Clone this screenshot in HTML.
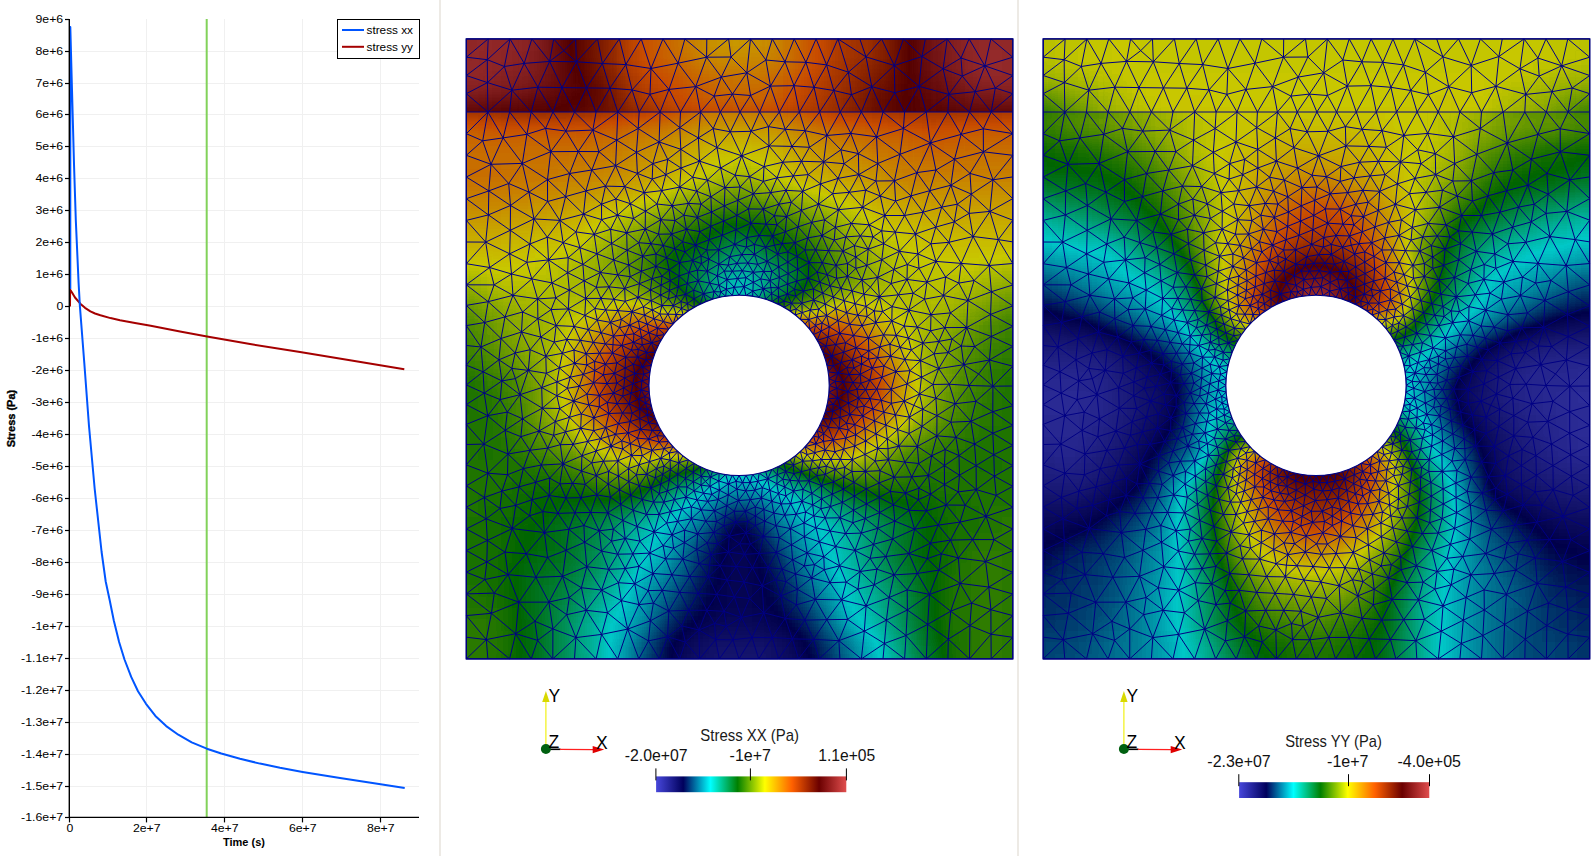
<!DOCTYPE html><html><head><meta charset="utf-8"><title>Stress</title><style>html,body{margin:0;padding:0;background:#fff}svg{display:block}text{font-family:"Liberation Sans",sans-serif;font-size:11px;fill:#000}</style></head><body>
<svg width="1594" height="856" viewBox="0 0 1594 856">
<defs>
<filter id="cm" filterUnits="userSpaceOnUse" x="-40" y="-40" width="626.5" height="700" color-interpolation-filters="sRGB"><feGaussianBlur stdDeviation="5"/><feComponentTransfer><feFuncR type="table" tableValues="0.219 0.000 0.000 0.000 0.785 0.785 0.329 0.690"/><feFuncG type="table" tableValues="0.219 0.000 0.785 0.394 0.785 0.299 0.000 0.237"/><feFuncB type="table" tableValues="0.674 0.283 0.785 0.000 0.000 0.000 0.000 0.237"/><feFuncA type="linear" slope="0" intercept="1"/></feComponentTransfer></filter>
<linearGradient id="cb" x1="0" x2="1" y1="0" y2="0"><stop offset="0.0000" stop-color="rgb(71,71,219)"/><stop offset="0.1429" stop-color="rgb(0,0,92)"/><stop offset="0.2857" stop-color="rgb(0,255,255)"/><stop offset="0.4286" stop-color="rgb(0,128,0)"/><stop offset="0.5714" stop-color="rgb(255,255,0)"/><stop offset="0.7143" stop-color="rgb(255,97,0)"/><stop offset="0.8571" stop-color="rgb(107,0,0)"/><stop offset="1.0000" stop-color="rgb(224,77,77)"/></linearGradient>
<clipPath id="ct"><rect x="0" y="0" width="546.5" height="73.1"/></clipPath>
<clipPath id="cl"><rect x="0" y="73.1" width="546.5" height="546.9"/></clipPath>
<g id="mesh"><path d="M0 0l21.9 0l21.8 0l21.9 0l21.8 0l21.9 0l21.9 0l21.8 0l21.9 0l21.8 0l21.9 0l21.9 0l21.8 0l21.9 0l21.8 0l21.9 0l21.9 0l21.8 0l21.9 0l21.8 0l21.9 0l21.9 0l21.8 0l21.9 0l21.8 0l21.9 0l0 18.3l-21.9-18.3l-6.1 26.9l-15.7-26.9l-8.1 19.1l-13.8-19.1l-25.2 17.6l-18.5-17.6l-9.2 26.6l-12.7-26.6l-15.6 18l-28.1-18l10.5 33.3l3.1 22.5l-11.3 17.3l-20.6 0l-20.2 0l-20 0l-19.7 0l-19.7 0l-19.7 0l-19.8 0l-20 0l-20.4 0l-20.9 0l-21.4 0l-21.7 0l-21.6 0l-21.6 0l-21.7 0l-21.6 0l-21.7 0l-21.6 21.7l0 21.6l0 21.7l0 21.7l0 21.7l0 21.6l0 21.7l0 21.1l0 20.6l0 20.2l0 19.9l0 19.7l0 19.7l0 19.7l0 19.8l0 20.1l0 20.4l0 20.9l0 21.4l0 21.7l0 21.6l0 21.7l0 21.7l0 21.7l0 21.6l0 21.7l21.6 0l21.7 0l21.6 0l21.6 0l21.7 0l21.6 0l21.6 0l21.1 0l20.6 0l20.2 0l20 0l19.7 0l19.7 0l19.7 0l19.9 0l20 0l20.4 0l20.9 0l21.5 0l21.6 0l21.6 0l21.7 0l21.6 0l21.6 0l21.7 0l21.6-21.6l0-21.7l0-21.6l0-21.7l0-21.6l0-21.7l0-21.6l0-21.1l0-20.7l0-20.2l0-20l0-19.7l0-19.7l0-19.8l0-19.8l0-20.1l0-20.4l0-20.9l0-21.5l0-21.6l0-21.7l0-21.6l0-21.7l0-21.6l0-21.7l0-21.6l0-18.3l0-18.2l0-18.3l-28 8.6l28 9.7l-17.5 12.5l17.5 5.7l-21.6 18.3l21.6 0M0 0l0 18.3l21.9-18.3l-0.9 20.8l22.7-20.8l-5.6 27.6l7.5 23.7l-24 21.8l-21.6 0l0 21.7l16.4 7.1l-16.4 14.5l24.7 9l-24.7 12.7l22.5 13.9l-22.5 7.8l22.1 16.2l-22.1 5.5l19.4 21.7l-19.4 21.6l23.3 3.8l-23.3 17.3l27.8 0.1l-4.5-17.4l-3.9-25.4l-19.4-0.1M43.7 0l14.2 24.5l7.7-24.5l17.7 22.5l4.1-22.5l10.1 11.8l11.8-11.8l0.8 22.9l21.1-22.9l4.9 24.6l16.9-24.6l6.5 25.7l15.4-25.7l9.8 29.6l12-29.6l15.1 24.3l6.8-24.3l21.7 18.3l0.2-18.3M262.3 0l-22 18.3l-28.5 6l-27.1 5.3l-18.9 21.4l-14.3 22.1l-7.9-23.8l-13.8 23.8l-9.6-24.1l-12 24.1l-8.6 19.1l-13-19.1l-15-24.8l-6.7 24.8l-19.3-21.8l-2.3 21.8l17.3 22.3l4.3-22.3l14.4 16.4l7.3-16.4l9.1-24.4l12.5 24.4l18.3 18.1l3.3-18.1M262.3 0l2.4 18.1l19.5-18.1l15.4 21.1l6.4-21.1l12.7 22.9l9.2-22.9l11.7 23.4l10.2-23.4l10.5 26l11.3-26M284.2 0l-3.7 33.9l3.8 22.7l-10.6 16.5l-9.7 19.8l-10-19.8l12.2-17.9l7.5 17.9l11.1 19.3l8.6-19.3l-9.1-16.5l19.9-9.4l-10.8 25.9l8.8 14.6l10.9-14.6l-8.9-25.9l14.5-24.3l-19.1-1.8l4.6 26.1l-23.7-13.3l-25.5 4.3l-25.6 9.5l-15.2 25.4l-11.5-22.6l-8.9 22.6l-1 29.9l-6.3 21.7l-0.6 15.5l-14.8-5.7l15.4-9.8l14.9-4.2l-8.6-17.5l-22.7 10.4l16.4 11.3l13 11l-13.6 4.5l9.5 11.5l10.5 15.1l16.2-2.3l8.2-12.2l14.3 5.6l-3.5-16.7l-10.8 11.1l-3.9-14l14.7 2.9l17.6 7.6l12.9 12.6l15.5-6.4l9.9-12.5l0.7-14.8l-14.4 10.1l13.7 4.7l7.4 11.2l-17.3 1.3l-3.8-17.2l-14.5-1.5l-10.1 12.5l-14.1 9.1l0.6 15.2l-0.7 14.3l-10.9 5.3l9.2 8.1l9.5 10.1l11.2 6.9l12-2.1l4.6-7.5l-11.8-2.7l-4.8 12.3l-1.6 8.4l-9.3-1l10.9-7.4l7.2 6.6l4.8-8.7l-7.2-10.2l-16 5.4l-9.7 9.4l-7.5 4.5l-3.9 6.4l0.6 10.7l11.5 2.3l7.7-7.3l9.7 3.8l10.5-1.1l6.5 8.1l-4.9 8.7l-6.7 0.2l-6.7 0.8l-6.6 1.2l-6.5 1.8l-6.4 2.2l-6.1 2.7l-6 3.1l-5.7 3.6l-5.4 4l-5.1 4.4l-4.8 4.8l-4.4 5.1l-4 5.4l-3.6 5.7l-3.1 6l-2.7 6.1l-2.2 6.4l-1.8 6.5l-1.2 6.6l-0.8 6.7l-0.3 6.8l0.3 6.7l0.8 6.7l1.2 6.6l1.8 6.5l2.2 6.4l2.7 6.1l3.1 6l3.6 5.7l4 5.4l4.4 5.1l4.8 4.8l5.1 4.4l5.4 4l5.7 3.6l6 3.1l6.1 2.7l6.4 2.2l6.5 1.8l6.6 1.2l6.7 0.8l6.7 0.3l6.8-0.3l6.7-0.8l6.6-1.2l6.5-1.8l6.4-2.2l6.1-2.7l6-3.1l5.7-3.6l5.4-4l5.1-4.4l4.8-4.8l4.4-5.1l4-5.4l3.6-5.7l3.1-6l2.7-6.1l2.2-6.4l1.8-6.5l1.2-6.6l0.8-6.7l0.2-6.7l-0.2-6.8l-0.8-6.7l-1.2-6.6l-1.8-6.5l-2.2-6.4l-2.7-6.1l-3.1-6l-3.6-5.7l-4-5.4l-4.4-5.1l-4.8-4.8l-5.1-4.4l-5.4-4l-5.7-3.6l-6-3.1l-6.1-2.7l-6.4-2.2l-6.5-1.8l-6.6-1.2l-6.7-0.8l-6.8-0.2l-4.8-8l-1.9 8.2l-6-6.3l-0.7 7.1l-4.9-4.4l-1.7 5.6l-5.1-5.8l-1.4 7.6l-9.1-5.6l-3.4 10.5l-6-5.4l0 8.5l-6.6-3.8l0.9 7.4l-6.9-2.4l1.5 6.4l-6.9-0.5l-3 9.7l-9.7-2.6l5.3 7.7l-11.1-1.1l7.1 6.5l-8 1.1l4.4 4.6l-9.8 2.5l4 9.6l-9-0.1l6.8 6.5l-7 1.3l5.2 5.2l-8.9 1.3l7.7 5.3l-6.4 2.3l5.6 4.4l-7.5 2.2l7.2 4.6l-7.9 4.6l8.2 2.1l-4.5 4.4l5.3 2.3l-4.8 4.2l6 2.4l-4 3.6l5.8 2.9l-5.8 3.2l8 3.2l-6.5 4.5l9.2 1.6l-5.8 6l8.9 0l-4 5.3l7.6 0.4l-5.6 5.9l9.6-0.5l-4.8 7.2l9.2-2.1l-3.9 6.4l8.7-1.6l1 11.4l9.5-3l-2.3 8.7l8-5.1l-0.9 9l6.9-5.9l1.1 9.7l5-7l4.2 7.9l8.7-3.9l-0.3 7.8l6.9-6.6l2.7 9.5l4-8.7l3.7 6.2l3-5.9l3.5 7.1l3.3-7.4l4.2 7.4l2.5-8.2l5.3 6.8l1.3-8l8.5 5.7l4.4-9.7l5.1 5.5l1-8.2l7.5 5.1l-1.5-8.2l9.2 1.7l1.9-9.3l7.6 5.4l-2.5-9.8l6.7 3.1l-1.9-7.9l9.5 6l1.2-8.7l-2.3-7.8l5.3 1.2l-1.7-6.9l6.5 3.3l-3.4-9.3l8.1 3l-5.4-9.1l8.4 0.9l-6.2-7.3l7.7-0.8l-5.9-5.7l6.2-1.1l-5-5.5l9.4-0.8l-8.6-5.9l7.9-3.7l-7.7-3l6-4l-6.2-2.8l9.2-5.5l-10-1.2l5.1-6.1l-6.3-0.5l4.9-9.4l-8.9-3.5l3-6.4l-8.8-5.7l10.9-3.3l1.2-10.1l10.5 6.4l5.8 9.4l10.6 5.1l12.6 2.9l11-3.8l10.1-2.6l6.2-9l-4.3-14.4l17-10.8l8.5 16.9l13.7-12.3l-22.2-4.6l4.3-16.9l13.9-11.1l16.5 13.5l15.3-12.5l15.3-2.6l15.1-15l23.6-2l-14.5-23.9l14.5-19.4l-22.9-8.8l22.9-12.8l-19.8-18.8l19.8-24.5l-29.4-3.5l29.4-18.2l-21.6-21.6l-21.7 0l-21.6 0l-21.7 0l-21.6 0l-21.6 0l-21.7 0l-21.1 0l-13.3 23.5l-7.3-23.5l-5.6-24.7l-14.6 24.7l5.7 18.7l14.5-18.7l14.2-21.5l6.4 21.5l10.6 21.4l10.5-21.4l-9.8-17.3l20.3-8l-10.5 25.3l15.2 24.8l6.5-24.8l20.4 16.5l1.2-16.5l14.4-25.7l7.2 25.7l4.2 30.9l17.5-30.9l0.9-17.6l-22.6 17.6l-22.8 16.5l27 14.4l-13.6 29.7l-5.8 23.3l12.1 16.3l18.6-5.1l9.2-21.9l19.1-11.8l1.3 20.7l-20.4-8.9l3.6-26l15.5 14.2l23 6.4l19.8-2.9M393.5 0l6.2 18l-17.6 15.3l23.4 14.5l11.2 25.3l11.8-19.3l9.8 19.3M459.1 0l-3.4 17.6l-27.7 9l-22.5 21.2l-5.8-29.8l28.3 8.6l24.7 20.8l29.8 8.1l20.7 17.6l5.6-20.3l16.1 20.3l-7.9 16.8l29.5 4.8M480.9 0l-4.1 29.9l5.7 25.6l26.3-2.7l9.7-25.9l-23.8-7.8l-17.9 10.8l-21.1-12.3l-3 29.8l-24.2 6.4l-23-6M546.5 203l-14.5-2.3l-9.1 25.9l23.6 19.5l-21.4 6.7l21.4 14.2l-22.2 8.5l22.2 11.9l-21.5 10.2l21.5 9.9l-23.3 13.6l23.3 6.2l-19.9 20l19.9-0.2M546.5 366.8l-19.9-19.5l-14.3-12.2l10.9-14l1.8-23.5l-24.6-9l-21.9 0.1l-6 13.8l9.5 11.2l13-6.6l5.4-18.5l1.3-27l-9.2-17.4l-13.2-6.1l-18.6 5.1l9-20.7l-5.1-17.6l-13 10.1l-10.6 10.6l-13.4 4.9l-2.8 14.1l-13.4-6.1l16.2-8l13.1 10l20 2.7l-2.5 17.1l-15.7 10.9l-10.4-15.3l-7.3-11.3l-11.7 13.3l-13.4 9.6l1.2 10.1l-9.5-1.2l8.3-8.9l-11-2.7l-2.9-12.9l-4.7-14.3l-11.4-11.1l-7.5-14.7l5.7-10.6l11.6-3.2l5.6-13.5l17.7 1.4l12.6 6l13.6 1.3l-11.6 11.6l-15.5 5.5l-12.4 7.8l11.1 8.3l1.3-16.1l-7.9-13.3l-8.9-12.5l-12.9-13.7l-14 10.1l-6.1-15.5l2.1-20.4l3.1-22l-22.1-0.6l-9.6-14.9l13.2-15.7l21.8 4.8l-3.3 26.4l17.2-12.1l-13.9-14.3l23.9-2.1l25.7 3.4l26.9-8.3l-3.4 25.8l30.4-11.4l24.1 16.3l6.6-24.8l-13.2-22.4M546.5 366.8l-20 6l20 13.7l-20 7.8l20 12.2l-19 9.3l19 10.9l-18.4 10.6l18.4 10.1l-16.6 9.1l16.6 12l-26.7 8.9l26.7 12.7l-18.8 10.6l18.8 11.1l-27.2 10.8l27.2 10.8l-24 14.8l24 6.9l-21.9 15.7l21.9 5.9l-21.8 18.6l21.8 3.1l0 21.6l-21.6 0l-0.2-24.7l-21.5 24.7l-21.2-19.7l-0.4 19.7M503.2 620l0.4-33.3l-21.6 13.6l-22 19.7l-20.3-23.4l-1.4 23.4l-20.2-15.4l-1.4 15.4M460 620l1.4-34.5l20.6 14.8l2.4-28l9.5-27.8l25.4-21.9l-13-21.9l13.5-23.3l-20.9-11.1l11.1-15.6l18.1-13.4l-18.3-10.6l-16.6 9.6l-15.1-9.6l0.1 18.9l15-9.3l16.8 14.4l9.8 26.7l-26.1 5.8l-21.7 3l-7.9 18.1l10.9 10.6l-2.4 16.3l21.3 13.3l11.4 19.6l-1.7 22.6l21.1 8.6l-0.1-24.5l-19.3-6.7l-20.9 8.2l19.2 14.4l21-15.9l-2.1-22.6l-3.2-25.6l-27.2-3.6l1.8 25.5l28.6 3.7l-17.2 15.9M395.1 620l2.9-27.7l-16.7-11.8l-20.8 0.3l-13.3 19.7l5.5 19.5l19.9-18.2l22.5 18.2l23-15.4l-20.1-12.3l1.8-25.2l23.1-8.5l4.9-22.6l23.3-1.4l-8.5-20l-14.8 21.4l-8.2-18.4l-12.3-12.2l19.1-5.3l2.1-17.9l-15.2-8.5l-0.4-15.1l-13-8.6l-0.9-17.5l9.8-10.3l13.2-1.4l-10.5-11.3l-2.7 12.7l5 9.6l8.2-11l16.5 2.4l12.6-15.7l19.4-10.6l14-13.6l4.4-18.5l20.7-2.4l17-15.1l-3.4-26.2l-25.8 4.7l14.9 9.3l-9.6 11.5l-13.8 18.2l-18.2 11.9l-0.2 20.2l19.1 1.6l18.6 6.6l18.3-10.8l1 21.5l0.6 21.5l1.8 19.2l-10.1 20.9l7.9 23.3l-8.4 21.9M373.6 620l-1-18.2l25.4-9.5l22.1-11l19.6 15.3l21.7-11.1l23-13.2l-21.2-16.8l30.7-11M332.3 620l-6.3-20.1l-13.7 20.1l-6.4-21.5l-13.5 21.5l-6.7-21.4l-13 21.4l-6.1-19.1l-13.6 19.1l-3.7-19.3l-16 19.3l-14.2-16.8l-5.8 16.8l-12-22.1l-8.2 22.1l-10.9-18l-9.7 18l-11.1-29.8l-10 29.8l-16.1-24.5l-5.5 24.5l-20.2-21.3l-1.4 21.3M332.3 620l14.9-19.5l-21.2-0.6l-20.1-1.4l-8.4-24.6l-1.6-26.9l18.6 10.1l-17 16.8l-22.5 4.6l8.4-18.9l14.1 14.3l21.4 5.5l7.1 20.5l12.5-18.7l22-0.4l-11.5-20.3l14.7-16.7l-18.4-4.6l3.7 21.3l26.3 0.5l-14.8 19.8l12.1 21l-25.4-1.3l-8.7-19.3l10.5-20.7l-18-10.1l-16.5 6.7l4.4 22.3l-13 19.1l-20.2 0.1l11.8-24.7M233.3 620l-0.7-28.9l7.9-19.7l9.9-15.8l-8.2-17.6l-9.2-13.2l-9.6 12.9l18.8 0.3l-10.3 16.4l8.6 17l17.1 1l17.4 6.1l-8.4 22.4l-17.3-0.2l-1-16.1l-7.8-13.2l-18.1 0l-19.9 0.7l12.9 14.9l3.7 16.2l13.5-12.1l-17.2-4.1l7-15.6l9.5-17l-8.5-16.7l-6.9-17.5l16.5 4.6l-2.6-14.2l10.4-6.6l-9.5-9l-0.9 15.6l-13.9 9.6l1.6-16.5l-12.4-7.7l-5.4-11.8l3.8-11.4l7.3 9.6l-5.7 13.6l-8.9 10.7l2.5 13.3l17.2 0.2l-10.9 15.7l17.8 1.8l-10 15.8l-10.9 18.6l-6.5-20.7l9.6-15.5l-6.3-15.9l-12.7 14.6l-18.2 10.3l-16.3-1.1l6.8-14.1l9.5 15.2l4.2 20.8l-11.2 24.5l-20.2-16.3l-21.2-2.5l-17-12.8l-6.7-21.2l24.2-9.6l-20.7-16.4l-21.7-17.8l-32.2-3.9l14.1 25.1l-18.2 20.9l-23.3 4.9l-18.5 14.4l25.1 19.4l-25.1 2.3l20 24l23.3 19.3l6.1-25.2l15.5 25.2l6.4-18.5l15.2 18.5l0.1-30l-18-7.6l-16.1-19.1l-10.7-27.6l-3.1-22.4l7.2-23.6l-12.3-20.1l2.1-17.4l-14.1-17.9l-21.6 12.6l18.1 11.7l-18.1 9.7l19.8 11.6l-19.8 10.1l21.1 11.5l-21.1 10.1l20.5 11.4l-20.5 10.3l18.5 7.3l9.5 13.6l-28 0.8M86.5 620l23.1-21.3l-23-8.7l-4-26.8l-14 19.2l-19.2 12.4l-24.3-20.4l27.4-11.1l30.1-0.1l13.7-25.8l-15-18.8l-3.2-25l24.5-3.2l-2.8 21l-3.5 26l-26.7 1l-27.8-2.7l-13.8 18.5l-2.9 20.2l-5.1 26.3l1.6 19.3M0 620l20-19.3l-20-2.4M0 426l21.6 8.3l20.1-19.2l12.9-17.3l18.1-5.7l16.2-9.3l-12.9-13.5l-3.3 22.8l8.7 17.1l15.2 15.8l-13.2 14.2l-0.5 17.4l16.7 2.5l15-0.3l4.4-13.3l-12.8-1.1l-6.6 14.7l-8 15.4l-13.5 19.1l-18.1 21.2l21.3 3.8l18.5-7.2l18.5-8l2.2 24.4l14.7-15.6l10-9.9l13.7-2.7l-2.3-18l14.1 6l-11.8 12l14.7 2.6l-2.9-14.6l-3.8-16.2l-2.6-15l-1.8-13.7l-10.4-5.6l-10.3 8.1l2.3 13.1l-2.7 15.7l15.2 7.6l10.3-10.2l13.2 4.1l-9.4 12.1l17.2 5.5l17.8 2.9l12.6-4.7l6.8-11.4l9.8-9l13.3 1l10.7 5.6l10.6 5.9l-1.5-11l-9.1 5.1l-8.7 5.1l-2-10.7l3.7-11.2l-6.4-5.2l-8.4-1.2l-9.2-2.4l-0.9-9.1l-0.1-9.3l-7.1-3.9l-7.2-5.7l4.1-7M0 426l17.5-20.8l-17.5 0.4M0 385.5l21.4-8.7l-21.4-11.1l17.9-11.5l-17.9-8.2l16.8-13.1l-16.8-6.6l14.7-18.2l-14.7-1.5M0 385.5l17.5 19.7l4.1 29.1l19.6 1.5l0.5-20.7l15.3 14.6l-4.2 18.3l13 12.8l-2.5 16.1l14.8 16.7l-1.6-20.9l-10.7-11.9l17.1-4.2l8.7 17.9l11 15.9l15-3.8l0.7 16.8l-15.7-13l6-16.5l-9-14.8l-6-14.1l3-20l19-8.1l14.2-4.8l-8.4-9.6l-7-13.2l13 2.4l-6 10.8l12.8-2.7l-4.4 12.3l-4.4 11.9l-9.8-7.1l5.8-14.4l-14.6 3l7.6-16.2l-11.2-10.9l-14.3 4.4l10.3 10.2l15.2-3.7l13.2-10.3l-0.2 12.7l6.8 8.1l7.9-2.3l2.5 9.8l10.8-5.4l6.2-8l2.2-11.2l9.6-3l-7.5-5.5l-2.1 8.5l-11.7 2l-9.5-10.1l8.2-9.9l-3.7-10.5l9.4 3l-5.7 7.5l12 0.1l-6.3-7.6l0.9-8.3l-10.3 5.3l-6.4-9.5l7.5-10.3l10.7-5.3l-0.4 10l-10.3-4.7l2.4 9.7l-3.5 10.1l-14.1 2.3l7.7-11.8l9.9-0.6l7.9-5l8.1 5.7l8.2 6.3l-2.5 9.1l-9.5 4.6l3.1 9.4l-9.7-0.1l-5.4-9.4l-9.8-1.1l6.1-9.4M0 286.7l14.7 21.4l2.1 24.8l15.8-12l16.3-6.8l13.1 17.4l17.5-14l16.6-3.1l11.6-3.2l6.4-9.8l-6.3-13.9l-5.8-17.5l-12.5-11.1l-18.2 1.1l-15 13.1l-1.1 20l19.2 5.1l5.1 19.3l13.6 11.5l3-14.6l12.2 10l8.8 11.1l10.2 8.4l13.4 0.8l-3.6-8.8l11.1-1.5l-9.1-9.2l7.1-11l-7.2-9.2l-4.2-11.3l-3.8-12.6l8.4-10l8.1-10.7l-4.8-12.5l8.7-11.9l-17.4-2.4l-3.3-18.7l14.6-10.3l15.1-10.7l0.4 17.4l-15.5-6.7l-17.4-9.1l-10.7-20.3l-17.9-17.5l-5.8 23.8l-25.8-1.5l-5.1-26.8l-20.2-8.6l13.6-20.1l6.6 28.7l18.6-12.5l-25.2-16.2l28.4-11.7l15.2-20.6l12.3 20.4l-27.5 0.2l-23.8-17.4l-4.6 29.1l-31.3 0.9l17.7 19.2l-19.9 7.4l2.2-26.6l12.1-26.4l-15.2-25.9l-21.6-18.3l0 18.3M0 286.7l18.4-3.1l-18.4-17.1l21.9-3.7l-21.9-16.9M0 54.8l0-18.2l0-18.3l21 2.5l-21 15.8l21.2 7.1l-21.2 11.1M21.6 73.1l-0.4-29.4l24.4 7.6l26-3l11.7-25.8l26.8 0.4l10.1 26.1l23.4 0.3l22.2 1.7l7.1 22.1l-1 16.5l-20.4-16.5l-1.1 28.1l-1.1 25.6l21.8 7.7l-1-21.1l-20.8 13.4l-16.7-14.1l17.8-11.5l19.7 12.2l1.8-23.8l21.9-16.5l19.7 15.6l0.7-15.6M21.6 73.1l-5.2 28.8l8.3 23.5M43.3 73.1l-6.5 25.9l19.2 25.5M151.5 73.1l-25 18.1l-26.9 1l-20.3-2.7l5.1 23.3l18.9 21.8l8.6-22l20.7 0.1l-7.1 18.4l23.8-4.3l-10.1 20.4l-4 18.1l16 11.1l9.2 17.5l18.5-3.8l0.2-17.8l-15-7.5l-12.9 11.6l-15.9 4.3l-18.1-5.5l18-9.9l0.1 15.4l-7.4 14.8l2.8 19.4l-14.1 10.6l17.4 8.1l8.7 14.3l15.7 1.7l-7-13.6l12.5 1.8l11.2-5.5l1.3-14.9l13.3-2.3l7.2-8.6l8.4-11.4l-10.8-14.3l11.4-14l7.5-18.6l8.7 16.3l-4.5 11.8l-11.7-9.5l2.8 14.8l-3.4 13.5l11 7.7l2.4 10.1l-10.2-3l-3.2-14.8l-13.1 0.2l-13.3-5.2l15.6-9.3l-15.4-8.5l-1.3-18.5l8.1-13.6M172.9 73.1l10.8-17.7l10.1 17.7M234.2 73.1l-2.1 25.9l18.6 9.7l13.3-15.8l20.8-0.5l17.9 14.6l-5 20.7l13.1 11.2l-13.8 3.6M234.2 73.1l-4.8-25.4l-17.6-23.4l-9.1 26.2l-18-20.9l-25.2-3.9l-15.9 23.6l-7.5-24.7l-26-1.7l-14.4 25.8l-12.4-26.2l-25.4 2l-12.3 26.8M234.2 73.1l-20.7 15.6l18.6 10.3l14.8-9.3l-12.7-16.6l13.6-15.9l6.2 15.9l-7.1 16.6l17.1 3.2l11.4 24l22.3 10.8l18.8-4.4l18.7-0.9l-8.2 14.6l-16.2 1.9l-6.4 14.8l8.2 11.6l-15.7 4.9l-9.8-15.2l-5 15l-10.5-8.6l-1 15.1l-13.2 5.6l-12.9 5.3l-1.7 13.4l-13.6 5.4l-10.5 6.7l7.6 8.7l4.9 9.6l-8.5 2.4l-9.9 3.5l-0.8 10.8l-8.8 3.6l-1 8.3l-6.5 6.8l-10.8-4.9l-0.7-10.7l10.6-4.8l0.9-9l7.2-6.2l9.9 6.1l0.4-13.4l5.5-10.8M313.1 73.1l14.6-26.3l5.4 26.3l-14.2 17.3l-5.8-17.3M503.2 73.1l13.8 16.8l-22.2 5.6l8.4-22.4M524.9 73.1l4.1-24l-10.5-22.2l-22.5 10.3l12.8 15.6l20.2-3.7M343.3 402.6l6.3 2.4l-10.7 2.7M323.6 420.9l3.5 5.3l9.5-3.9l-1.6 10.5l-2.7 9.3l-4.9 10.1l-3 12.6l-6 11.5l-8.7 10.5l-12.6 10.9l-8-11l0-9.6l8.5-6.5l7.8-8.1l-10.4-3.4l1.1-10.3l5.3-8.8l-2-7.5M246.3 432.5l-2.2 5.7l8.4 3.9l9.6 2.9l-0.1 11l8.6-5.7l-8.5-5.3l7.7-2.5l0.8 7.8l1.5 11.4l-10.1-5.7l-10.1 4.7l8.5 6.1l-1.5 10.7l-1.3 9.5l11.9-3.6l10.1 10.5l9.5-7.2l-7.8-4.1l-11.8 0.8l-6.6 13.9l-0.9 15.8l8 14.5l-16.2-0.8l-11.6 11.2l18.5 3.1l9.3-13.5l16.2 1.3l9.7 18.1l5.8-18.3l-8.7-14.1l4.1-16.9l-12.9 7.4l8.8 9.5l-6.8 14.3l15.5-0.2l7.6 12.1l-13.4 6.2l-12.5 12.6l-5.7-16.5l-7.7-15.5l8.2-12.2l14.8-0.8l17.1-1l16.2 7.3l2.9 14.2l16.1 4.1l12.7-8.4l5.7 13l11.6 17.2l16.4-10.8l8.1 16.9l-24.5-6.1l6 19.5l18.5-13.4l20.3 14.2l2.8-22.7l18.2 12.5l-1.4 25.5l-21.6 8l2-23.3l21-10.2l20.3 14.4l1.8-30l-12.1-20.9l21.5-3.4l-9.4 24.3l-22.1 15.6l-0.2-20.1l-13.1-15l-17.2-5.7l9-12.7l23-3l21.5-10.3l-15.8-14l-19.8-8.1l-1.4-16.3l-13.8 7.8l-14.4 6l-12.4 4.1l0.8-12.5l11.6 8.4l12.6 9.7l17-7.2l14.3-10.8l9.2-10.6l8.1 11.2l11.9 14.2l-23.7 4.1l-5.7 24.3l-16.2-14.5l21.9-9.8l11.8-18.3l19.8-5.9l-7.9 20.1l12.2 15l-9.2 13.7l17.1 4.1l14.2-18.3l-12.6-17.5l5.2-16.9l-19-0.2l-1.7-20.5l-16-9l15.9-9.9l14.6-10l0.5 19.6l-1.3 16.7l-13.7-7.4l-14 9.7l-12.2 5.5l0.6-11.5l9.6-12.7l-9.8-12l-1.3-17.1l-8.3-12.9l-10.2 12.6l18.5 0.3l14.2 9.4l12.8 9.8l0.8-16.1l-8.4-13.7l-5.2 20l-12.9 7.7l-13.9-1.4l-5.9-16l-10.6 13.6l5.9 17.5l10.6-15.1l6.9 14.8l7-13.4M211.6 412.5l-7.8 8.8l-0.9-7.2l-8.5 5.3l-4.3 10.3l-7-6.9l11.3-3.4l-8.7-8l7.1-8.3l-10.7-2.9l-8.1 7.8l-2.8-8.7l3.1-9l-0.9-10.6l9.1 4.2l-8.2 6.4l-10.5-7.6l-7.6-8.6l-4.1 10.6l9.5 9.2l12.7-3.6l7.8 9.9l-10.9-0.9l-9.6-5.4l-12.2 1.4l6 6.6l0.9 8.2l-4.9 11.8l0.7 15.2l1.1 13.8l11.1 5.5l11.6 4.1l8.7-11.3l9.8-4.1l8.6-4l1.1-10.4l8.5-6.8l-1.2 11.6l-7.3-4.8l-0.3-9.4l-9.4-1.9l3.3 7.8l6.4 3.5l-7.7 4.7l-2 9.7l-1.5 9.5l-8.3-5.4l-4.3-13.8l9.8-5.7l7.6-2.5l6.1-5.9l8.8 2.6M191.7 307.4l-6.7-3.5l5.4-7.1l-7.7-2.9l-1.9-8.7l-2.7-9l-12.4-3.3l-10.6 7.6l8.2 5.8l2.4-13.4l6-14.5l13.2 3.3l9.4-5.6l7.9 3.7l7.8-2.4l2-9.5l7.3 7.5l1.9 9.2l-6 5l-5.4 5.9l1.8 4.9M206.8 285.2l-5.2-9.9l8.2 0.2l-2.7-8.8l-4.9-6.9M239.9 262.6l-2.7-7.8l6.1-10.6l4.4 8.6l-10.5 2l-5.4-12.9l-4.4 9.4l9.8 3.5l-9.4 5.1l-6.6 4.7l-6.5-1.9l0.5 6.9l-8.1-2.9l-11.4-0.1l-2.2 8.5l3.6 7.5l-9.4-2.7l-6.9 5.3l-7.2 4.9l-10.3-3.8l-10.1 2.5l1.9-8.3l-10.9 3l-4.8-12.4l-4.8-11.6l-15.2 0l-1.6-17.6l16.2-8.3l13.4-12.5l4 14.9l11-9.9l-1.6-14.8l15.6 6.1l13.2 10l0.1-12.3l-5.1-10.3l-5.7-14.7l-11.7-10.5l-6.8 14.3l-16.1-3.5l6.9-14l-1.6-16.3l14.5 4.7l13.7-11l-6.7-19.3l-12.7 13.2l-9.1-20.9M279.6 256.6l-1.9-8.9l2-8.9l-8.5 0.8l4.8-7.8l3.7 7l7.2-5.4l-10.9-1.6l5.6-7.7l-6.1-8.4l12.8-0.2l-8.2-7.3l0.4-9.6l-12.2 6.9l1.4-14.7l-12.3-8.7l-12.2-9l-14 5.4l-9.1-14l12.6 0.7l-4.4-12.9l-16.9-4.1l13-9.9l6.8-16.1l7.9 19l13.2-12.1l-3.6-20.4l-3.8-19M279.6 256.6l7-4.5l-0.3 5.3M292.9 258.6l3.9-8.8l2.6 10.6l5.9-5.7l0.5 7.9l6.6-4.5l-0.5 7.2l5.8-3.1l0.2 6.2l7.2-4.2l-1.5 7.8l6.3-2l-0.9 6l6.9-2.3l-1.8 6.7l8.4 0.2l-3.6 4.6M292.9 258.6l-6.3-6.5l-8.9-4.4l-9.7 0.7l3.2-8.8l-5.1-7.3l9.9-0.5l-5.3-7.4l-8.8 1.8l4.2 6.1l-5.4 8.4l-8.1 5.6l-9.3-2.1l-2.5-11.9l1.8-12l-7.9-3.4l0.4 7.9l-8.8-3.2l2.9-15.4l4.4-13.5l-2.4-14.2l13.3 8.9l11.5 9l-3.7 14.5l-11.9 0.2l2.2 9.2l10 4.9l-0.3-14.3M343.3 290.3l5.9-3.7l-1.9 9.1l7.4-3.5l-3.8 9.2M343.3 290.3l-0.8-9.7l6.7 6l1.7-8.6l9.5-1.2l-1.5-11.7l8.1-7l-3.1-11.2l-10.5-3.6l2.9 10.9l2.6 10.9l10.6 4.8l10.9 4l11 2.5l-8.1 9l-9.8 9l-11.7 3.7l7.6 7.5l9.9-1.8l7.9-7.2l2.7 12.3l-4 11.9l1.7 8.3l-7.1-0.4l-8.6 5.5l2.8-10.6l11.2-2.8l-5.4 7.9l-5.8-5.1l-9.1-6.6l-6.7 2.9M354 307.4l5.7-0.3l2.1-9l-7.1-5.9l8.3-4.2l-2.6-11.2l9.1-6.9l-2.5-11.8l-10.7-3.9l7.6-7.3l10.7 2.6l6.5-11.9l0.1-13l-11.5 1.9l-13.7-2.7l6.2-12l14.3 0.4l-6.8 14.3l-8.9 9.2l-7.4 7.6l-2.5-10.1l-8.2-9.4l-11.2 6.4l-1 11.9l6.7 10l-7.7 5.2l-8.4-2.1l-3.4 7l-5.3-4.1l8.7-2.9l-9.2-6.3l-7.3-0.2l0.7 6l-8.5-4.9l7.8-1.1l-1-7.1l2.1-9l-4.8-10.2l-1.6-14.1l-6.4-11.7l6.8-11.4l10.9 0.7l9.8-8.3l11.3 10.4l9.8 11l-13 4.8l3.2-15.8l3.4-16.5l17-6.1l20.1 5.4l10.7-17.4l9.6-17.7l-0.4-21l18.1-16.8l1.3 26.7l-19 11.1l-14.7-10.9l-20.5-1.8l14.5 16.5l20.7-3.8l6.8 15.6l14.7 5.8l15.3 5.1l15.4-5.2l-16.6-15.1l22.4-8.2l19.1-2.6l-5.5-27.1l30.7-8.5l22.3 17.4l-13.4 21.6M42.4 144.6l1.8 22l23.5 13.4l-4.1 25.1l-19.6-13.7l23.7-11.4l13.6-17.4l-18.7-9.4l-18.4 13.4l-21.7-14.6l-0.4 24l21.9 15.4l-24.6 11.8l2.7-27.2l22.1-9.4l-0.2 24.8l-0.6 23.5l-20.1 13.7l21.9 6.5l-17.4 10.9l-5.9 16.8l-3.5 20.8l-3.7 24.5l20-8.5l14.2 14.5l-3.4 15.4l16.5 2l-8.3 24.3l-19.8 4.9l7.1 12.5l12.7-17.4l22.3 13.5l-19.7 10.6l16.4 12.2l14.6 4.3l1.6-13.6l4.5-13.2l-17.4-0.3l-0.6-20.6l-21.7 7.1l2.6 24.1l-1.7 17.9l-15.8-6.3l2.9 23.6l-24.2-9.9l3.9-28.4l12.5-16.1l1.7-18.7l-18.8-9.1l1.1 21.3l16 6.5M437.7 362.1l9.8 4.3l9 4l14.2 6.3l13.8 6.6l5.1 15.2l15-16.1l-15.7-17.6l-6-19.5l19.8 1.3l6.9 15.8l-5 20l21.9 11.9l0-21.5l-16.9-10.4M437.7 362.1l-12.7 2.3l4.1 11.5l8.6-13.8l3-17.1l-11.2-12.2l-13.8 5.5l-5.2 11.9l-6.8 9.6l-5.8 7.3l-1.5 10l2.3 12.6l0.7 12.4l12.1 7.4l9.5-9.5l11.6 7.2l-1.2-16.5l11.4 3.9l0.2-16.3l-5.3-16.2l-12.7-11.7l-14.5-0.2l-7-8.9l12.2-3l9.3 12.1l0 14l-7.6 8.9l11.7 2.6l-9.6 10.3l11.9 4.5l-2.3-14.8l13.9 2.4l4.5-11.9l5.8-11.3l-15.6 7M56.3 273.1l-17.6 4.9l-20.3 5.6l16.3 16l20.5-6.5l-6.3 21l15-3.3l15.6 6.7l8.4-14.3l8.2 11.2l4.4-13.9l7.2 10.7l0.6 13.2l-15.2 4.6l-13.1 5.4l-0.5-16.9M56.3 273.1l15.3 6.7l-0.3-19.8l13.5 10.7l4.7-11.8l-3.9-14.9l-14.3 16l-5.8-20l20.1 4l15.8-10.2l15.2-8.3l1.2 16.4l-16.4-8.1l1.6 17.4l-13.5 7.7M56.3 273.1l-9.6-16.7l24.6 3.6M155.4 401.9l8.7 2.8l9.9 3.3l-8.8 8.4l-13.8 5.5l-14.2 0.4l-7.4-10.2l14.8-4.8l-10.4-7.5l5.1-11.1l-11.9 3M385.1 184.5l11.2-16.1l6.5 17.5l-8.8 11.1l-14.5 1l-3 14.2l-8.6-11l-12.2-4.7l6.5 15.3l-12.9-0.8l-7.8-12l-2.9 12.1l-10.1-7.3l-12.7 0.9l-4.4 10.4l-12.1-6.8l-11 7.2l12.6 6.9l11.5 5.5l-6.7 4.7l7.4 6l-0.7-10.7l-1-12.8l-10.5 7.3l-9.6 3l-3-9.9l-6.7 8.6l9.7 1.3l-4.4 8l7.5 6.6l2.4 9.8l-10.2 2.3l0.4-8.7l-9.3 4.3M385.1 184.5l-16.1 4l-1.1 12.7M160.4 193.9l12 9.9l-11.6 7.5l-13.4 9.8l-2.1-16.5l-1-14.2l-9-9.7M488.9 364.8l-19.3-5.4l-3-13.8l5.8-15.9l-18.1-7.9l-9.3-10.8l11.6-6.7l15.9-1.8l-8.2-10.6l14.2-3.2l-13.8-12.9l12.5-19.1l24.5 4.9l6.1-20l-12.9-17.1l-2.4 19.7M21.6 434.3l-3.5 24.3l15.5 11l15.8-3.2l-3.5 23.3l-24.8 11.8l17.6 11.8l21.3 1.5l9.6 23.6l11.7-19.8M114.4 389.3l0.6-14.4l-11.8 3.5l-4 14.6l7.6 12.5l-10.2 19.5l9.6 19.4l8.4 14.4l15.9-2.8l-11.5-10.5l-3.9-13.4l-18.5-7.1l-2.5-19.2l-12.7 3.4l5.9-12.8l11.9-3.4l-5.1 12.8l12.7-0.3l8.8 11.4l-0.5 15.2l-8.9 12.3l-12.6 0.6l-10.2-5.8l-14 4.1l-3.6 17.5l-16.4 5.6l-13.7-14.2l17.1-4.2l16.6-4.7l-12.4-13.6l-15.8 6.1l-5.5 16.4l-17.6 6.4l1.7 21.3l26.1 9.8l17.4-12.8l-13.9-10.5l3.4-18.4l-11.6-12.2M164.3 456.4l-10 9.1l-10.2-7.2l-13.6-2.3l11.3-10.8l11.4 5.7l-9.1 7.4M164.3 456.4l8.7-9.7l11.6 2.5l2.6 14l-7.1 12.3l-4.2-15l-9 10.9l-12.6-5.9l2.3 16.1l-9.5 8.6l-5.7-16.2l-10.9-18l-6.1 17.5l-9.8-14.7l-6 15.1l9 12.7l6.8-13.1l17 0.5l12.9-8.5l-1.1-14.6l9.3-8.2l-0.3-13l-10.1 7.4l-9.8-4.6l-0.5 12.7l-11.9-8.5l-10.9 8.8M392.5 135.7l17.1 6.4l4.4 15l-17.7 11.3l-13.4-15l-11.1-13.9l-17.6 5.5l-17.7 7.4l15.6 13l14.2-10.6l-12.1-9.8l-12.2-9.3l-6.8-13.3l8-14l17.4-11.8M451.1 407.5l4.6-20l14.8 9.4M369.3 507.6l-5.4-15.5l-5-13l5.3-11.4l9.5 11.2l-14.8 0.2l-9.2 9.9l14.2 3.1l-10.7 10.9l16.1 4.6l19.4 4l18.6-6.2l-3.5 14l15.8-1.8l6.8-17.5l-14.9-10.7l-4.2 16l-12.3-11.2l-8.5-10.4l-12.8-4.9l-9.8 13.2l15.3 2.6l-9.9 12.9l-11.8 10.3l-4.3-14.9l-15.1-5.2l-0.4-13.7l1.6-11l8.3 3.9l11.3 2.1l-4.3-9.3l9.6-2.1l1.8-12.5l-10.8-8.5l-9.7 7.7l-2.8-12.5l12.5 4.8l-4.8-10l-7.7 5.2l-10.4 0.2l4.5 8.4l8.7 3.9l-9.8 7.9l-8.3-10.1l9.4-1.7l5.9-8.6l-7.7-9.1l-7.9-6.6l0.5 8.5l4.7 7.4l-8.6-0.7l3.7 10.8l-9-4.1l5.3-6.7l3.9-6.7l7.4-1.9l8.7-2.2l-7.1-8.3l4.2-6.7l7.6-1.9l6.8 6.9l3.6-9.5l-10.4 2.6l-2.3 8.2l-9.5 0.4M369.3 507.6l4 19.3l-9.6 16.9l16.2-0.6l11.8 7l2.2-17.6l-5.2-21l15.1 7.8l6.8 10.9l-16.7 2.3l9.9-13.2M234.9 470.9l-9.9-3l0.1 12l-13.7 2.5l-11.1 1.8l-7.5-8.6l11.3-2.8l4-12.1l3.5-12.8l-8.6-6.8l8.4-5.6l8.4-5.9l-0.6 10l7.8 3.2l7.9-5.5l-8-3.8l-7.7 6.1l-7.6 8.3l-0.2-12.4l7.8 4.1l1.5 8.5l6.3-5.3l7.7 3.4l2.4 8.1l4.3 8.2l-6.5 8.4l4.5 11.4l8.8-10.4l12.2-5.1l1.6-10.8l-8.9-4.7l-7.6 4.2l-4.1 7l6.8 9.4M234.9 470.9l-4.1-9.9l6.3-6.7l6.5-6.9l1.9 8.1M460.7 243.2l-8-13.8l-11.7-3.8l-0.3 14.9l-15.9 4.1M475.4 168.2l-12-16.4l-18.7 5.2l-6.4 19.6l-9.3 16.6l20.1 1.9l15.5 9.8l18-1.5l-12.9 19.1l-18.1-7.5l-2.5-19.9l7.7-21.8l6.6-21.5l-12.9-18.1l-16.8-18.3l-23.5-17.5M475.4 168.2l-5.9 20l-4.9 16.7M475.4 168.2l15.6-2.9l14-10.1l-2.2 19.3l4 23.1l25.2 3.1l-8.4-28.2l-18.6-17.3l21.7-14.3l-9.6-28l-28.9 7.4l-18.6 10.8l15 15.2l-21.2 5.5l6.2-20.7M475.4 168.2l12.6 14.8l14.8-8.5l20.8-2l3.1-31.6M410.5 350.2l4.4 11.1l10.1 3.1M410.5 350.2l-11.2 0.7l4.4 8.9l2.9 10.3l-8.7-3l-5.7-7.9l11.5 0.6l11.2 1.5l-8.3 8.8l-10.2 7l-12.7-1.7l-1.6-11.3l-0.7-11.4l-10.8-3.2l6.3-6.5l-5-8.8l-4.9-7.3l-1.4-9.9l3.8-11.4l4.1-11.2l13.7 2.2l14.9 2.4l11.4 9l10.7 9.3l-0.6-11.9l-6.4-9.5l12.6 0.5l8.1-9.3l4.6-15.9l-16.7-3.5l-0.3 14.3l-16.1 1.9l-8.5-6.3l-5.2 9.2l-4.3-10.4l-2.7-11.6l-8.3 9.1l-2.6-12.1l8-9.9l-11.2-2.4l-7.6 8.6l10.8 3.7l-8.3 8.1l2.2 11.9l-8.7 6.2l-7.2-3.9l4.6-7.3l11.3 5l1.8 12.6M120.5 527.8l21.8 2.6l9.8 13.4l-16.8 7.4l-14.8-23.4l-5.4 21l-18.8-11.4M67.7 180l13.3 18.3l-17.4 6.8l-20.2 9.8l-24-11.7M117.1 335.5l3.4-9.5l-12.2-1.6l11.5-9.5l-12.1-3.7M117.1 335.5l-4.1 11.9l-11.9 2l-10.5 7.5l-14.6 12.4M117.1 335.5l11.4-3.8l-0.2-9.2l-8.5-7.6l-5.7-13.5l12.9 2.1l-7.2 11.4l0.7 11.1l7.8-3.5l10.8 2.7l-2 10.7l-9.8 8l5.7 12.6l0 11.5l-5.4 11l-12.6-4.1l-7.6-12.8l-4.2 16.3l-9.8-8.8l-2.8-12.7l-15.2-8.2l-13.4-17.2l18 2.9l-4.6 14.3l15.2-5.7l2.5-14l10.9 9.3l13.1-2.8M382.1 33.3l-21.8-7.3l-12.6 22.4l-8.1-25l-20.9-0.5l9 23.9l20 1.6l19.8 3.2l14.6-18.3M369.7 226.5l0.6 12.9l10.8-1.8l14.5 3.5l-9.8 10.8l11.8 3.4l2.1 12.2l8.2 4.5l-7 5.6M212.8 237.1l8.2 7.5l-9 3.3l-8.1-6.2l8.9-4.6M189.7 215.1l10.6 3.8l2.6 12.1l-13.3-3.6l6.1 9.8l-10.1 2.6l9.2 6.4l8.4 5.3l-8.9 4.6l0.5-9.9l9.1-4.5l-8.2-4.5M305.4 462.5l2.1 11.7l10.9 2.1l11.4-0.9l9.5-2.3l-3.6-10.8l-11.3 2.5l5.4 10.6l7.9 8.7l12 4.9l-11.6 8.8l-13 8.1l1.2 15l14.6-6.9l-2.8-16.2l-13.9-8.1l13.5-5.6l9.9-7.1l2.1 12l3.5 14l-12.3 11l-15.8-8.1l-12.1-7.1l-15.9-1.1l-17.5-3.8l4.6 11.2l-6 10.3l8 13.5l-8.5 14.2l18.2 3.9M305.4 462.5l9.4 2.5l9.6-0.2l-4.8-7.9l7.8-4.7M305.4 462.5l-1.8-11l-7.5-2.7l-7.6 2.5l6.5 7.8l-11 1.7l-11.9 0.9l-4.1 10.7l-7.6-5.6l11.7-5.1l7.3-9.6l-8.8-1.8l5.7-6.6l7.5 0l-4.4 8.4l4.6 8.7l-5 11.5l-9.5 11.1M305.4 462.5l6.8-7.8l6.2-6.6l-7.9-3.3l-9.1-4.8l2.2 11.5l-8.6 7.6l2.6 11.5l-8.6-2.6l0.1 9.1l-10.1-4.8l-11 0.1M173.4 379.7l7.6-3.5l1.5 7.7l3.4 7.6l-11.6-1.2M173.4 379.7l0.2-9.7l-7.7 4.2M385.2 55.8l-17.7-4.2l-7.2-25.6l-20.7-2.6l-11.9 23.4l-23.5 0.4M233 524.8l11.7-9l-14.3-5.2l-12.3-6.9l13.2-8.7l-6.2-15.1l-9.7-9.7l-11.3 2.6l-6.5-9.6l10.5-2.5l11.5-2.5l8.3-6.3l-7.2-3.8l-9.1-0.2l8 10.3l5.4 9.7l-9.6 2.3l-4 12.2l6.9 8.9l-0.2 12.4l-10.8 5.7l-1.6-13.4M233 524.8l10.2 1.5l-1 11.7M284.8 92.4l17.4-4.7l0.5 19.3l22.9 0.5l-6.7-17.1l19.9 1.4l4.4 16.6l14.1 14.6l-15.3 12.7l-5.5 16.7l-1.4 19.1l-14.7 6.1l-7.8-12.3l7.1-13.9l-15.3 2.3l-7.5 16.5l2.8 15l6.6 11.9l-7 11.2l8.8-2l7.7-1.6l3.2-11.8l12.7-4.9l13.7-4.6l-3.9 15.6l14.2-2.5l2.5-15.6l10.8 7.6l10.5 9.5l8.6 8.7l13.8 3.6l13.6 10.5l12.1 9.7l5.5-18.1l7.9 13.2M284.8 92.4l-9.4 24.5l7.9 20.9l-9.5 10.3l-2.2 13.3l-13.6 5.5l-13.4-9l-9.9 7.3l10.5 7.9l12.8-6.2l0.7-18.1l15.1-0.7l13.3 6.9M422 420.8l-0.3-11l-10.2-0.3l-1.8-14.5l-11-5.3l-10.2-4l-4.8-10.3l-9.9 3.1l-8.7 1.8l7.6 8.9l-10.6-0.7l3-8.2l1.5-8.1l7.2 6.3l-1.1 10.7l-5.9 12l-4.7-12.7l-4.7 6.3l9.4 6.4l10.6 9l8.6 10.6l-0.4 11.8l13.4-0.1l14.8-0.7l14.1 6.5l-3.9 14.2l-11.1 6.1l14.2 7.3l-3.1-13.4l-11.3-8.4l1.1-12.3M429.8 296.4l12.3 2.7l8.9-11l5.6 16.2l-2.3 17.5l-15.8-1.1l6.5-9.7l-2.9-11.9l14.5 5.2l7.7-12.4l-13.3-3.8l-13.1-1l-12.4-5.1l-9.2-9.4l-3.2-14.7l-9-9.7l7.3-9.7l-10.8-12.1l-5 14.7l8.5 7.1l-6.5 7.1l15.5 2.6l-1.7-19.4l-15.8 2.6l-6-11.6l-8.5 8.1M429.8 296.4l4 12l11.2 2.6M353.4 243.3l-11.6-4l-11.3 2.8l-8.7-7.4l9.7-4.5l-10-7l-9.1 4.7l9.4 6.8l-8.7 3.9l-1.2 10.3l-6.6 5.8l7.1 3.4l-0.5-9.2l-8.3-7.3l9.5-3l8.3 6.5l9.1-3l-2.3 8.4l1.3 6.8l6.1 6.9l1.6-12.1l10.1 8.9l11.6 4.1l-6.5 5.1l8 6.6M353.4 243.3l-6.3 6.7l9.2 4.2l-9 6.8l-11.7 3.2l0.3 9.5l-6-3.7l5.7-5.8l8.5 6.9l-8.2 2.6l6.6 6.9l8.4-2.6l-6.8-6.9l3.2-10.1l-0.2-11l-9.9 2.1l4.6-12.8l-10.3-9.1l-0.7-12.7l-2.3-13.7l-9.5-10.9l-8.4-7l-4.3 11.2l9.5 7.6l5.8 8.3l6.9-9.2M194.4 445.1l6.7 7l1.9-11l-6.6-5.7l-6.3-5.7l-1 9.2l5.3 6.2M41.8 535.7l-21.3-12.7l-2 17.6M152.1 543.8l2.9 17.9l13.4-16.8l13.5 6.8l-9.3 14l11.5 16.2l18.4-9.8l-15.4-7.9l-14.5 1.5l-17.6-4l-13.8 12.2l-5.9 21.6l26.1-5.3l20.8 11.8l1.9-20.1l-22.7 8.3l-6.4-28.5l-19.7-10.5l5.9 22.7M72.7 392.1l-9.1 19.3l-9-13.6M192.8 403.1l-2-6.3l-8.7 3.4l3.6 11.2l-2.6 11.4l-2.8 12.6l-7.6-9.5l10.4-3.1l-7.1-6.1l-2-8.7l11.7 3.4l-9.7 5.3l-10.8-0.3l7.5 9.5l-10.5 3.8l-10.8-7.8l-6.8-14.6l-7.4 15l-11.8 1.7l-10.3 8.1l14.8 4.6l0.6 19.3M192.8 403.1l4.8 6.7l5.3 4.3M280.1 208.2l8-2.7l11.2 2.8M478.5 288.7l5.7-14.7l-7-17.3l2.1-18.6l-9.6-15.6l25.2 2l28 2.1l-16.1-29l-24.2 5.8l12.3 21.1l-15.6 13.6M478.5 288.7l7.3 11.4l9.2 7l2.4 18.7l5.3 20.8l23.9 0.7l-0.1 25.5l-21.9 9.6l3.6 22.7l1.6 21.6l0.2 24l19.9 5.8M495 307.1l13.4 0.6l14.8 13.4M452 460.8l-13-6.6l-15-1.7M472.5 302.5l13.3-2.4l14.6-11.5l23.9-13.1l0.7 22.1l-16.6 10.1l-8-19.1l-16.2-14.6l17.5-12.4l22.6 13.9l0.8-22.7l-17.3-11.2M472.5 302.5l-4.7 12.4l4.6 14.8l10.5 15.6l-16.3 0.3l-13.3 9.5l-12.6-10.1l-15.7 5.4l4.5-17.6l-5.3-15.5l14.3 3.4l-9 12.1l-11.8-5.7l-2 11.2l-9.7-9.1l-3.7-9l0.2-8.4l-0.4-12.8l-12.2 9.9l-12.5 4.4l1.9-9.5M345.5 454.4l0.9 11.5l-7.1 7.2M345.5 454.4l9.9 5.4l8.8 7.9l11.9-4.2l11.2 7.8l-13.6 7.6l2.4-15.4l1-13.2l-11.1 4.9l10.1 8.3l12-6.3l-0.8 14.1l12.8-6.3l13.2 8.7l-1.8 15.7l-16.5 4.8l-6.3 17.4l-15.4 15.3l-15.8-9l0.5 12.9l15.3-3.9l20.6 5.7l-14 10.6l-4.6 17.8M484.6 146.3l6.4 19l11.8 9.2M27.8 246l18.9 10.4l18.8-16.4l-5-16.6l3.1-18.3l18.6 15.9l19.2 12.8l0.5-15l-5.1-15.1l-3.3-22.2l23.7-6.3l-7.6 17.8l-12.8 10.7l-14.6 17.3l-16.7 19l-20.3-4.9l-1.8-20.2l17.1 8.5l21.7-2.4l3.4 23l17.4 7.2l16.4 8.3l-17.4 10.5l-17.2 0.7l-13.2 9.1l2.8 18.4l13.5 5l1.9-16.5l-15.4 11.5l-10.5 12.6l-1.9 20.7l-12.9 8.2l4.6 16.1l-18.1-13.8l9.9-12.5l-12.9-8.6l-17.9-12.8M180.8 285.2l-8.7-3.2l-6.4-9.1l11.4-5.2l7.8-6l1.1 9.3l9.7-4.4l-1.4-10.5l-10.1-5.1l1.4-11.2l-10.5-7.5l14.5-4.9l-4 12.4l-12.5 5l-9.2-7l-5.5 11.8l-10.9 10.8l-12.9-0.9l8.1-11.6l-12.7 0.5l-10.6 11.1l9.1 10.1l10.9 1.5l12.2 0.6l14.1 1.2l-6.8-10.5l-11.4-2l4.1 11.3l3.5 8.8M180.8 285.2l10.5 4l-0.9 7.6M68.6 582.4l2.7 19.1l15.3-11.5l13.8-14.2l2.6-17.2l-20.4 4.6l-13-24.8l-17.1 24.9l-3.1 31.5l-29.4 5.9M184.6 449.2l4.5-10.3l-8.8-3.5l-7.3 11.3l-10.5-4l7.6-6.8l10.2-0.5M372.7 389.2l9.3 1.8l6.5-5.3l7.9-8.6l11.8 4.9l-9.5 7.7l-9.3 6.2l10 6.2l10.3-7.1l9.8-8.8l1.5 13.8l10.4-9.3l11.6-12.4l13.5-7.9l13.1-11l1.1 17.3l-15 10.8l-12.9 7.1M372.7 389.2l7.5-5l3.5-8.8l-9.6-6.2l8-5.1l10.1-4.9l-10.8-6.5l5.1-9.1l7.3-8.2l-6.2-6.3l7.7-3.9l-9.4-4.4l-8.5-7.5l-11.8 3.7l-5.9-9.9l9.7-1.5l8 7.7l-2.7 10.3l-7.7 3.3M372.7 389.2l6.7 10l-2 11l-8.8 2.6l-1.8-11.6l-8 9.9l-9.2-6.1l7.6-2.5l9.6-1.3l12.6-2l2.6-8.2l7.4 4.9l-0.9-10.2l-8.3-1.5l1.8 6.8M164.1 164.8l3.1 14.8l-16-3.2M164.1 164.8l-5.7-17.1l-8.8 12.4l-14.4 5.2l-15.6-13.3l-2.4 23.2M397.9 367.1l-7.5 1.5l-6.7 6.8M413.5 308l3.7-12.1l8.3-13.9M413.5 308l-2.2 10.8l-8.8-7l-7.3 5.4l-5.3-8.3M201.4 120.5l-1.9 15.2l13.9 12.5l-18 3.5l4.1-16l15.2-6.6l-13.3-8.6l13.1-10.1l17.6-11.4l1.1 23.2l17.5-13.5l24.7 8.2l27.3-9.9l16.2-16.6l-16.7-2.7M284.3 56.6l-18.1-1.4l-11.2-17l-14.7-19.9l-10.9 29.4l-26.7 2.8l-19 4.9l-17.9-4.4l-6.3-25.3l-23.4-1.1l-15.9 24.4l-24.5-0.3l-24.1-0.4l-13.7-23.8l-19.8 3.1l-16.9 16.1l-0.2-22.9l17.1 6.8M402.8 185.9l15.5-9.3l-2.9 15.3l2 12.9l-1.9 16l-14.9 5.6l-11 3.1l-0.1-11.4l-8.3 6.5l-4.7-12.4l13 5.9l-1.4-11.4l5.9-9.7l12.7 1.1l-3.9-12.2M205.9 166.8l-15.3-1.7l-11.5 7.2l-11.9 7.3M110.1 22.9l-12.6-11.1l-14.2 10.7M314.5 557.1l-5.2-16.3l10.4 1.9l-5.2 14.4l15.6 8.8l18.9-5.4M370.6 349.5l0.7 9.6l10.8 5l8.3 4.5l6 8.5M370.6 349.5l-1.7-7l3-8.3l10.8 1.5l4.9-6.6M428 26.6l0.5 27.2M386.5 483.8l-7.3 10.9l9.5 16.9M427.8 536l-19.9 9.9l15 12.7l18-7.6l10.2-16.4l9.9-14.9l14-4.8M84.4 112.8l-3.2 27.9l18.1 17l4-23.1l-22.1 6.1l0.1 21.9l18-4.9l20.3-5.7l-16.3-17.4l22.2-3.5l-13.6-18.5l14.6-21.4l23.9 10l21.5-11.6l20.9 13.4l20.7-14.3l1 21.7l-21.7-7.4M289.1 486.7l9.3-4.4l-9.3-5.2l-7.8 5.5l-1.7 11.3l-16.7 3.4l10.4 7.6l10.9 0.2M464.1 504.3l20.1-3.1l22.1-0.5l21.4 0M464.1 504.3l-3.1 15.4l-18.4-5.1M408.8 422.2l-10.1-6.7l0.7-13.4l-11 5l-2.4 13.7l13 11.7l-0.3-17l12.8-6M168.4 544.9l4.2-17.4l-13.7 2.2l-16.6 0.7l-7.1-18.2l-16.9-8.8l14.6-11.5l-15.3-5.3M184.7 29.6l-1 25.8M84.8 270.7l5 16l18 0.8l14.3 3.2l-8 10.7l-13.6-0.9l7.3-13l10.7-11l0.9-17M275 578.5l-6.9-20.5l-17.7-2.4l-18.5-1.2l-18.5-0.9l-17.4-2.1l-9.4-16.8l19 1.3l7.8 17.6l9 17.9l10.2 19.7l16.7 9.6l10.8-13.3l14.9-8.9l10.7 20.1l-19.1 2.3l-6.5-13.5l-2.5-15l-7.2-16.8l10.3-14.5l-6.9-14.3l8.2-13.7l16.2 2.3l-4.9-10.5l-11.3 8.2l-17.3 2.7l-3.9-11.8l6.7-10.5l2.7-10.9l-10.8-0.3l-14.3-2.4M178.9 190.1l-6.5 13.7l4 13.6l-14 8.7l1.5 11.7M508.2 405.1l19.3 10.7l-17.7 10.9l-17.1-10l15.5-11.6M202.5 572.1l-1.2 25.8l14.1-10.9M81.4 409.2l-17.8 2.2l-21.9 3.7M81.4 409.2l-6.4 16.9l21.6-1.1M401.9 210.3l4.8-12.2l8.7-6.2M345.3 539.2l-14.3 11.2l-1.8-15.3l-9.5 7.6l11.3 7.7l-0.9 15.5l8.4 15.3l-19.6-1.8l11.2-13.5M345.3 539.2l2.9-13.5l9.3-7.8l-16.6-3.9l7.3 11.7l9.8 5.1M345.3 539.2l-7.3-12.2l-11.7-6.1l-10.5 9.2l-14.1-1.4l8.4-15.1l-13-15.9l1.3-15.4l11.3 4.5l3.3 12l-2.9 14.8l15-7.7l-0.9-16.2l-5.8-13.4l-3.6-11.3l-7.3 9.2l2.2 12.6l14.5 2.9l-11.2 9.1M477.2 256.7l-19 3.6l6.5 15.5l-0.4 16.1M60.6 95.4l-23.8 3.6l-20.4 2.9M60.6 95.4l18.7-5.9M156.5 357.2l8.5-2.9l9.8-3.2l0.7-9.2l-8.9 2.9l2-10.2l-9.7-5.5l8.1-3.7l4.3-7.2l-6.2-6.9l2.1-7.9l-11.6 3.2l-9.4 7.6l4.4 9.8l-2.4 10.4M233.6 192.7l-13.4-2.3l-14.9 4.7M52.5 563.3l-24.5-9.1M33.6 469.6l-13.8 10.3l1.3 21.6l-0.6 21.5l18.2-9.7M226.4 138.3l-11.7-9.2l-1.3 19.1M174.8 351.1l3.7 6.5l-6.2 2.6l1.3 9.8l-10.8-5.2l-6.6 9.3l-13.6 0.5l-15 4.4l11.7 9.7l12.8-4l-2.7 10.6l-7.3 2.2l-2.8-8.8l3.3-14.1l-9.6-6.6l8-4.4l-8-7.1l-12.4-1.3l6.7-11.3l-14.3 3.5l7.6 7.8l-13.2 6.9l-6.3-12.7l-10.5-6.4l-10.6-8.6M329.5 257.3l-4.4 6.9l-4-9l0.3-10.1l0.4-10.4l-0.3-11.5l-10.1-8.1l-3.3-8.8l-1.8-9.2l-13.4-0.5l-8.4-12.3l15.2 0.9l8.3-8.4l2.6 9.1M429 193.2l-10.7-16.6l-4.3-19.5l14.1-15.2l1.2 20.3l-11 14.4l-22-8.2l-24.1 2.4l-5.9-16l16.6-1.4l16.4-2.1l-3 17.1M429 193.2l4.1 19.2l-15.7-7.6l-10.7-6.7M134 233.6l-4 14.8l-12.2-6.5l-14.8 9.3l-1 18.8l-12.2 16.7l-18.2-6.9l-16.4 13.3l-16.5-15.1l-16.8-15.2l24.8-6.4l-8 21.6l-4 21.6l-2.1 21.3l3 21.1l13.5-2.3l-3.6-10.2M456.8 173.3l12.7 14.9l13.1 15.2l5.4-20.4l18.8 14.6l-11.9 26.9M456.8 173.3l-18.5 3.3l-9-14.4M482.5 55.5l13.5-18.3l-1.3-18.1M522.9 226.6l2.2 26.2l-23.4 8.8M472.4 329.7l9.6-16l15.4 12.1l-25 3.9l-17.2 8.6l11.4 7.3M108.3 324.4l-4.3 13.9l-2.9 11.1M83.4 439.2l-8.4-13.1l-18 3.6l6.6-18.3l11.4 14.7l-5.6 17.2l13.5 13.3l10.7-11.6M498.9 466.3l-7-13.3l18.1-2.3M484.5 383.3l20.1-0.9M227.9 451.9l6.8-5.7l0.2-8.9l4.3 5.2l4.9-4.3l-9.2-0.9M227.9 451.9l2.9 9.1l-5.8 6.9M358.2 180.9l-12.8 2.5l6.7-18M255 38.2l9.7-20.1l15.8 15.8l19.1-12.8M255 38.2l-7.2 19l-18.4-9.5M231.2 231.2l9.6 1.1l-9 9.6l-9.1-8.3l3.6-12l-13.1 2.1l-10.3 7.3l1 10.7l-0.7 9.8l6.8 5.9l9.3-2l8.1-4.1l0.4 8.6l-8.5-4.5l1.7-10.8l10.8-2.7M296.1 448.8l-4.5-6.5l-7.8 1.4l4.7 7.6l-9.1 0.8l-3.1-8.4l-6.5-1.2M103 558.6l12.1-9.8l4.9 22.6l-10.4 27.3l25.7-3.2l-15.3-24.1l15.3-20.2l7-20.8l9-15.1l7.6-15.7l7.6 15.4l-7.6 14.7l-7.6-14.4l-6.1-13l-12.3-10.4l8.5-17.9M158.9 329.1l-8.3-5.1l-11.5 1.2l-5.9-10.9l-13.4 0.6M158.9 329.1l0.4-10.8l-13.1-4.1l-13 0.1l5.8-9.3l-12-1.5l7.8-9.8l-12.7-3l8.9-9.6l-2.5-11.5l6.1-10.1l-4.6-11.1M158.9 499.6l-11.8-9.4l-1.9 12.1M391.7 550.2l16.2-4.3l2.7-15.6M82.6 563.2l17.8 12.6l9.2 22.9M96.8 203.7l16.8 5.1l17.1 6.1l16.7 6.2l15 5l12.7 6.2l-2 12.5l11.1 6.2l-12.5 7.4l-13.3-8.8l14.7-4.8l-1.4 13.6l5.4 9.3l1 8.5l-6 5.8l1.5 8.1l-6 4.8l-4.3-8.6l-4.6 9.9l-5.5-7.4l-6.1 8.4l-8.1 7.8l7.7 0.8l-0.5 8.4M96.8 203.7l-15.8-5.4l12.5-16.8l-12.2-18.9M451.6 215l1.1 14.4l17-6.9M451.6 215l-18.5-2.6l16-17.3l20.4-6.9l18.5-5.2l3-17.7M87.9 303.2l12.6-2.7l-10.7-13.8M464.7 275.8l19.5-1.8M454.3 321.8l0.9 16.5l-14.5 6.7l2.9-13.2l10.7-10l13.5-6.9l14.2-1.2l3.8-13.6M374.5 110.9l17.6 3.8l-14.3 10.1l-3.3-13.9l10-16.4l7.6 20.2l19.4 9.9l16.6 17.3l5.6-26.5l-22.2 9.2l-1.9 17.5l18.5-0.2M196 551.4l-8.9 12.8l-3 17.7l17.2 16l17.8 5.3M196 551.4l-14.1 0.3l4.7-17.1l-3.3-20.4l13.5-7.5l-8.9-13.6l12.4-8.9M93.5 181.5l16.1 11.5l18.3 2.5l-14.3 13.3l3 16.7l-14.7-6.7l-19.7 2.2l-1.2-22.7M305.7 232.6l-8.3-0.1l3.5-10.1M258.7 148.8l-4.4-19.7l14.5 7.2l6.6-19.4l-21.1 12.2l-21.1-6.9l-18.7-11.8l0.2 18.7l18.5-6.9M310.8 138.9l8.9 12.5l16.8 1l-9.5-15.4l-7.3 14.4l5.3 11.9l10.1 8.2l10.3 11.9l10.3 13.1l-6.4 14.5l-6.6 12.8l13.3 0l-5.1 9.4l-9.1 6.1l0.9-15.5l-11.9-6.3l-9.3 5.7l0.1-10.2l-10.2 2.1M310.8 138.9l5.7-15.6l9.1-15.8l17.6 0.9M432.6 407.2l-10.9 2.6l-0.7-9.8l-11.3-5l-1.5-13l11.3 4.2l-2.1-12.9l-10.8-3.2l1.6 11.9l9.2-8.7l-2.5-12l10.1-10.9M489.6 398.5l3.1 18.2l-13.8-6.1l10.7-12.1M49.4 594.8l21.9 6.7M448.3 490.3l-5.5-18.9l17.3 0.6l4.1-16.7l-11.6-6l-13.6 4.9l-11.1-15.9l-15.2 5.8l0.2 14.5l-12.8 6.4l-0.2-15l-12.2-6.5l-2.1-10.9l-7.1-4.1l7.5-7.7l-11.8-0.3l3.2-10.3l11-3.1l1-11.2l-10 3.3l9 7.9l10.3 8.4l-12.7 5.3M355.2 446.7l3.8-11.1l9.8-5l9.7-2.1l-4.3-8l-5.6-7.7l-9.8-1.7l-1.6-8.6l-4.6-4.1l-3 6.6M355.2 446.7l12-3.7l9.9 7.3l10.6-6.8l11.3-11l13.7 11.6l-12.8 5.9l-11.8 7.2l-11-6.9l0.4-12.1l8.1-5.6M355.2 446.7l0.2 13.1l-0.8 10l-7 7.2l-1.2-11.1l8.2 3.9M252.5 442.1l0.6 9.2l9-6.3M252.5 442.1l-8.9 5.3l9.5 3.9l-1.2 9.4l-10.5 1.8l-10.6-1.5l-11.2-2.8l-4.2 12l-7.3-9.5l-7-8.6l-8.2 2.5l-5.7 8.6l-11.3-2.7l-2.9-13.8l-2.9-10.8l2.6-10l3.3-9.2M329.2 535.1l8.8-8.1l2.9-13M329.2 535.1l-13.4-5l-6.5 10.7M182.2 602l19.1-4.1M385.9 320.8l9.3-3.6l7.1 3l-7 5l-1.5 10.2l12.2-6.2l-10.7-4l-0.1-8M257.4 182.1l0.6-15.2l12.6 9.6l-0.9 14.3l14.8-6.5l12.4-14.1l-14.8-0.2l-11.5 6.5l13.9 7.8l-2.4-14.3M257.4 182.1l-1.4 14.3l-13.2 4.4l-2.4 10.3l-11.2-4.9l-12.9-3.4l-7.8 7.1l-11.6-3.4l-12.3-1.7l-8.2 12.6M133 356.5l-10.5 9.5l5.1 13M131 281.1l-12.5-4.6l-16.5-6.5M131 281.1l13.2 2.4l-9.4 10.2l12.3 3.5l8.5 9.4l9.5 4.7l6.9-0.8l-0.7 7.7l8.5 3l-3.7 6.5l-4.8-9.5l8.7-4.8l-4-7.4l-8.8-2.6l-8.5-7.2l-3.1 10.4l3.7 11.7l5.8-7M280.5 33.9l-14.3 21.3l-18.4 2M194.4 419.4l3.2-9.6l-11.9 1.6M120 571.4l-19.6 4.4M195.7 266.6l5.9 8.7l-4.5 7.3l-5.8 6.6l-8.6 4.7l-9.1-3.8l1.8 8.6l-8.2 4.7l0.4-8.5l-8.9 1.3l-11.6 1l-2.9-13.7l9 5.3M342.7 441.9l1-11.3l6.7 6.1l8.6-1.1l-6.7-6.9l2.9-8.1l4.9 6.7l8.7 3.3l5.4-10.1l-9.6 0l-9.4 0.1l-9.1 1.3l6.2 6.8l-1.9 8M195.4 151.7l-17.6 2.1l-19.4-6.1l-19.2-0.5l10.4 12.9M195.4 151.7l-4.8 13.4l3.9 15.7l-2.3 14.5l4.7 11.2l3.4 12.4l8.2-9l4.7 13.8l9.5 9.9l-1.7 11l6.4 6.7M321.1 255.2l7.1-4.7l9 1.6M261.9 226.2l-3.9 6l-7 4.7l1.6 9.4l-4.9 6.5l6.8 0.2l-1.9-6.7l7.5 4l0.6-9.6l7.3 7.7l-7.9 1.9l-5.6 2.7M133 368l-10.5-2l-7.5 8.9M151.4 421.9l-9.1 10.6l-5.1-10.2l-7.3 14.4l-4.5-12.7M178.1 276.2l9.6 3.7l5.8-4.8l8.1 0.2l5.5-8.6l2.9-9.3l4.7 5.3l4.6-7.3M178.1 276.2l7.9-5.2l7.5 4.1M41 373.2l15.3 6.7l-17.5 11.6l2.2-18.3l-19.6 3.6l17.4 14.7l-21.3 13.7M381.3 580.5l-8.7 21.3M120.6 355.2l1.9 10.8l-15.1-3.9l-14 7.5M381.2 224.6l8.4 4.9M363.9 246.9l-3.1-11.2l-9.9-2.5M363.9 246.9l6.4-7.5l4.3 10.1l3.2 12.3l10.9 3l8.9-9.5l-2-14.2M150.6 344.1l6.8 4.8l9.2-4.1l-1.6 9.5l-2.2 10.5M398.9 479.7l-3.9 14.5l-15.8 0.5l-5.5-15.8M398.9 479.7l1.2-14.7l-12-7.8l-0.4-13.7l-10.2-5.3l-8.7-7.6l-1.6 12.4l-1.2 12.2l-10.6 4.6l-9 6.1l-10.7-3.6l1.1-11.8M240.8 504l10.6 0.8l10.6 8.3M283.4 559.6l-15.3-1.6l-10.5 14.4l-9.3 12.2l-15.7 6.5M196.8 506.7l10.5 2.7l9.2 10.8M399.8 567.1l8.1-21.2l-14-13.3M194.5 180.8l14.2 0.8l8.9-5.3l13.6 2.2l-11 11.9l-3.9 12.4M463.2 555.5l-22.3-4.5M132.6 112.7l-6.1-21.5M446.8 254.3l-6.1-13.8l-8.6 15.4l14.7-1.6l11.4 6M377.8 124.8l-6 14.7l-5.5 15.3M380.4 273.9l2.9 11.5l3.9 11.2l8.5-9.8l13.7-2.9l-7.3 15.1l-6.4-12.2l-12.4-1.4l-11.6-3.6l8.7-7.9M253.8 526.8l-9.1-11l6.7-11l11.5-7.5l-15.4-3.8l-16.2 1.5l-13-3.7M253.8 526.8l-10.6-0.5l1.5-10.5M135.2 512.2l-2.3-20.3l-8.5-18.4l-15.8 0.4l-17 0.6l-15.1-1.8l-13.2 4.2M135.2 512.2l16.1 3.1l15.2-0.3l7.1-12.8l9.7 12l16 5.8l8-10.6M482.9 345.3l14.5-19.5l11-18.1M482.9 345.3l-13.3 14.1l-16.3-4.3l3.2 15.3l-0.8 17.1l-12.7-9.2M342.7 223.8l-4.1-12.7l-7.8 6.4l-9.2-4.5M411.4 238.5l4.1-17.7l17.6-8.4M55.2 293.1l8.7 17.7M251 236.9l1.6-11.7l-11.8 7.1l10.2 4.6M302.7 107l13.8 16.3l10.5 13.7l15-1.3M268.3 205.5l-12.3-9.1l13.7-5.6l10.8 7.8l12.4-2l-4.8 8.9l0.2 10M173.6 502.2l14.3-9.1l-7.8-17.6l12.7 0.1l-4.9 17.5l-4.6 21.1l-16.8 0.8l6.1 12.5l14 7.1M372.2 170.8l-3.2 17.7l-13.3 8M402.3 320.2l9-1.4l12.9-1.5l-6.5 9.8l-11.7 2.1l-2.5 12.1l-9.7-5.9l0.9 8.9l-8.2-0.7l-9.6-0.6l4.5 9.7l9.3-2.4l1.5 8.9l7.1-8.3l-4.6-6.6l8.8-3l-4.2 9.6l-8.6-0.6l-4.2-6.7l-3.8-7.9l-2.2-7M423.6 305.4l10.2 3l-9.6 8.9M235.1 224.8l5.7 7.5M327.1 426.2l-7.7 6.5l8.2 2M21.4 376.8l-3.5-22.6l17.7-12.2M248.3 584.6l11.8 2.8M449.1 195.1l-10.8-18.5l-20 0M517 89.9l0.1 23M452.7 47.4l24.1-17.5l19.2 7.3M427.9 438.3l17.5-0.3l7.2 11.3M127.9 195.5l16.4-5.1M427.1 465.9l11.9-11.7l6.4-16.2l16.8-1.4l3.1-19.7l13.6-6.3M427.1 465.9l15.7 5.5l-3.8-17.2M349.2 286.6l5.5 5.6l1.1-8.1l-6.6 2.5M413.1 257.9l19-2l-6.3 11.8l-12.7-9.8l-5.2 14.1l1.5 11.9l6.9-11.3l9.5-4.9M336.5 152.4l-11.5 10.9l-12.4 2l-4.6 11.5l-11.1-6.6M171.3 318.2l-12 0.1l7.7 7.1l1.6 9.2l-10.1 4.5l-1.1 9.8l7.6 5.4l7.3 5.9l6.7 3.9l-5.4 5.9l7.4 6.2l0-6.1l-7.4-0.1M127 303.5l-4.9-12.8l-3.6-14.2l10-6.9M127 303.5l6.2 10.8l-4.9 8.2M272.1 461.7l6.9 10.6l10-4.3l6-8.9M139.2 147.2l-13.7-16.1l-5.9 20.9l19.6-4.8M250.2 482.6l7.4 4.4l5.3 10.3M163.3 286.3l8.8-4.3M381.4 352.7l-10.1 6.4l-4.4 6.3l-0.3 6.8l7.5-3l-0.3 9.3l6.4 5.7M277.7 543.1l-9.6 14.9l-7.4-16.9l17 2M260.7 240.7l-2.7-8.5l-5.4-7M231.3 495l8.1-12.7l8.1 11.2l3.9 11.3M392.2 359.2l-1.8 9.4M268.8 136.3l5 11.8M368.6 412.8l-4 7.7l-5.8-9.4M135.3 551.2l-20.2-2.4M167.2 303.4l4.8 7.1l4-4.5l9-2.1l-2.3-10l-7.3 4.8l0.6 7.3M318.4 448.1l1.2 8.8l-4.8 8.1l-2.6-10.3l-1.7-9.9l-6.9 6.7l8.6 3.2l7.4 2.2M318.4 448.1l-1.9-7.8l2.9-7.6l4.3 8.7l-7.2-1.1l-6 4.5l0.4-9l8.5-3.1M429.5 332.8l14.1-1l-5.1-11.1l-4.7-12.3l8.3-9.3l-4.2-12M87.3 396.4l6.8 9.4M82.9 456.6l-6.4 16.1M60.5 223.4l-15.3 11.7l1.5 21.3M440.7 240.5l12-11.1M409.4 283.9l7.8 12l-15.1 3.1M456.6 304.3l11.2 10.6M155.6 306.6l-8.9-0.8l0.4-8.6M158.4 249.6l0.5 12.8l12.8-4M226.3 221.6l8.4-4.7l-5.5-10.7l-9-15.8l-2.6-14.1M294.4 240l-7.4 3.4l9.8 6.4l6.8-8.2l-9.2-1.6l3-7.5l-6.1-7.1M472.6 531.2l19.5-12.2l-7.9-17.8l9.5-18l-13.8-17.1l-15.7-10.8l-2-18.7M472.6 531.2l-11.6-11.5M183.3 514.2l-10.7 13.3M192.9 454.6l4.7 8.6l-4.8 12.4l-5.6-12.4l10.4 0l3.5-11.1l10.5-4.2M240.3 18.3l24.4-0.2M182.1 400.2l3.8-8.7l4.9 5.3M379.9 543.2l-6.6-16.3M171.2 399.3l-7.1 5.4l1.1 11.7l-8.9-6.3l-11.7-2.8l4.8-12l-10.1-6.6M320.4 177.6l-1.4 15.3l-12.7 4.2M320.4 177.6l4.6-14.3M320.4 177.6l-12.4-0.8M368.8 430.6l-4.2-10.1l-4.5 6.8l-1.1 8.3l8.2 7.4l10.3-4.8l1-9.7M317.7 262.2l7.4 2l4.8 5.8M90.6 356.9l0-13.9l13.4-4.7l9 9.1l-5.6 14.7l-16.8-5.2M350.9 278l1.5-7.8l-5.1-9.2M350.9 278l4.9 6.1M393.8 335.4l-11.1 0.3l-5.8 7.3l-8-0.5M348.2 525.7l-10.2 1.3M366.9 365.4l7.2 3.8l-2.8-10.1M142.6 374.6l-1.6-11M399.3 151.3l10.3-9.2M356 223.8l4.8 11.9l9.5 3.7M356 223.8l-6.7-12.8l-10.7 0.1M165.2 416.4l-3 13.3l7.9 6.2M279.6 493.9l-6.3 11M406 329.2l5.3-10.4l6.4 8.3M137.1 335.9l-8.6-4.2l-1.2 12.2M168.6 334.6l6.9 7.3l1.9-6.6l-8.8-0.7l7.5-6.9l-9.1-2.3M394.7 344.3l-4 6M301.4 440l9.5-4.2l5.6 4.5M301.4 440l-9.8 2.3l-3.1 9l-4.5 9.5l5 7.2M101.9 218.8l11.7-10l-4-15.8M416.3 272.6l-8.4-0.6M179.8 321.2l0.2-7.8l5-9.5l-9.6-5.2l-7.8-3.8M335.6 264.2l-10.5 0M352.3 428.7l7.8-1.4M352.3 428.7l-8.6 1.9l2.4-8.7l-5.3-6.3M357.2 402.5l0.2-7.7l-4.8 3.6M279.7 238.8l7.3 4.6l-0.1-10l-5.3-9.3l-10.9 0.3l-4.6 7.9l-8.1-0.1M231.2 178.5l3.5-13.3M187.1 564.2l-5.2-12.5M319.7 542.7l-3.9-12.6l-5.7-16.5M189.6 227.4l10.7-8.5l12.9 4.8M506.8 197.6l16.8-25.1M132.9 491.9l14.2-1.7M376.5 212.2l11.6-5.5M139.1 325.2l-10.6 6.5l-8-5.7M284.5 184.3l-4 14.3l7.6 6.9M161.6 393.9l2.5 10.8l-7.8 5.4M297.6 470.6l9.9 3.6l-9.1 8.1l-0.8-11.7M177.8 153.8l12.8 11.3M279 472.3l2.3 10.3M219.6 458.2l1.1-10.1M184.6 204.8l7.6-9.5M184.6 204.8l-12.2-1M247.5 493.5l10.1-6.5M341.8 239.3l5.3 10.7M479.9 466.1l12-13.1M176.1 327.7l1.3 7.6M335.7 462.3l-5.9 13.1l-5.6 14.3M234.7 216.9l5.7-5.8M286.9 233.4l10.5-0.9l6.2 9.1M177.1 267.7l8.9 3.3l1.7 8.9l3.6 9.3M453.3 355.1l1.9-16.8l-11.6-6.5M239.2 442.5l4.4 4.9l0.5-9.2M239.2 442.5l-4.5 3.7l8.9 1.2M142.3 432.5l-12.4 4.2M150.6 324l8.7-5.7M311.9 248.9l9.5-3.8l6.8 5.4M172 310.5l8 2.9M158.9 262.4l-7.3 9.3l-7.4 11.8M220.2 190.4l-11.5-8.8M197.7 427.2l-1.3 8.2l-7.3 3.5M342.5 280.6l1.6-9.5l8.3-0.9M181 370.1l-2-6l-0.5-6.5M207.1 266.7l7.6-4" fill="none" stroke="#000084" stroke-width="1" stroke-linejoin="round"/><circle cx="272.8" cy="346.5" r="90.1" fill="#fff" stroke="#000080" stroke-width="1.1"/><rect x="0" y="0" width="546.5" height="620" fill="none" stroke="#00007c" stroke-width="1.4"/></g>
</defs>
<rect width="1594" height="856" fill="#fff"/>
<rect x="439" y="0" width="2" height="856" fill="#edeae5"/><rect x="1017" y="0" width="2" height="856" fill="#edeae5"/>
<line x1="70" x2="419" y1="786.5" y2="786.5" stroke="#f0f0f0"/>
<line x1="70" x2="419" y1="754.5" y2="754.5" stroke="#f0f0f0"/>
<line x1="70" x2="419" y1="722.5" y2="722.5" stroke="#f0f0f0"/>
<line x1="70" x2="419" y1="690.5" y2="690.5" stroke="#f0f0f0"/>
<line x1="70" x2="419" y1="658.5" y2="658.5" stroke="#f0f0f0"/>
<line x1="70" x2="419" y1="626.5" y2="626.5" stroke="#f0f0f0"/>
<line x1="70" x2="419" y1="594.5" y2="594.5" stroke="#f0f0f0"/>
<line x1="70" x2="419" y1="562.5" y2="562.5" stroke="#f0f0f0"/>
<line x1="70" x2="419" y1="530.5" y2="530.5" stroke="#f0f0f0"/>
<line x1="70" x2="419" y1="498.5" y2="498.5" stroke="#f0f0f0"/>
<line x1="70" x2="419" y1="466.5" y2="466.5" stroke="#f0f0f0"/>
<line x1="70" x2="419" y1="434.5" y2="434.5" stroke="#f0f0f0"/>
<line x1="70" x2="419" y1="402.5" y2="402.5" stroke="#f0f0f0"/>
<line x1="70" x2="419" y1="370.5" y2="370.5" stroke="#f0f0f0"/>
<line x1="70" x2="419" y1="338.5" y2="338.5" stroke="#f0f0f0"/>
<line x1="70" x2="419" y1="306.5" y2="306.5" stroke="#f0f0f0"/>
<line x1="70" x2="419" y1="274.5" y2="274.5" stroke="#f0f0f0"/>
<line x1="70" x2="419" y1="242.5" y2="242.5" stroke="#f0f0f0"/>
<line x1="70" x2="419" y1="210.5" y2="210.5" stroke="#f0f0f0"/>
<line x1="70" x2="419" y1="178.5" y2="178.5" stroke="#f0f0f0"/>
<line x1="70" x2="419" y1="146.5" y2="146.5" stroke="#f0f0f0"/>
<line x1="70" x2="419" y1="114.5" y2="114.5" stroke="#f0f0f0"/>
<line x1="70" x2="419" y1="83.5" y2="83.5" stroke="#f0f0f0"/>
<line x1="70" x2="419" y1="51.5" y2="51.5" stroke="#f0f0f0"/>
<line y1="19" y2="817" x1="146.5" x2="146.5" stroke="#f0f0f0"/>
<line y1="19" y2="817" x1="224.5" x2="224.5" stroke="#f0f0f0"/>
<line y1="19" y2="817" x1="302.5" x2="302.5" stroke="#f0f0f0"/>
<line y1="19" y2="817" x1="380.5" x2="380.5" stroke="#f0f0f0"/>
<line x1="206.7" x2="206.7" y1="19" y2="817" stroke="#82d25a" stroke-width="2"/>
<polyline fill="none" stroke="#a50000" stroke-width="2" stroke-linejoin="round" points="70,306.4 70.1,289.6 72,292.5 75,297.5 80.3,303.7 85,307.8 90.4,311.3 95,313.5 100.4,315.3 110.5,318.1 120,320.2 135,323 150.7,325.8 180,331.5 207,336.5 250,344 300,352 350,360.3 404.3,369.3"/>
<polyline fill="none" stroke="#0055ff" stroke-width="2" stroke-linejoin="round" points="70.3,289 70.3,27 72,90 74,164 75.8,220 78.6,283 79.9,306.3 84.3,363 89,426 94.7,489 101.6,552 105.7,581.5 109.7,600.3 113.8,620.5 119.1,642 124.5,659.5 131.2,676.9 138,691.2 146,703.8 155.4,715.9 166.2,726.1 178.3,734.7 191.7,742.3 206.8,748.7 221.3,753.5 240,758.8 260,763.6 280,767.8 302.6,771.9 340,778 380.6,784.3 404.7,787.9"/>
<path d="M69.3 19V817.4H419" fill="none" stroke="#000" stroke-width="1.4"/>
<line x1="65" x2="69" y1="817.5" y2="817.5" stroke="#000" stroke-width="1.2"/>
<text x="63.2" y="821.1" text-anchor="end" textLength="42.1" lengthAdjust="spacingAndGlyphs">-1.6e+7</text>
<line x1="65" x2="69" y1="786.5" y2="786.5" stroke="#000" stroke-width="1.2"/>
<text x="63.2" y="790.1" text-anchor="end" textLength="42.1" lengthAdjust="spacingAndGlyphs">-1.5e+7</text>
<line x1="65" x2="69" y1="754.5" y2="754.5" stroke="#000" stroke-width="1.2"/>
<text x="63.2" y="758.1" text-anchor="end" textLength="42.1" lengthAdjust="spacingAndGlyphs">-1.4e+7</text>
<line x1="65" x2="69" y1="722.5" y2="722.5" stroke="#000" stroke-width="1.2"/>
<text x="63.2" y="726.1" text-anchor="end" textLength="42.1" lengthAdjust="spacingAndGlyphs">-1.3e+7</text>
<line x1="65" x2="69" y1="690.5" y2="690.5" stroke="#000" stroke-width="1.2"/>
<text x="63.2" y="694.1" text-anchor="end" textLength="42.1" lengthAdjust="spacingAndGlyphs">-1.2e+7</text>
<line x1="65" x2="69" y1="658.5" y2="658.5" stroke="#000" stroke-width="1.2"/>
<text x="63.2" y="662.1" text-anchor="end" textLength="42.1" lengthAdjust="spacingAndGlyphs">-1.1e+7</text>
<line x1="65" x2="69" y1="626.5" y2="626.5" stroke="#000" stroke-width="1.2"/>
<text x="63.2" y="630.1" text-anchor="end" textLength="31.8" lengthAdjust="spacingAndGlyphs">-1e+7</text>
<line x1="65" x2="69" y1="594.5" y2="594.5" stroke="#000" stroke-width="1.2"/>
<text x="63.2" y="598.1" text-anchor="end" textLength="31.8" lengthAdjust="spacingAndGlyphs">-9e+6</text>
<line x1="65" x2="69" y1="562.5" y2="562.5" stroke="#000" stroke-width="1.2"/>
<text x="63.2" y="566.1" text-anchor="end" textLength="31.8" lengthAdjust="spacingAndGlyphs">-8e+6</text>
<line x1="65" x2="69" y1="530.5" y2="530.5" stroke="#000" stroke-width="1.2"/>
<text x="63.2" y="534.1" text-anchor="end" textLength="31.8" lengthAdjust="spacingAndGlyphs">-7e+6</text>
<line x1="65" x2="69" y1="498.5" y2="498.5" stroke="#000" stroke-width="1.2"/>
<text x="63.2" y="502.1" text-anchor="end" textLength="31.8" lengthAdjust="spacingAndGlyphs">-6e+6</text>
<line x1="65" x2="69" y1="466.5" y2="466.5" stroke="#000" stroke-width="1.2"/>
<text x="63.2" y="470.1" text-anchor="end" textLength="31.8" lengthAdjust="spacingAndGlyphs">-5e+6</text>
<line x1="65" x2="69" y1="434.5" y2="434.5" stroke="#000" stroke-width="1.2"/>
<text x="63.2" y="438.1" text-anchor="end" textLength="31.8" lengthAdjust="spacingAndGlyphs">-4e+6</text>
<line x1="65" x2="69" y1="402.5" y2="402.5" stroke="#000" stroke-width="1.2"/>
<text x="63.2" y="406.1" text-anchor="end" textLength="31.8" lengthAdjust="spacingAndGlyphs">-3e+6</text>
<line x1="65" x2="69" y1="370.5" y2="370.5" stroke="#000" stroke-width="1.2"/>
<text x="63.2" y="374.1" text-anchor="end" textLength="31.8" lengthAdjust="spacingAndGlyphs">-2e+6</text>
<line x1="65" x2="69" y1="338.5" y2="338.5" stroke="#000" stroke-width="1.2"/>
<text x="63.2" y="342.1" text-anchor="end" textLength="31.8" lengthAdjust="spacingAndGlyphs">-1e+6</text>
<line x1="65" x2="69" y1="306.5" y2="306.5" stroke="#000" stroke-width="1.2"/>
<text x="63.2" y="310.1" text-anchor="end" textLength="6.8" lengthAdjust="spacingAndGlyphs">0</text>
<line x1="65" x2="69" y1="274.5" y2="274.5" stroke="#000" stroke-width="1.2"/>
<text x="63.2" y="278.1" text-anchor="end" textLength="27.7" lengthAdjust="spacingAndGlyphs">1e+6</text>
<line x1="65" x2="69" y1="242.5" y2="242.5" stroke="#000" stroke-width="1.2"/>
<text x="63.2" y="246.1" text-anchor="end" textLength="27.7" lengthAdjust="spacingAndGlyphs">2e+6</text>
<line x1="65" x2="69" y1="210.5" y2="210.5" stroke="#000" stroke-width="1.2"/>
<text x="63.2" y="214.1" text-anchor="end" textLength="27.7" lengthAdjust="spacingAndGlyphs">3e+6</text>
<line x1="65" x2="69" y1="178.5" y2="178.5" stroke="#000" stroke-width="1.2"/>
<text x="63.2" y="182.1" text-anchor="end" textLength="27.7" lengthAdjust="spacingAndGlyphs">4e+6</text>
<line x1="65" x2="69" y1="146.5" y2="146.5" stroke="#000" stroke-width="1.2"/>
<text x="63.2" y="150.1" text-anchor="end" textLength="27.7" lengthAdjust="spacingAndGlyphs">5e+6</text>
<line x1="65" x2="69" y1="114.5" y2="114.5" stroke="#000" stroke-width="1.2"/>
<text x="63.2" y="118.1" text-anchor="end" textLength="27.7" lengthAdjust="spacingAndGlyphs">6e+6</text>
<line x1="65" x2="69" y1="83.5" y2="83.5" stroke="#000" stroke-width="1.2"/>
<text x="63.2" y="87.1" text-anchor="end" textLength="27.7" lengthAdjust="spacingAndGlyphs">7e+6</text>
<line x1="65" x2="69" y1="51.5" y2="51.5" stroke="#000" stroke-width="1.2"/>
<text x="63.2" y="55.1" text-anchor="end" textLength="27.7" lengthAdjust="spacingAndGlyphs">8e+6</text>
<line x1="65" x2="69" y1="19.5" y2="19.5" stroke="#000" stroke-width="1.2"/>
<text x="63.2" y="23.1" text-anchor="end" textLength="27.7" lengthAdjust="spacingAndGlyphs">9e+6</text>
<line y1="817.4" y2="822.4" x1="69.5" x2="69.5" stroke="#000" stroke-width="1.2"/>
<text x="69.8" y="831.6" text-anchor="middle" textLength="6.8" lengthAdjust="spacingAndGlyphs">0</text>
<line y1="817.4" y2="822.4" x1="146.5" x2="146.5" stroke="#000" stroke-width="1.2"/>
<text x="146.8" y="831.6" text-anchor="middle" textLength="27.7" lengthAdjust="spacingAndGlyphs">2e+7</text>
<line y1="817.4" y2="822.4" x1="224.5" x2="224.5" stroke="#000" stroke-width="1.2"/>
<text x="224.8" y="831.6" text-anchor="middle" textLength="27.7" lengthAdjust="spacingAndGlyphs">4e+7</text>
<line y1="817.4" y2="822.4" x1="302.5" x2="302.5" stroke="#000" stroke-width="1.2"/>
<text x="302.8" y="831.6" text-anchor="middle" textLength="27.7" lengthAdjust="spacingAndGlyphs">6e+7</text>
<line y1="817.4" y2="822.4" x1="380.5" x2="380.5" stroke="#000" stroke-width="1.2"/>
<text x="380.8" y="831.6" text-anchor="middle" textLength="27.7" lengthAdjust="spacingAndGlyphs">8e+7</text>
<text x="244" y="846" text-anchor="middle" font-weight="bold" style="font-size:11px">Time (s)</text>
<text transform="translate(14.6,418.5) rotate(-90)" text-anchor="middle" font-weight="bold" stroke="#000" stroke-width="0.35" style="font-size:11px">Stress (Pa)</text>
<rect x="337.5" y="19.5" width="82" height="39" fill="#fff" stroke="#000"/>
<line x1="342" x2="364" y1="30" y2="30" stroke="#0055ff" stroke-width="2"/>
<line x1="342" x2="364" y1="46.8" y2="46.8" stroke="#a50000" stroke-width="2"/>
<text x="366.5" y="33.7" style="font-size:11.5px" textLength="46.5" lengthAdjust="spacingAndGlyphs">stress xx</text>
<text x="366.5" y="50.5" style="font-size:11.5px" textLength="46.5" lengthAdjust="spacingAndGlyphs">stress yy</text>
<g transform="translate(466.3,38.9)">
<g clip-path="url(#ct)"><g filter="url(#cm)" stroke-width="12" fill="none"><path stroke="#a0a0a0" d="M261.9 5.7h12"/><path stroke="#a1a1a1" d="M250.5 -17.1h34.8M250.5 -5.7h34.8M250.5 5.7h12M273.2 5.7h12"/><path stroke="#a2a2a2" d="M239.1 -17.1h12M284.6 -17.1h12M239.1 -5.7h12M284.6 -5.7h12M239.1 5.7h12M284.6 5.7h12M261.9 17.1h12"/><path stroke="#a3a3a3" d="M250.5 17.1h12M273.2 17.1h12"/><path stroke="#a4a4a4" d="M296 -17.1h12M296 -5.7h12M296 5.7h12M239.1 17.1h12M284.6 17.1h12"/><path stroke="#a5a5a5" d="M227.7 -17.1h12M227.7 -5.7h12M227.7 5.7h12"/><path stroke="#a6a6a6" d="M227.7 17.1h12M296 17.1h12"/><path stroke="#a7a7a7" d="M307.4 -17.1h12M307.4 -5.7h12M307.4 5.7h12M250.5 28.5h46.1"/><path stroke="#a8a8a8" d="M216.3 -17.1h12M216.3 -5.7h12M216.3 5.7h12M307.4 17.1h12M239.1 28.5h12M296 28.5h12"/><path stroke="#aaaaaa" d="M216.3 17.1h12M227.7 28.5h12M261.9 39.8h34.8"/><path stroke="#ababab" d="M318.8 -17.1h12M318.8 -5.7h12M318.8 5.7h12M307.4 28.5h12M250.5 39.8h12"/><path stroke="#acacac" d="M204.9 -17.1h12M204.9 -5.7h12M204.9 5.7h12M318.8 17.1h12M239.1 39.8h12M296 39.8h12"/><path stroke="#adadad" d="M204.9 17.1h12M216.3 28.5h12M250.5 51.2h46.1"/><path stroke="#aeaeae" d="M318.8 28.5h12M227.7 39.8h12M307.4 39.8h12M296 51.2h12"/><path stroke="#afafaf" d="M193.6 -17.1h12M193.6 -5.7h12M193.6 5.7h12M239.1 51.2h12"/><path stroke="#b0b0b0" d="M330.2 -17.1h12M330.2 -5.7h12M330.2 5.7h12M193.6 17.1h12M204.9 28.5h12M216.3 39.8h12M261.9 62.6h34.8"/><path stroke="#b1b1b1" d="M330.2 17.1h12M318.8 39.8h12M227.7 51.2h12M307.4 51.2h12M239.1 62.6h23.4M296 62.6h12"/><path stroke="#b2b2b2" d="M182.2 -17.1h12M182.2 -5.7h12M182.2 5.7h12M182.2 17.1h12M193.6 28.5h12M330.2 28.5h12"/><path stroke="#b3b3b3" d="M204.9 39.8h12M216.3 51.2h12M227.7 62.6h12M307.4 62.6h12"/><path stroke="#b4b4b4" d="M182.2 28.5h12M318.8 51.2h12"/><path stroke="#b5b5b5" d="M170.8 -17.1h12M341.6 -17.1h12M170.8 -5.7h12M341.6 -5.7h12M170.8 5.7h12M341.6 5.7h12M341.6 17.1h12M193.6 39.8h12M330.2 39.8h12M216.3 62.6h12M261.9 74h23.4M261.9 85.4h23.4M261.9 96.8h23.4"/><path stroke="#b6b6b6" d="M170.8 17.1h12M341.6 28.5h12M204.9 51.2h12M318.8 62.6h12M250.5 74h12M284.6 74h12M250.5 85.4h12M284.6 85.4h12M250.5 96.8h12M284.6 96.8h12"/><path stroke="#b7b7b7" d="M170.8 28.5h12M182.2 39.8h12M204.9 62.6h12M239.1 74h12M296 74h12M239.1 85.4h12M296 85.4h12M239.1 96.8h12M296 96.8h12"/><path stroke="#b8b8b8" d="M193.6 51.2h12M330.2 51.2h12M227.7 74h12M307.4 74h12M227.7 85.4h12M307.4 85.4h12M227.7 96.8h12M307.4 96.8h12"/><path stroke="#b9b9b9" d="M352.9 -17.1h12M352.9 -5.7h12M352.9 5.7h12M341.6 39.8h12M193.6 62.6h12M330.2 62.6h12"/><path stroke="#bababa" d="M159.4 5.7h12M352.9 17.1h12M170.8 39.8h12M182.2 51.2h12M216.3 74h12M216.3 85.4h12M216.3 96.8h12"/><path stroke="#bbbbbb" d="M159.4 -17.1h12M159.4 -5.7h12M159.4 17.1h12M352.9 28.5h12M341.6 51.2h12M204.9 74h12M318.8 74h12M204.9 85.4h12M318.8 85.4h12M204.9 96.8h12M318.8 96.8h12"/><path stroke="#bcbcbc" d="M159.4 28.5h12M182.2 62.6h12"/><path stroke="#bdbdbd" d="M352.9 39.8h12M170.8 51.2h12M341.6 62.6h12"/><path stroke="#bebebe" d="M364.3 -17.1h12M364.3 -5.7h12M364.3 5.7h12M364.3 17.1h12M193.6 74h12M330.2 74h12M193.6 85.4h12M330.2 85.4h12M193.6 96.8h12M330.2 96.8h12"/><path stroke="#bfbfbf" d="M364.3 28.5h12M159.4 39.8h12M352.9 51.2h12M170.8 62.6h12"/><path stroke="#c0c0c0" d="M375.7 -17.1h12M375.7 -5.7h12M352.9 62.6h12M341.6 74h12M341.6 85.4h12M341.6 96.8h12"/><path stroke="#c1c1c1" d="M148 -17.1h12M148 -5.7h12M148 5.7h12M375.7 5.7h12M375.7 17.1h12M364.3 39.8h12M182.2 74h12M182.2 85.4h12M182.2 96.8h12"/><path stroke="#c2c2c2" d="M387.1 -17.1h12M387.1 -5.7h12M148 17.1h12M159.4 51.2h12M364.3 51.2h12"/><path stroke="#c3c3c3" d="M387.1 5.7h12M148 28.5h12M375.7 28.5h12M352.9 74h12M352.9 85.4h12M352.9 96.8h12"/><path stroke="#c4c4c4" d="M387.1 17.1h12M375.7 39.8h12M159.4 62.6h12M364.3 62.6h12"/><path stroke="#c5c5c5" d="M398.5 -17.1h12M398.5 -5.7h12M398.5 5.7h12M170.8 74h12M364.3 74h12M170.8 85.4h12M364.3 85.4h12M170.8 96.8h12M364.3 96.8h12"/><path stroke="#c6c6c6" d="M398.5 17.1h12M387.1 28.5h12M148 39.8h12M375.7 51.2h12"/><path stroke="#c8c8c8" d="M387.1 39.8h12M375.7 62.6h12"/><path stroke="#c9c9c9" d="M136.6 -17.1h12M136.6 -5.7h12M136.6 5.7h12M136.6 17.1h12M398.5 28.5h12M148 51.2h12M159.4 74h12M375.7 74h12M159.4 85.4h12M375.7 85.4h12M159.4 96.8h12M375.7 96.8h12"/><path stroke="#cacaca" d="M409.9 -17.1h12M409.9 -5.7h12M409.9 5.7h12M136.6 28.5h12M387.1 51.2h12"/><path stroke="#cbcbcb" d="M409.9 17.1h12M148 62.6h12"/><path stroke="#cccccc" d="M398.5 39.8h12M387.1 62.6h12"/><path stroke="#cdcdcd" d="M409.9 28.5h12M136.6 39.8h12M387.1 74h12M387.1 85.4h12M387.1 96.8h12"/><path stroke="#cecece" d="M148 74h12M148 85.4h12M148 96.8h12"/><path stroke="#cfcfcf" d="M125.2 -17.1h12M125.2 -5.7h12M125.2 5.7h12M125.2 17.1h12M398.5 51.2h12"/><path stroke="#d0d0d0" d="M421.3 -17.1h12M421.3 -5.7h12M421.3 5.7h12M409.9 39.8h12M136.6 51.2h12"/><path stroke="#d1d1d1" d="M421.3 17.1h12M125.2 28.5h12M136.6 62.6h12M398.5 62.6h12"/><path stroke="#d2d2d2" d="M136.6 74h12M398.5 74h12M136.6 85.4h12M398.5 85.4h12M136.6 96.8h12M398.5 96.8h12"/><path stroke="#d3d3d3" d="M421.3 28.5h12M125.2 39.8h12M409.9 51.2h12"/><path stroke="#d4d4d4" d="M113.9 -17.1h12M113.9 -5.7h12M113.9 5.7h12"/><path stroke="#d5d5d5" d="M113.9 17.1h12M421.3 39.8h12M409.9 62.6h12M125.2 74h12M409.9 74h12M125.2 85.4h12M409.9 85.4h12M125.2 96.8h12M409.9 96.8h12"/><path stroke="#d6d6d6" d="M113.9 28.5h12M125.2 51.2h12M421.3 51.2h12M125.2 62.6h12"/><path stroke="#d7d7d7" d="M113.9 74h12M113.9 85.4h12M113.9 96.8h12"/><path stroke="#d8d8d8" d="M432.6 -17.1h12M432.6 -5.7h12M432.6 5.7h12M432.6 17.1h12M432.6 28.5h12M113.9 39.8h12M113.9 62.6h12M421.3 62.6h12M102.5 74h12M421.3 74h12M102.5 85.4h12M421.3 85.4h12M102.5 96.8h12M421.3 96.8h12"/><path stroke="#d9d9d9" d="M102.5 -17.1h12M102.5 -5.7h12M102.5 5.7h12M102.5 17.1h12M432.6 39.8h12M113.9 51.2h12M91.1 74h12M91.1 85.4h12M91.1 96.8h12"/><path stroke="#dadada" d="M432.6 51.2h12M102.5 62.6h12M432.6 62.6h12M79.7 74h12M432.6 74h12M79.7 85.4h12M432.6 85.4h12M79.7 96.8h12M432.6 96.8h12"/><path stroke="#dbdbdb" d="M102.5 28.5h12M34.2 74h12M56.9 74h23.4M466.8 74h12M34.2 85.4h12M56.9 85.4h23.4M466.8 85.4h12M34.2 96.8h12M56.9 96.8h23.4M466.8 96.8h12"/><path stroke="#dcdcdc" d="M102.5 39.8h12M91.1 62.6h12M444 62.6h12M22.8 74h12M45.5 74h12M444 74h23.4M478.2 74h12M22.8 85.4h12M45.5 85.4h12M444 85.4h23.4M478.2 85.4h12M22.8 96.8h12M45.5 96.8h12M444 96.8h23.4M478.2 96.8h12"/><path stroke="#dddddd" d="M444 39.8h12M102.5 51.2h12M444 51.2h12M11.4 74h12M489.6 74h12M11.4 85.4h12M489.6 85.4h12M11.4 96.8h12M489.6 96.8h12"/><path stroke="#dedede" d="M91.1 -17.1h12M444 -17.1h12M91.1 -5.7h12M444 -5.7h12M91.1 5.7h12M444 5.7h12M444 17.1h12M444 28.5h12M79.7 62.6h12M455.4 62.6h12M-22.8 74h34.8M501 74h23.4M535.1 74h34.8M-22.8 85.4h34.8M501 85.4h23.4M535.1 85.4h34.8M-22.8 96.8h34.8M501 96.8h23.4M535.1 96.8h34.8"/><path stroke="#dfdfdf" d="M91.1 17.1h12M91.1 51.2h12M68.3 62.6h12M523.7 74h12M523.7 85.4h12M523.7 96.8h12"/><path stroke="#e0e0e0" d="M91.1 28.5h12M91.1 39.8h12M455.4 51.2h12M56.9 62.6h12M466.8 62.6h12"/><path stroke="#e1e1e1" d="M455.4 39.8h12"/><path stroke="#e2e2e2" d="M79.7 51.2h12M466.8 51.2h12M45.5 62.6h12M478.2 62.6h12"/><path stroke="#e3e3e3" d="M455.4 28.5h12M34.2 62.6h12M489.6 62.6h12"/><path stroke="#e4e4e4" d="M455.4 -17.1h12M455.4 -5.7h12M455.4 5.7h12M455.4 17.1h12M79.7 39.8h12M22.8 62.6h12"/><path stroke="#e5e5e5" d="M79.7 -17.1h12M79.7 -5.7h12M79.7 5.7h12M79.7 17.1h12M79.7 28.5h12M466.8 39.8h12M68.3 51.2h12M478.2 51.2h12M11.4 62.6h12M501 62.6h12"/><path stroke="#e6e6e6" d="M0 62.6h12M512.3 62.6h23.4"/><path stroke="#e7e7e7" d="M466.8 28.5h12M56.9 51.2h12M-22.8 62.6h23.4M535.1 62.6h34.8"/><path stroke="#e8e8e8" d="M466.8 17.1h12M68.3 39.8h12M478.2 39.8h12M489.6 51.2h12"/><path stroke="#e9e9e9" d="M466.8 -17.1h12M466.8 -5.7h12M466.8 5.7h12M68.3 28.5h12M45.5 51.2h12"/><path stroke="#eaeaea" d="M68.3 17.1h12"/><path stroke="#ebebeb" d="M68.3 -17.1h12M68.3 -5.7h12M68.3 5.7h12M478.2 28.5h12M56.9 39.8h12M34.2 51.2h12M501 51.2h12"/><path stroke="#ececec" d="M478.2 -17.1h12M478.2 -5.7h12M478.2 5.7h12M478.2 17.1h12M489.6 39.8h12M22.8 51.2h12M512.3 51.2h12"/><path stroke="#ededed" d="M56.9 28.5h12M45.5 39.8h12M11.4 51.2h12M523.7 51.2h12"/><path stroke="#eeeeee" d="M56.9 17.1h12M489.6 28.5h12M34.2 39.8h12M-22.8 51.2h34.8M535.1 51.2h34.8"/><path stroke="#efefef" d="M56.9 -17.1h12M489.6 -17.1h12M56.9 -5.7h12M489.6 -5.7h12M56.9 5.7h12M489.6 17.1h12M45.5 28.5h12M22.8 39.8h12M501 39.8h12"/><path stroke="#f0f0f0" d="M489.6 5.7h12M45.5 17.1h12M34.2 28.5h12"/><path stroke="#f1f1f1" d="M45.5 -17.1h12M45.5 -5.7h12M45.5 5.7h12M34.2 17.1h12M22.8 28.5h12M-22.8 39.8h46.1M512.3 39.8h12M546.5 39.8h23.4"/><path stroke="#f2f2f2" d="M-22.8 -17.1h68.9M501 -17.1h12M535.1 -17.1h34.8M-22.8 -5.7h68.9M501 -5.7h12M535.1 -5.7h34.8M-22.8 5.7h34.8M22.8 5.7h23.4M501 5.7h12M546.5 5.7h23.4M-22.8 17.1h23.4M11.4 17.1h23.4M501 17.1h12M11.4 28.5h12M501 28.5h12M523.7 39.8h23.4"/><path stroke="#f3f3f3" d="M512.3 -17.1h23.4M512.3 -5.7h23.4M11.4 5.7h12M512.3 5.7h34.8M0 17.1h12M512.3 17.1h12M535.1 17.1h34.8M-22.8 28.5h34.8M512.3 28.5h12M535.1 28.5h34.8"/><path stroke="#f4f4f4" d="M523.7 17.1h12M523.7 28.5h12"/></g></g>
<g clip-path="url(#cl)"><g filter="url(#cm)" stroke-width="12" fill="none"><path stroke="#171717" d="M250.5 620.5h46.1M250.5 631.9h46.1M250.5 643.3h46.1"/><path stroke="#181818" d="M250.5 609.1h46.1"/><path stroke="#191919" d="M239.1 609.1h12M296 609.1h12M239.1 620.5h12M296 620.5h12M239.1 631.9h12M296 631.9h12M239.1 643.3h12M296 643.3h12"/><path stroke="#1a1a1a" d="M227.7 620.5h12M227.7 631.9h12M227.7 643.3h12"/><path stroke="#1b1b1b" d="M250.5 597.7h46.1M227.7 609.1h12M307.4 609.1h12M307.4 620.5h12M307.4 631.9h12M307.4 643.3h12"/><path stroke="#1c1c1c" d="M239.1 597.7h12M296 597.7h12"/><path stroke="#1d1d1d" d="M216.3 620.5h12M318.8 620.5h12M216.3 631.9h12M318.8 631.9h12M216.3 643.3h12M318.8 643.3h12"/><path stroke="#1e1e1e" d="M261.9 586.3h23.4M227.7 597.7h12M307.4 597.7h12M216.3 609.1h12M318.8 609.1h12"/><path stroke="#1f1f1f" d="M250.5 586.3h12M284.6 586.3h12"/><path stroke="#202020" d="M261.9 575h23.4M239.1 586.3h12M296 586.3h12"/><path stroke="#212121" d="M261.9 518h23.4M261.9 529.4h23.4M261.9 540.8h23.4M261.9 552.2h23.4M261.9 563.6h23.4M250.5 575h12M284.6 575h12M216.3 597.7h12M318.8 597.7h12M204.9 620.5h12M330.2 620.5h12M204.9 631.9h12M330.2 631.9h12M204.9 643.3h12M330.2 643.3h12"/><path stroke="#222222" d="M261.9 506.7h23.4M250.5 552.2h12M284.6 552.2h12M250.5 563.6h12M284.6 563.6h12M239.1 575h12M296 575h12M227.7 586.3h12M307.4 586.3h12M204.9 609.1h12M330.2 609.1h12"/><path stroke="#232323" d="M261.9 495.3h12M250.5 529.4h12M284.6 529.4h12M250.5 540.8h12M284.6 540.8h12"/><path stroke="#242424" d="M273.2 495.3h12M250.5 518h12M284.6 518h12M239.1 563.6h12M296 563.6h12"/><path stroke="#252525" d="M250.5 506.7h12M239.1 552.2h12M296 552.2h12M227.7 575h12M307.4 575h12M216.3 586.3h12M318.8 586.3h12M204.9 597.7h12M330.2 597.7h12"/><path stroke="#262626" d="M284.6 506.7h12M239.1 540.8h12M296 540.8h12M341.6 620.5h12M341.6 631.9h12M341.6 643.3h12"/><path stroke="#272727" d="M261.9 483.9h23.4M239.1 529.4h12M296 529.4h12M227.7 563.6h12M307.4 563.6h12M193.6 609.1h12M341.6 609.1h12M193.6 620.5h12M193.6 631.9h12M193.6 643.3h12"/><path stroke="#282828" d="M250.5 495.3h12M284.6 495.3h12M239.1 518h12M296 518h12M227.7 552.2h12M307.4 552.2h12M216.3 575h12M318.8 575h12"/><path stroke="#292929" d="M204.9 586.3h12M330.2 586.3h12"/><path stroke="#2a2a2a" d="M227.7 540.8h12M307.4 540.8h12M193.6 597.7h12M341.6 597.7h12"/><path stroke="#2b2b2b" d="M239.1 506.7h12M296 506.7h12M216.3 563.6h12M318.8 563.6h12"/><path stroke="#2c2c2c" d="M227.7 529.4h12M307.4 529.4h12M204.9 575h12M330.2 575h12M352.9 620.5h12M352.9 631.9h12M352.9 643.3h12"/><path stroke="#2d2d2d" d="M250.5 483.9h12M284.6 483.9h12M216.3 552.2h12M318.8 552.2h12M352.9 609.1h12M182.2 620.5h12M182.2 631.9h12M182.2 643.3h12"/><path stroke="#2e2e2e" d="M227.7 518h12M307.4 518h12M193.6 586.3h12M341.6 586.3h12M182.2 609.1h12"/><path stroke="#2f2f2f" d="M261.9 472.5h23.4M239.1 495.3h12M296 495.3h12"/><path stroke="#303030" d="M216.3 540.8h12M318.8 540.8h12M204.9 563.6h12M330.2 563.6h12"/><path stroke="#313131" d="M182.2 597.7h12M352.9 597.7h12"/><path stroke="#323232" d="M227.7 506.7h12M307.4 506.7h12M318.8 529.4h12M193.6 575h12M341.6 575h12M364.3 620.5h12M364.3 631.9h12M364.3 643.3h12"/><path stroke="#333333" d="M250.5 472.5h12M284.6 472.5h12M216.3 529.4h12M204.9 552.2h12M330.2 552.2h12M364.3 609.1h12"/><path stroke="#343434" d="M239.1 483.9h12M296 483.9h12M170.8 620.5h12M170.8 631.9h12M170.8 643.3h12"/><path stroke="#353535" d="M216.3 518h12M193.6 563.6h12M182.2 586.3h12M352.9 586.3h12M170.8 609.1h12"/><path stroke="#363636" d="M227.7 495.3h12M307.4 495.3h12M318.8 518h12M204.9 540.8h12M330.2 540.8h12M341.6 563.6h12"/><path stroke="#373737" d="M364.3 597.7h12"/><path stroke="#383838" d="M216.3 506.7h12M193.6 552.2h12M182.2 575h12M170.8 597.7h12M375.7 620.5h12M375.7 631.9h12M375.7 643.3h12"/><path stroke="#393939" d="M261.9 461.1h23.4M296 472.5h12M318.8 506.7h12M204.9 529.4h12M330.2 529.4h12M341.6 552.2h12M352.9 575h12M375.7 609.1h12"/><path stroke="#3a3a3a" d="M239.1 472.5h12"/><path stroke="#3b3b3b" d="M250.5 461.1h12M284.6 461.1h12M227.7 483.9h12M307.4 483.9h12M193.6 540.8h12M182.2 563.6h12"/><path stroke="#3c3c3c" d="M216.3 495.3h12M318.8 495.3h12M204.9 518h12M330.2 518h12M341.6 540.8h12M352.9 563.6h12M170.8 586.3h12M364.3 586.3h12M159.4 609.1h12M159.4 620.5h12M159.4 631.9h12M159.4 643.3h12"/><path stroke="#3d3d3d" d="M182.2 552.2h12M375.7 597.7h12"/><path stroke="#3e3e3e" d="M387.1 620.5h12M387.1 631.9h12M387.1 643.3h12"/><path stroke="#3f3f3f" d="M296 461.1h12M307.4 472.5h12M204.9 506.7h12M330.2 506.7h12M193.6 529.4h12M341.6 529.4h12M352.9 552.2h12M170.8 575h12M159.4 597.7h12"/><path stroke="#404040" d="M239.1 461.1h12M227.7 472.5h12M216.3 483.9h12M318.8 483.9h12M182.2 540.8h12M170.8 563.6h12M364.3 575h12M387.1 609.1h12"/><path stroke="#414141" d="M261.9 449.7h23.4M204.9 495.3h12M352.9 540.8h12"/><path stroke="#424242" d="M284.6 449.7h12M330.2 495.3h12M193.6 518h12M341.6 518h12M170.8 552.2h12M364.3 563.6h12M159.4 586.3h12M375.7 586.3h12"/><path stroke="#434343" d="M250.5 449.7h12M182.2 529.4h12M387.1 597.7h12M148 609.1h12M148 620.5h12M148 631.9h12M148 643.3h12"/><path stroke="#444444" d="M307.4 461.1h12M318.8 472.5h12M193.6 506.7h12M341.6 506.7h12M352.9 529.4h12M159.4 575h12M398.5 620.5h12M398.5 631.9h12M398.5 643.3h12"/><path stroke="#454545" d="M216.3 472.5h12M204.9 483.9h12M330.2 483.9h12M170.8 540.8h12M364.3 552.2h12M148 597.7h12M398.5 609.1h12"/><path stroke="#464646" d="M227.7 461.1h12M193.6 495.3h12M341.6 495.3h12M182.2 518h12M352.9 518h12M159.4 563.6h12M375.7 575h12M148 586.3h12"/><path stroke="#474747" d="M296 449.7h12M364.3 540.8h12M159.4 552.2h12M387.1 586.3h12"/><path stroke="#484848" d="M261.9 438.3h23.4M239.1 449.7h12M330.2 472.5h12M182.2 506.7h12M352.9 506.7h12M170.8 529.4h12M375.7 563.6h12M148 575h12M398.5 597.7h12"/><path stroke="#494949" d="M318.8 461.1h12M193.6 483.9h12M341.6 483.9h12M364.3 529.4h12M136.6 609.1h12M136.6 620.5h12M136.6 631.9h12M136.6 643.3h12"/><path stroke="#4a4a4a" d="M204.9 472.5h12M182.2 495.3h12M352.9 495.3h12M170.8 518h12M364.3 518h12M159.4 540.8h12M375.7 552.2h12M148 563.6h12M387.1 575h12M136.6 586.3h12M136.6 597.7h12"/><path stroke="#4b4b4b" d="M261.9 256.2h12M284.6 438.3h12M409.9 609.1h12M409.9 620.5h12M409.9 631.9h12M409.9 643.3h12"/><path stroke="#4c4c4c" d="M261.9 244.8h12M273.2 256.2h12M250.5 438.3h12M307.4 449.7h12M216.3 461.1h12M352.9 483.9h12M170.8 506.7h12M364.3 506.7h12M375.7 540.8h12M387.1 563.6h12M136.6 575h12M398.5 586.3h12"/><path stroke="#4d4d4d" d="M273.2 244.8h12M330.2 461.1h12M341.6 472.5h12M364.3 495.3h12M159.4 529.4h12M375.7 529.4h12M148 552.2h12"/><path stroke="#4e4e4e" d="M182.2 483.9h12M170.8 495.3h12M387.1 552.2h12M409.9 597.7h12"/><path stroke="#4f4f4f" d="M227.7 449.7h12M193.6 472.5h12M159.4 518h12M375.7 518h12M148 540.8h12M136.6 563.6h12M398.5 575h12M125.2 586.3h12M125.2 597.7h12M125.2 609.1h12M125.2 620.5h12M125.2 631.9h12M125.2 643.3h12"/><path stroke="#505050" d="M250.5 244.8h12M284.6 244.8h12M296 438.3h12M364.3 483.9h12M159.4 506.7h12M375.7 506.7h12M387.1 540.8h12M398.5 563.6h12"/><path stroke="#515151" d="M273.2 233.4h12M250.5 256.2h12M318.8 449.7h12M204.9 461.1h12M352.9 472.5h12M375.7 495.3h12M125.2 575h12M421.3 620.5h12M421.3 631.9h12M421.3 643.3h12"/><path stroke="#525252" d="M261.9 233.4h12M341.6 461.1h12M170.8 483.9h12M159.4 495.3h12M148 529.4h12M387.1 529.4h12M136.6 552.2h12M398.5 552.2h12M409.9 586.3h12M421.3 609.1h12"/><path stroke="#535353" d="M284.6 256.2h12M239.1 438.3h12"/><path stroke="#545454" d="M284.6 233.4h12M182.2 472.5h12M375.7 483.9h12M387.1 506.7h12M148 518h12M387.1 518h12M136.6 540.8h12M125.2 563.6h12M409.9 575h12M113.9 586.3h12M113.9 597.7h12M113.9 609.1h12"/><path stroke="#555555" d="M250.5 233.4h12M364.3 472.5h12M387.1 495.3h12M148 506.7h12M398.5 540.8h12M409.9 563.6h12M421.3 597.7h12M113.9 620.5h12M113.9 631.9h12M113.9 643.3h12"/><path stroke="#565656" d="M296 244.8h12M273.2 427h12M216.3 449.7h12M330.2 449.7h12M159.4 483.9h12M125.2 552.2h12M113.9 575h12"/><path stroke="#575757" d="M239.1 244.8h12M261.9 427h12M193.6 461.1h12M148 495.3h12M136.6 529.4h12M398.5 529.4h12M409.9 552.2h12M421.3 586.3h12"/><path stroke="#585858" d="M261.9 222h23.4M296 233.4h12M261.9 267.6h12M307.4 438.3h12M352.9 461.1h12M387.1 483.9h12M113.9 563.6h12M432.6 620.5h12M432.6 631.9h12M432.6 643.3h12"/><path stroke="#595959" d="M239.1 256.2h12M170.8 472.5h12M375.7 472.5h12M136.6 518h12M398.5 518h12M125.2 540.8h12M409.9 540.8h12M421.3 575h12M102.5 586.3h12M102.5 597.7h12M102.5 609.1h12M432.6 609.1h12M102.5 620.5h12M102.5 631.9h12M102.5 643.3h12"/><path stroke="#5a5a5a" d="M284.6 222h12M273.2 267.6h12M284.6 427h12M398.5 495.3h12M136.6 506.7h12M398.5 506.7h12"/><path stroke="#5b5b5b" d="M250.5 222h12M239.1 233.4h12M296 256.2h12M204.9 449.7h12M148 483.9h12M113.9 552.2h12M421.3 563.6h12M102.5 575h12M432.6 597.7h12"/><path stroke="#5c5c5c" d="M250.5 427h12M227.7 438.3h12M341.6 449.7h12M398.5 483.9h12M136.6 495.3h12M125.2 529.4h12M409.9 529.4h12M421.3 552.2h12"/><path stroke="#5d5d5d" d="M307.4 244.8h12M250.5 267.6h12M182.2 461.1h12M364.3 461.1h12M102.5 563.6h12"/><path stroke="#5e5e5e" d="M273.2 210.6h12M307.4 233.4h12M159.4 472.5h12M387.1 472.5h12M409.9 506.7h12M125.2 518h12M409.9 518h12M113.9 540.8h12M421.3 540.8h12M91.1 586.3h12M432.6 586.3h12M91.1 597.7h12M91.1 609.1h12M91.1 620.5h12M91.1 631.9h12M91.1 643.3h12"/><path stroke="#5f5f5f" d="M261.9 210.6h12M296 222h12M227.7 244.8h12M318.8 438.3h12M136.6 483.9h12M409.9 495.3h12M125.2 506.7h12M102.5 552.2h12M91.1 575h12M432.6 575h12M444 620.5h12M444 631.9h12M444 643.3h12"/><path stroke="#606060" d="M239.1 222h12M284.6 267.6h12M296 427h12M409.9 483.9h12M125.2 495.3h12M113.9 529.4h12M432.6 563.6h12M444 609.1h12"/><path stroke="#616161" d="M284.6 210.6h12M227.7 233.4h12M193.6 449.7h12M398.5 472.5h12M113.9 518h12M421.3 529.4h12M102.5 540.8h12M432.6 552.2h12M91.1 563.6h12"/><path stroke="#626262" d="M250.5 210.6h12M307.4 256.2h12M352.9 449.7h12M375.7 461.1h12M148 472.5h12M125.2 483.9h12M113.9 506.7h12M421.3 518h12M91.1 552.2h12M79.7 586.3h12M79.7 597.7h12M444 597.7h12M79.7 609.1h12M79.7 620.5h12M79.7 631.9h12M79.7 643.3h12"/><path stroke="#636363" d="M307.4 222h12M227.7 256.2h12M113.9 495.3h12M421.3 495.3h12M421.3 506.7h12M102.5 529.4h12M432.6 540.8h12M79.7 575h12"/><path stroke="#646464" d="M318.8 233.4h12M318.8 244.8h12M216.3 438.3h12M170.8 461.1h12M421.3 483.9h12M91.1 540.8h12M79.7 563.6h12M444 586.3h12"/><path stroke="#656565" d="M261.9 199.2h23.4M227.7 222h12M239.1 427h12M330.2 438.3h12M136.6 472.5h12M409.9 472.5h12M113.9 483.9h12M102.5 506.7h12M102.5 518h12M432.6 529.4h12M79.7 552.2h12M444 563.6h12M444 575h12"/><path stroke="#666666" d="M239.1 210.6h12M296 210.6h12M216.3 233.4h12M216.3 244.8h12M239.1 267.6h12M387.1 461.1h12M102.5 495.3h12M432.6 495.3h12M91.1 529.4h12M79.7 540.8h12M444 552.2h12M455.4 609.1h12M455.4 620.5h12M455.4 631.9h12M455.4 643.3h12"/><path stroke="#676767" d="M318.8 222h12M125.2 472.5h12M102.5 483.9h12M432.6 483.9h12M432.6 506.7h12M91.1 518h12M432.6 518h12M444 540.8h12M68.3 552.2h12M68.3 563.6h12M68.3 575h12M68.3 586.3h12M68.3 597.7h12M68.3 609.1h12M68.3 620.5h12M68.3 631.9h12M68.3 643.3h12"/><path stroke="#686868" d="M250.5 199.2h12M284.6 199.2h12M216.3 222h12M204.9 438.3h12M182.2 449.7h12M364.3 449.7h12M159.4 461.1h12M113.9 472.5h12M421.3 472.5h12M91.1 495.3h12M91.1 506.7h12M79.7 529.4h12M68.3 540.8h12M455.4 597.7h12"/><path stroke="#696969" d="M330.2 233.4h12M296 267.6h12M307.4 427h12M398.5 461.1h12M91.1 483.9h12M79.7 518h12M68.3 529.4h12M444 529.4h12M455.4 586.3h12"/><path stroke="#6a6a6a" d="M227.7 210.6h12M307.4 210.6h12M330.2 244.8h12M318.8 256.2h12M102.5 472.5h12M432.6 472.5h12M444 483.9h12M79.7 495.3h12M444 495.3h12M79.7 506.7h12M444 506.7h12M68.3 518h12M444 518h12M56.9 540.8h12M56.9 552.2h12M56.9 563.6h12M455.4 563.6h12M56.9 575h12M455.4 575h12"/><path stroke="#6b6b6b" d="M239.1 199.2h12M296 199.2h12M204.9 233.4h12M216.3 256.2h12M148 461.1h12M409.9 461.1h12M91.1 472.5h12M79.7 483.9h12M68.3 506.7h12M56.9 529.4h12M455.4 540.8h12M455.4 552.2h12M56.9 586.3h12M56.9 597.7h12M56.9 609.1h12M56.9 620.5h12M466.8 620.5h12M56.9 631.9h12M466.8 631.9h12M56.9 643.3h12M466.8 643.3h12"/><path stroke="#6c6c6c" d="M261.9 187.9h23.4M216.3 210.6h12M204.9 222h12M330.2 222h12M341.6 438.3h12M375.7 449.7h12M79.7 472.5h12M444 472.5h12M68.3 495.3h12M56.9 518h12M455.4 529.4h12M466.8 609.1h12"/><path stroke="#6d6d6d" d="M318.8 210.6h12M204.9 244.8h12M273.2 415.6h12M193.6 438.3h12M91.1 461.1h57.5M421.3 461.1h12M68.3 483.9h12M455.4 483.9h12M56.9 495.3h12M455.4 495.3h12M56.9 506.7h12M455.4 506.7h12M455.4 518h12M45.5 529.4h12M45.5 540.8h12M45.5 552.2h12M45.5 563.6h12M466.8 597.7h12"/><path stroke="#6e6e6e" d="M250.5 187.9h12M284.6 187.9h12M227.7 199.2h12M204.9 210.6h12M261.9 415.6h12M68.3 461.1h23.4M432.6 461.1h12M68.3 472.5h12M455.4 472.5h12M56.9 483.9h12M45.5 506.7h12M45.5 518h12M45.5 575h12M45.5 586.3h12M466.8 586.3h12M45.5 597.7h12M45.5 609.1h12M45.5 620.5h12M45.5 631.9h12M45.5 643.3h12"/><path stroke="#6f6f6f" d="M307.4 199.2h12M341.6 233.4h12M261.9 278.9h12M170.8 449.7h12M387.1 449.7h12M56.9 461.1h12M444 461.1h12M56.9 472.5h12M45.5 483.9h12M466.8 483.9h12M45.5 495.3h12M466.8 495.3h12M466.8 506.7h12M34.2 518h12M466.8 518h12M34.2 529.4h12M466.8 529.4h12M34.2 540.8h12M466.8 540.8h12M34.2 552.2h12M466.8 552.2h12M466.8 563.6h12M466.8 575h12"/><path stroke="#707070" d="M239.1 187.9h12M296 187.9h12M330.2 210.6h12M193.6 222h12M227.7 267.6h12M273.2 278.9h12M284.6 415.6h12M227.7 427h12M68.3 449.7h34.8M455.4 461.1h12M45.5 472.5h12M466.8 472.5h12M34.2 483.9h12M34.2 495.3h12M34.2 506.7h12M34.2 563.6h12M478.2 609.1h12M478.2 620.5h12M478.2 631.9h12M478.2 643.3h12"/><path stroke="#717171" d="M216.3 199.2h12M341.6 222h12M193.6 233.4h12M341.6 244.8h12M330.2 256.2h12M307.4 267.6h12M45.5 449.7h23.4M102.5 449.7h12M34.2 461.1h23.4M466.8 461.1h12M22.8 472.5h23.4M478.2 472.5h12M22.8 483.9h12M478.2 483.9h12M22.8 495.3h12M478.2 495.3h12M22.8 506.7h12M478.2 506.7h12M22.8 518h12M478.2 518h12M22.8 529.4h12M478.2 529.4h12M22.8 540.8h12M22.8 552.2h12M34.2 575h12M34.2 586.3h12M478.2 597.7h12M34.2 620.5h12M34.2 631.9h12M34.2 643.3h12"/><path stroke="#727272" d="M318.8 199.2h12M193.6 210.6h12M-22.8 358.6h23.4M-22.8 370h23.4M11.4 415.6h12M318.8 427h12M512.3 427h23.4M45.5 438.3h34.8M352.9 438.3h12M34.2 449.7h12M113.9 449.7h12M398.5 449.7h68.9M11.4 461.1h23.4M478.2 461.1h23.4M11.4 472.5h12M489.6 472.5h23.4M0 483.9h23.4M489.6 483.9h23.4M0 495.3h23.4M489.6 495.3h12M0 506.7h23.4M0 518h23.4M0 529.4h23.4M0 540.8h23.4M478.2 540.8h12M11.4 552.2h12M478.2 552.2h12M22.8 563.6h12M478.2 563.6h12M478.2 575h12M478.2 586.3h12M34.2 597.7h12M34.2 609.1h12"/><path stroke="#737373" d="M261.9 176.5h23.4M227.7 187.9h12M204.9 199.2h12M193.6 244.8h12M204.9 256.2h12M546.5 335.9h23.4M-22.8 347.3h34.8M535.1 347.3h34.8M0 358.6h12M535.1 358.6h34.8M0 370h12M535.1 370h34.8M-22.8 381.4h46.1M535.1 381.4h34.8M-22.8 392.8h46.1M523.7 392.8h46.1M-22.8 404.2h57.5M512.3 404.2h57.5M-22.8 415.6h34.8M22.8 415.6h23.4M250.5 415.6h12M501 415.6h68.9M-22.8 427h80.3M489.6 427h23.4M535.1 427h34.8M-22.8 438.3h68.9M79.7 438.3h12M466.8 438.3h103.1M-22.8 449.7h57.5M466.8 449.7h103.1M-22.8 461.1h34.8M501 461.1h46.1M-22.8 472.5h34.8M512.3 472.5h12M-22.8 483.9h23.4M512.3 483.9h12M-22.8 495.3h23.4M501 495.3h12M-22.8 506.7h23.4M489.6 506.7h12M-22.8 518h23.4M489.6 518h12M-22.8 529.4h23.4M-22.8 540.8h23.4M-22.8 552.2h34.8M0 563.6h23.4M22.8 575h12M489.6 597.7h12M489.6 609.1h12M489.6 620.5h12M489.6 631.9h12M489.6 643.3h12"/><path stroke="#747474" d="M250.5 176.5h12M284.6 176.5h12M307.4 187.9h12M250.5 278.9h12M546.5 324.5h23.4M-22.8 335.9h23.4M535.1 335.9h12M11.4 358.6h12M523.7 358.6h12M11.4 370h12M523.7 370h12M22.8 381.4h12M523.7 381.4h12M22.8 392.8h12M512.3 392.8h12M34.2 404.2h12M501 404.2h12M489.6 415.6h12M56.9 427h12M466.8 427h23.4M91.1 438.3h12M182.2 438.3h12M444 438.3h23.4M125.2 449.7h12M159.4 449.7h12M546.5 461.1h23.4M523.7 472.5h23.4M523.7 483.9h12M512.3 495.3h12M501 506.7h12M489.6 529.4h12M489.6 540.8h12M489.6 552.2h12M-22.8 563.6h23.4M489.6 563.6h12M0 575h23.4M489.6 575h12M22.8 586.3h12M489.6 586.3h12M22.8 597.7h12M22.8 609.1h12M22.8 620.5h12M22.8 631.9h12M22.8 643.3h12"/><path stroke="#757575" d="M330.2 199.2h12M341.6 210.6h12M182.2 222h12M352.9 233.4h12M546.5 313.1h23.4M535.1 324.5h12M0 335.9h12M523.7 335.9h12M11.4 347.3h12M523.7 347.3h12M22.8 358.6h12M22.8 370h12M512.3 370h12M512.3 381.4h12M34.2 392.8h12M501 392.8h12M489.6 404.2h12M45.5 415.6h12M478.2 415.6h12M68.3 427h12M455.4 427h12M136.6 449.7h23.4M546.5 472.5h23.4M535.1 483.9h34.8M523.7 495.3h46.1M512.3 506.7h57.5M501 518h12M535.1 518h34.8M501 529.4h12M535.1 529.4h34.8M501 540.8h12M535.1 540.8h34.8M501 552.2h12M535.1 552.2h34.8M501 563.6h12M535.1 563.6h34.8M-22.8 575h23.4M501 575h12M535.1 575h34.8M-22.8 586.3h46.1M501 586.3h12M535.1 586.3h34.8M-22.8 597.7h46.1M501 597.7h12M535.1 597.7h34.8M-22.8 609.1h46.1M501 609.1h12M535.1 609.1h34.8M-22.8 620.5h46.1M501 620.5h12M535.1 620.5h34.8M-22.8 631.9h46.1M501 631.9h12M535.1 631.9h34.8M-22.8 643.3h46.1M501 643.3h12M535.1 643.3h34.8"/><path stroke="#767676" d="M239.1 176.5h12M296 176.5h12M216.3 187.9h12M182.2 233.4h12M284.6 278.9h12M546.5 301.7h23.4M535.1 313.1h12M-22.8 324.5h23.4M523.7 324.5h12M512.3 358.6h12M34.2 381.4h12M501 381.4h12M489.6 392.8h12M45.5 404.2h12M478.2 404.2h12M466.8 415.6h12M79.7 427h12M444 427h12M102.5 438.3h12M364.3 438.3h12M432.6 438.3h12M512.3 518h23.4M512.3 529.4h23.4M512.3 540.8h23.4M512.3 552.2h23.4M512.3 563.6h23.4M512.3 575h23.4M512.3 586.3h23.4M512.3 597.7h23.4M512.3 609.1h23.4M512.3 620.5h23.4M512.3 631.9h23.4M512.3 643.3h23.4"/><path stroke="#777777" d="M318.8 187.9h12M193.6 199.2h12M352.9 222h12M535.1 301.7h12M523.7 313.1h12M0 324.5h12M11.4 335.9h12M512.3 335.9h12M22.8 347.3h12M512.3 347.3h12M34.2 370h12M501 370h12M56.9 415.6h12M296 415.6h12M455.4 415.6h12M216.3 427h12M421.3 438.3h12"/><path stroke="#787878" d="M182.2 210.6h12M352.9 244.8h12M341.6 256.2h12M546.5 290.3h23.4M-22.8 313.1h23.4M512.3 324.5h12M34.2 358.6h12M501 358.6h12M489.6 381.4h12M45.5 392.8h12M466.8 404.2h12M91.1 427h12M432.6 427h12M113.9 438.3h12"/><path stroke="#797979" d="M227.7 176.5h12M307.4 176.5h12M204.9 187.9h12M341.6 199.2h12M182.2 244.8h12M193.6 256.2h12M535.1 290.3h12M-22.8 301.7h23.4M523.7 301.7h12M0 313.1h12M512.3 313.1h12M11.4 324.5h12M22.8 335.9h12M34.2 347.3h12M501 347.3h12M45.5 381.4h12M478.2 392.8h12M56.9 404.2h12M68.3 415.6h12M444 415.6h12M375.7 438.3h12M409.9 438.3h12"/><path stroke="#7a7a7a" d="M330.2 187.9h12M352.9 210.6h12M170.8 233.4h12M216.3 267.6h12M546.5 278.9h23.4M0 301.7h12M501 335.9h12M45.5 370h12M489.6 370h12M204.9 427h12M330.2 427h12M387.1 438.3h23.4"/><path stroke="#7b7b7b" d="M261.9 165.1h23.4M170.8 222h12M364.3 233.4h12M318.8 267.6h12M535.1 278.9h12M-22.8 290.3h23.4M523.7 290.3h12M512.3 301.7h12M11.4 313.1h12M501 324.5h12M34.2 335.9h12M45.5 358.6h12M489.6 358.6h12M478.2 381.4h12M56.9 392.8h12M455.4 404.2h12M79.7 415.6h12M102.5 427h12M125.2 438.3h12M170.8 438.3h12"/><path stroke="#7c7c7c" d="M250.5 165.1h12M284.6 165.1h12M182.2 199.2h12M364.3 222h12M0 290.3h12M501 313.1h12M22.8 324.5h12M45.5 347.3h12M489.6 347.3h12M466.8 392.8h12M68.3 404.2h12M432.6 415.6h12M421.3 427h12"/><path stroke="#7d7d7d" d="M216.3 176.5h12M318.8 176.5h12M193.6 187.9h12M170.8 210.6h12M364.3 244.8h12M-22.8 278.9h23.4M239.1 278.9h12M512.3 290.3h12M11.4 301.7h12M489.6 335.9h12M478.2 370h12M56.9 381.4h12M239.1 415.6h12M193.6 427h12"/><path stroke="#7e7e7e" d="M239.1 165.1h12M296 165.1h12M341.6 187.9h12M352.9 199.2h12M170.8 244.8h12M546.5 267.6h23.4M0 278.9h12M523.7 278.9h12M11.4 290.3h12M501 301.7h12M22.8 313.1h12M34.2 324.5h12M489.6 324.5h12M45.5 335.9h12M56.9 370h12M444 404.2h12M91.1 415.6h12M136.6 438.3h12"/><path stroke="#7f7f7f" d="M364.3 210.6h12M159.4 222h12M159.4 233.4h12M182.2 256.2h12M352.9 256.2h12M535.1 267.6h12M296 278.9h12M489.6 313.1h12M56.9 358.6h12M478.2 358.6h12M466.8 381.4h12M68.3 392.8h12M79.7 404.2h12M113.9 427h12M409.9 427h12M148 438.3h23.4"/><path stroke="#808080" d="M204.9 176.5h12M330.2 176.5h12M170.8 199.2h12M375.7 233.4h12M-22.8 267.6h23.4M512.3 278.9h12M501 290.3h12M22.8 301.7h12M56.9 347.3h12M478.2 347.3h12M455.4 392.8h12M307.4 415.6h12M341.6 427h12"/><path stroke="#818181" d="M227.7 165.1h12M307.4 165.1h12M182.2 187.9h12M159.4 210.6h12M375.7 222h12M0 267.6h12M204.9 267.6h12M330.2 267.6h12M523.7 267.6h12M11.4 278.9h12M22.8 290.3h12M489.6 301.7h12M34.2 313.1h12M45.5 324.5h12M478.2 335.9h12M102.5 415.6h12M421.3 415.6h12"/><path stroke="#828282" d="M261.9 153.7h23.4M352.9 187.9h12M148 233.4h12M159.4 244.8h12M375.7 244.8h12M546.5 256.2h23.4M34.2 301.7h12M478.2 324.5h12M56.9 335.9h12M466.8 370h12M68.3 381.4h12"/><path stroke="#838383" d="M364.3 199.2h12M148 222h12M535.1 256.2h12M22.8 278.9h12M501 278.9h12M489.6 290.3h12M45.5 313.1h12M478.2 313.1h12M466.8 358.6h12M68.3 370h12M91.1 404.2h12M432.6 404.2h12M125.2 427h12M182.2 427h12M398.5 427h12"/><path stroke="#848484" d="M250.5 153.7h12M284.6 153.7h12M216.3 165.1h12M318.8 165.1h12M193.6 176.5h12M341.6 176.5h12M159.4 199.2h12M375.7 210.6h12M387.1 233.4h12M11.4 267.6h12M193.6 267.6h12M512.3 267.6h12M34.2 290.3h12M478.2 301.7h12M56.9 324.5h12M68.3 347.3h12M466.8 347.3h12M68.3 358.6h12M455.4 381.4h12M79.7 392.8h12"/><path stroke="#858585" d="M170.8 187.9h12M148 210.6h12M387.1 222h12M136.6 233.4h12M148 244.8h12M-22.8 256.2h23.4M170.8 256.2h12M364.3 256.2h12M523.7 256.2h12M341.6 267.6h12M45.5 301.7h12M466.8 335.9h12M444 392.8h12M352.9 427h12M387.1 427h12"/><path stroke="#868686" d="M239.1 153.7h12M296 153.7h12M364.3 187.9h12M136.6 222h12M387.1 244.8h12M0 256.2h12M22.8 267.6h12M501 267.6h12M34.2 278.9h12M489.6 278.9h12M45.5 290.3h12M478.2 290.3h12M56.9 313.1h12M466.8 313.1h12M466.8 324.5h12M68.3 335.9h12M273.2 404.2h12M113.9 415.6h12"/><path stroke="#878787" d="M204.9 165.1h12M330.2 165.1h12M182.2 176.5h12M352.9 176.5h12M375.7 199.2h12M136.6 244.8h12M546.5 244.8h23.4M45.5 278.9h12M56.9 301.7h12M466.8 301.7h12M68.3 324.5h12M79.7 381.4h12M261.9 404.2h12M409.9 415.6h12M136.6 427h12M364.3 427h23.4"/><path stroke="#888888" d="M148 199.2h12M136.6 210.6h12M387.1 210.6h12M125.2 233.4h12M398.5 233.4h12M125.2 244.8h12M535.1 244.8h12M11.4 256.2h12M512.3 256.2h12M34.2 267.6h12M478.2 278.9h12M56.9 290.3h12M455.4 370h12M102.5 404.2h12M227.7 415.6h12"/><path stroke="#898989" d="M261.9 142.3h23.4M227.7 153.7h12M307.4 153.7h12M159.4 187.9h12M125.2 222h12M398.5 222h12M-22.8 244.8h23.4M398.5 244.8h12M523.7 244.8h12M159.4 256.2h12M489.6 267.6h12M56.9 278.9h12M227.7 278.9h12M261.9 290.3h23.4M466.8 290.3h12M68.3 301.7h12M68.3 313.1h12M79.7 370h12M91.1 392.8h12M284.6 404.2h12M421.3 404.2h12M170.8 427h12"/><path stroke="#8a8a8a" d="M250.5 142.3h12M284.6 142.3h12M341.6 165.1h12M170.8 176.5h12M375.7 187.9h12M387.1 199.2h12M113.9 233.4h12M409.9 233.4h12M0 244.8h12M113.9 244.8h12M22.8 256.2h12M375.7 256.2h12M501 256.2h12M45.5 267.6h12M68.3 278.9h12M307.4 278.9h12M466.8 278.9h12M68.3 290.3h12M455.4 301.7h12M455.4 313.1h12M455.4 324.5h12M79.7 347.3h12M455.4 347.3h12M79.7 358.6h12M455.4 358.6h12M318.8 415.6h12M148 427h12"/><path stroke="#8b8b8b" d="M216.3 153.7h12M318.8 153.7h12M193.6 165.1h12M364.3 176.5h12M136.6 199.2h12M125.2 210.6h12M398.5 210.6h12M113.9 222h12M409.9 222h12M546.5 233.4h23.4M409.9 244.8h12M512.3 244.8h12M113.9 256.2h46.1M489.6 256.2h12M56.9 267.6h23.4M478.2 267.6h12M455.4 290.3h12M79.7 335.9h12M455.4 335.9h12M444 381.4h12M432.6 392.8h12M159.4 427h12"/><path stroke="#8c8c8c" d="M148 187.9h12M102.5 233.4h12M535.1 233.4h12M11.4 244.8h12M102.5 244.8h12M34.2 256.2h23.4M102.5 256.2h12M387.1 256.2h12M79.7 267.6h12M182.2 267.6h12M466.8 267.6h12M79.7 278.9h12M455.4 278.9h12M79.7 290.3h12M79.7 301.7h12M79.7 313.1h12M79.7 324.5h12M125.2 415.6h12M398.5 415.6h12"/><path stroke="#8d8d8d" d="M239.1 142.3h12M296 142.3h12M352.9 165.1h12M387.1 187.9h12M398.5 199.2h12M409.9 210.6h12M421.3 233.4h12M523.7 233.4h12M91.1 244.8h12M421.3 244.8h12M501 244.8h12M56.9 256.2h46.1M398.5 256.2h23.4M478.2 256.2h12M91.1 267.6h12M352.9 267.6h12M455.4 267.6h12M91.1 381.4h12M250.5 404.2h12"/><path stroke="#8e8e8e" d="M261.9 130.9h23.4M204.9 153.7h12M330.2 153.7h12M182.2 165.1h12M159.4 176.5h12M375.7 176.5h12M136.6 187.9h12M125.2 199.2h12M113.9 210.6h12M102.5 222h12M421.3 222h12M-22.8 233.4h23.4M91.1 233.4h12M432.6 233.4h12M512.3 233.4h12M22.8 244.8h12M68.3 244.8h23.4M432.6 244.8h12M478.2 244.8h23.4M421.3 256.2h57.5M102.5 267.6h23.4M444 267.6h12M91.1 278.9h12M444 278.9h12M250.5 290.3h12M444 290.3h12M444 301.7h12"/><path stroke="#8f8f8f" d="M250.5 130.9h12M284.6 130.9h12M227.7 142.3h12M307.4 142.3h12M409.9 199.2h12M421.3 210.6h12M432.6 222h12M0 233.4h12M79.7 233.4h12M501 233.4h12M34.2 244.8h34.8M444 244.8h34.8M125.2 267.6h12M421.3 267.6h23.4M91.1 290.3h12M284.6 290.3h12M444 313.1h12M444 370h12M102.5 392.8h12M113.9 404.2h12M296 404.2h12"/><path stroke="#909090" d="M364.3 165.1h12M148 176.5h12M387.1 176.5h12M398.5 187.9h12M102.5 210.6h12M91.1 222h12M535.1 222h34.8M11.4 233.4h12M68.3 233.4h12M444 233.4h57.5M102.5 278.9h12M432.6 278.9h12M91.1 301.7h12M444 324.5h12M91.1 370h12M409.9 404.2h12"/><path stroke="#919191" d="M239.1 130.9h12M296 130.9h12M193.6 153.7h12M341.6 153.7h12M170.8 165.1h12M125.2 187.9h12M113.9 199.2h12M421.3 199.2h12M432.6 210.6h12M68.3 222h23.4M444 222h23.4M512.3 222h23.4M22.8 233.4h46.1M136.6 267.6h12M409.9 267.6h12M432.6 290.3h12M91.1 313.1h12M444 335.9h12M444 358.6h12M136.6 415.6h12"/><path stroke="#929292" d="M261.9 119.5h23.4M216.3 142.3h12M318.8 142.3h12M375.7 165.1h12M409.9 187.9h12M91.1 210.6h12M444 210.6h12M-22.8 222h23.4M56.9 222h12M466.8 222h46.1M398.5 267.6h12M113.9 278.9h12M421.3 278.9h12M91.1 324.5h12M91.1 335.9h12M91.1 347.3h12M444 347.3h12M91.1 358.6h12M432.6 381.4h12M421.3 392.8h12M216.3 415.6h12M387.1 415.6h12"/><path stroke="#939393" d="M250.5 119.5h12M284.6 119.5h12M352.9 153.7h12M136.6 176.5h12M398.5 176.5h12M102.5 199.2h12M432.6 199.2h12M68.3 210.6h23.4M455.4 210.6h12M0 222h23.4M45.5 222h12M170.8 267.6h12M364.3 267.6h12M102.5 290.3h12M432.6 301.7h12M330.2 415.6h12"/><path stroke="#949494" d="M239.1 119.5h12M296 119.5h12M227.7 130.9h12M307.4 130.9h12M204.9 142.3h12M182.2 153.7h12M159.4 165.1h12M113.9 187.9h12M421.3 187.9h12M444 199.2h12M56.9 210.6h12M466.8 210.6h103.1M22.8 222h23.4M148 267.6h12M193.6 415.6h12"/><path stroke="#959595" d="M330.2 142.3h12M364.3 153.7h12M387.1 165.1h12M125.2 176.5h12M409.9 176.5h12M432.6 187.9h12M91.1 199.2h12M455.4 199.2h12M45.5 210.6h12M159.4 267.6h12M375.7 267.6h23.4M125.2 278.9h12M409.9 278.9h12M421.3 290.3h12M102.5 301.7h12M432.6 313.1h12M102.5 381.4h12M125.2 404.2h12M204.9 415.6h12"/><path stroke="#969696" d="M261.9 108.2h23.4M216.3 130.9h12M318.8 130.9h12M148 165.1h12M444 187.9h12M68.3 199.2h23.4M466.8 199.2h68.9M546.5 199.2h23.4M-22.8 210.6h23.4M34.2 210.6h12"/><path stroke="#979797" d="M250.5 108.2h12M284.6 108.2h12M227.7 119.5h12M307.4 119.5h12M193.6 142.3h12M341.6 142.3h12M170.8 153.7h12M375.7 153.7h12M398.5 165.1h12M421.3 176.5h12M102.5 187.9h12M455.4 187.9h12M56.9 199.2h12M535.1 199.2h12M0 210.6h34.8M216.3 278.9h12M318.8 278.9h12M113.9 290.3h12M113.9 392.8h12M239.1 404.2h12M398.5 404.2h12M148 415.6h12M375.7 415.6h12"/><path stroke="#989898" d="M239.1 108.2h12M296 108.2h12M352.9 142.3h12M136.6 165.1h12M113.9 176.5h12M432.6 176.5h12M91.1 187.9h12M466.8 187.9h12M45.5 199.2h12M239.1 290.3h12M296 290.3h12M102.5 313.1h12M432.6 324.5h12M432.6 370h12M307.4 404.2h12M182.2 415.6h12M341.6 415.6h12"/><path stroke="#999999" d="M216.3 119.5h12M318.8 119.5h12M204.9 130.9h12M330.2 130.9h12M387.1 153.7h12M409.9 165.1h12M79.7 187.9h12M478.2 187.9h91.7M34.2 199.2h12M398.5 278.9h12M421.3 301.7h12M102.5 370h12M364.3 415.6h12"/><path stroke="#9a9a9a" d="M227.7 108.2h12M307.4 108.2h12M182.2 142.3h12M364.3 142.3h12M159.4 153.7h12M125.2 165.1h12M102.5 176.5h12M444 176.5h12M68.3 187.9h12M-22.8 199.2h57.5M136.6 278.9h12M409.9 290.3h12M102.5 324.5h12M421.3 381.4h12M409.9 392.8h12M159.4 415.6h12M352.9 415.6h12"/><path stroke="#9b9b9b" d="M261.9 96.8h23.4M193.6 130.9h12M341.6 130.9h12M398.5 153.7h12M421.3 165.1h12M455.4 176.5h23.4M501 176.5h23.4M546.5 176.5h23.4M56.9 187.9h12M432.6 335.9h12M432.6 358.6h12M170.8 415.6h12"/><path stroke="#9c9c9c" d="M250.5 96.8h12M284.6 96.8h12M204.9 119.5h12M330.2 119.5h12M352.9 130.9h12M170.8 142.3h12M375.7 142.3h12M148 153.7h12M113.9 165.1h12M432.6 165.1h12M91.1 176.5h12M478.2 176.5h23.4M523.7 176.5h23.4M34.2 187.9h23.4M193.6 278.9h12M341.6 278.9h12M113.9 301.7h12M102.5 335.9h12M102.5 347.3h12M432.6 347.3h12M102.5 358.6h12"/><path stroke="#9d9d9d" d="M239.1 96.8h12M296 96.8h12M216.3 108.2h12M318.8 108.2h12M387.1 142.3h12M136.6 153.7h12M409.9 153.7h12M444 165.1h12M79.7 176.5h12M-22.8 187.9h57.5M125.2 290.3h12M421.3 313.1h12M136.6 404.2h12"/><path stroke="#9e9e9e" d="M193.6 119.5h12M341.6 119.5h12M182.2 130.9h12M364.3 130.9h12M102.5 165.1h12M455.4 165.1h12M56.9 176.5h23.4M330.2 278.9h12M113.9 381.4h12M273.2 392.8h12"/><path stroke="#9f9f9f" d="M227.7 96.8h12M307.4 96.8h12M204.9 108.2h12M330.2 108.2h12M375.7 130.9h12M159.4 142.3h12M398.5 142.3h12M125.2 153.7h12M421.3 153.7h12M466.8 165.1h103.1M45.5 176.5h12M148 278.9h12M387.1 278.9h12M125.2 392.8h12M387.1 404.2h12"/><path stroke="#a0a0a0" d="M182.2 119.5h12M352.9 119.5h12M170.8 130.9h12M148 142.3h12M91.1 165.1h12M34.2 176.5h12M182.2 278.9h12M204.9 278.9h12M352.9 278.9h12M409.9 301.7h12M261.9 392.8h12"/><path stroke="#a1a1a1" d="M261.9 85.4h23.4M216.3 96.8h12M318.8 96.8h12M193.6 108.2h12M341.6 108.2h12M364.3 119.5h12M387.1 130.9h12M409.9 142.3h12M113.9 153.7h12M432.6 153.7h12M68.3 165.1h23.4M-22.8 176.5h57.5M398.5 290.3h12M113.9 313.1h12M421.3 370h12M284.6 392.8h12"/><path stroke="#a2a2a2" d="M250.5 85.4h12M284.6 85.4h12M170.8 119.5h12M159.4 130.9h12M136.6 142.3h12M102.5 153.7h12M444 153.7h125.8M56.9 165.1h12M261.9 301.7h23.4M421.3 324.5h12M398.5 392.8h12M227.7 404.2h12M318.8 404.2h12"/><path stroke="#a3a3a3" d="M239.1 85.4h12M296 85.4h12M182.2 108.2h12M352.9 108.2h12M375.7 119.5h12M398.5 130.9h12M125.2 142.3h12M421.3 142.3h12M91.1 153.7h12M45.5 165.1h12M159.4 278.9h12M375.7 278.9h12M136.6 290.3h12M409.9 381.4h12"/><path stroke="#a4a4a4" d="M204.9 96.8h12M330.2 96.8h12M159.4 119.5h12M387.1 119.5h12M148 130.9h12M409.9 130.9h12M113.9 142.3h12M79.7 153.7h12M-22.8 165.1h23.4M34.2 165.1h12M170.8 278.9h12M364.3 278.9h12M125.2 301.7h12M113.9 370h12M148 404.2h12"/><path stroke="#a5a5a5" d="M227.7 85.4h12M307.4 85.4h12M170.8 108.2h12M364.3 108.2h12M136.6 130.9h12M102.5 142.3h12M432.6 142.3h12M466.8 142.3h103.1M68.3 153.7h12M0 165.1h34.8M227.7 290.3h12M307.4 290.3h12M113.9 324.5h12M250.5 392.8h12"/><path stroke="#a6a6a6" d="M193.6 96.8h12M341.6 96.8h12M159.4 108.2h12M375.7 108.2h12M148 119.5h12M398.5 119.5h12M125.2 130.9h12M421.3 130.9h12M91.1 142.3h12M444 142.3h23.4M56.9 153.7h12M409.9 313.1h12M421.3 335.9h12M421.3 358.6h12M375.7 404.2h12"/><path stroke="#a7a7a7" d="M216.3 85.4h12M318.8 85.4h12M182.2 96.8h12M136.6 119.5h12M113.9 130.9h12M79.7 142.3h12M45.5 153.7h12M250.5 301.7h12M284.6 301.7h12M421.3 347.3h12M296 392.8h12"/><path stroke="#a8a8a8" d="M261.9 51.2h23.4M261.9 62.6h23.4M250.5 74h46.1M352.9 96.8h12M148 108.2h12M387.1 108.2h12M409.9 119.5h12M91.1 130.9h23.4M432.6 130.9h23.4M501 130.9h68.9M56.9 142.3h23.4M-22.8 153.7h68.9M387.1 290.3h12M113.9 335.9h12M113.9 358.6h12M125.2 381.4h12M136.6 392.8h12"/><path stroke="#a9a9a9" d="M250.5 51.2h12M284.6 51.2h12M250.5 62.6h12M284.6 62.6h12M239.1 74h12M296 74h12M170.8 96.8h12M113.9 119.5h23.4M421.3 119.5h12M79.7 130.9h12M455.4 130.9h46.1M45.5 142.3h12M398.5 301.7h12M113.9 347.3h12"/><path stroke="#aaaaaa" d="M239.1 51.2h12M296 51.2h12M239.1 62.6h12M296 62.6h12M204.9 85.4h12M330.2 85.4h12M159.4 96.8h12M364.3 96.8h12M136.6 108.2h12M398.5 108.2h12M102.5 119.5h12M432.6 119.5h12M512.3 119.5h57.5M56.9 130.9h23.4M34.2 142.3h12M148 290.3h12M159.4 404.2h12"/><path stroke="#ababab" d="M125.2 108.2h12M409.9 108.2h12M56.9 119.5h46.1M444 119.5h12M489.6 119.5h23.4M34.2 130.9h23.4M-22.8 142.3h57.5M125.2 313.1h12M387.1 392.8h12M330.2 404.2h12"/><path stroke="#acacac" d="M227.7 51.2h12M307.4 51.2h12M227.7 62.6h12M307.4 62.6h12M227.7 74h12M307.4 74h12M193.6 85.4h12M148 96.8h12M375.7 96.8h12M113.9 108.2h12M421.3 108.2h12M-22.8 119.5h80.3M455.4 119.5h34.8M-22.8 130.9h57.5M136.6 301.7h12M409.9 324.5h12M409.9 370h12M364.3 404.2h12"/><path stroke="#adadad" d="M341.6 85.4h12M387.1 96.8h12M-22.8 108.2h137.2M432.6 108.2h12M501 108.2h68.9M398.5 381.4h12M216.3 404.2h12"/><path stroke="#aeaeae" d="M182.2 85.4h12M136.6 96.8h12M398.5 96.8h12M444 108.2h12M489.6 108.2h12M239.1 392.8h12"/><path stroke="#afafaf" d="M216.3 74h12M318.8 74h12M170.8 85.4h12M0 96.8h12M125.2 96.8h12M455.4 108.2h12M478.2 108.2h12M375.7 290.3h12M125.2 370h12M170.8 404.2h12"/><path stroke="#b0b0b0" d="M216.3 51.2h12M318.8 51.2h12M216.3 62.6h12M318.8 62.6h12M352.9 85.4h12M-22.8 96.8h23.4M11.4 96.8h23.4M56.9 96.8h23.4M113.9 96.8h12M409.9 96.8h23.4M501 96.8h68.9M466.8 108.2h12M239.1 301.7h12M296 301.7h12M398.5 313.1h12M307.4 392.8h12M341.6 404.2h23.4"/><path stroke="#b1b1b1" d="M159.4 85.4h12M34.2 96.8h23.4M79.7 96.8h34.8M432.6 96.8h12M159.4 290.3h12M125.2 324.5h12M409.9 358.6h12M148 392.8h12M182.2 404.2h12"/><path stroke="#b2b2b2" d="M330.2 74h12M364.3 85.4h12M444 96.8h12M489.6 96.8h12M318.8 290.3h12M387.1 301.7h12M409.9 335.9h12M136.6 381.4h12"/><path stroke="#b3b3b3" d="M204.9 51.2h12M330.2 51.2h12M204.9 62.6h12M330.2 62.6h12M204.9 74h12M148 85.4h12M375.7 85.4h12M455.4 96.8h34.8M273.2 381.4h12M193.6 404.2h12"/><path stroke="#b4b4b4" d="M136.6 85.4h12M387.1 85.4h12M216.3 290.3h12M364.3 290.3h12M409.9 347.3h12M125.2 358.6h12M375.7 392.8h12M204.9 404.2h12"/><path stroke="#b5b5b5" d="M-22.8 85.4h34.8M398.5 85.4h12M512.3 85.4h12M535.1 85.4h34.8M170.8 290.3h12M148 301.7h12M136.6 313.1h12M125.2 335.9h12M261.9 381.4h12"/><path stroke="#b6b6b6" d="M193.6 51.2h12M341.6 51.2h12M193.6 62.6h12M341.6 62.6h12M193.6 74h12M341.6 74h12M11.4 85.4h12M125.2 85.4h12M409.9 85.4h12M501 85.4h12M523.7 85.4h12M125.2 347.3h12M398.5 370h12M284.6 381.4h12"/><path stroke="#b7b7b7" d="M22.8 85.4h12M56.9 85.4h23.4M102.5 85.4h23.4M421.3 85.4h12M489.6 85.4h12M182.2 290.3h12M352.9 290.3h12M261.9 313.1h23.4M398.5 324.5h12M387.1 381.4h12"/><path stroke="#b8b8b8" d="M182.2 74h12M352.9 74h12M34.2 85.4h23.4M79.7 85.4h23.4M432.6 85.4h23.4M466.8 85.4h23.4"/><path stroke="#b9b9b9" d="M182.2 51.2h12M352.9 51.2h12M182.2 62.6h12M352.9 62.6h12M455.4 85.4h12M341.6 290.3h12M227.7 392.8h12M318.8 392.8h12"/><path stroke="#bababa" d="M170.8 74h12M375.7 301.7h12M387.1 313.1h12M136.6 370h12M250.5 381.4h12M159.4 392.8h12"/><path stroke="#bbbbbb" d="M170.8 51.2h12M170.8 62.6h12M364.3 74h12M193.6 290.3h12M330.2 290.3h12M307.4 301.7h12M284.6 313.1h12M136.6 324.5h12"/><path stroke="#bcbcbc" d="M364.3 51.2h12M364.3 62.6h12M159.4 74h12M250.5 313.1h12M296 381.4h12"/><path stroke="#bdbdbd" d="M159.4 51.2h12M375.7 51.2h12M159.4 62.6h12M375.7 62.6h12M375.7 74h23.4M159.4 301.7h12M227.7 301.7h12M398.5 335.9h12M398.5 358.6h12M148 381.4h12M364.3 392.8h12"/><path stroke="#bebebe" d="M387.1 51.2h12M387.1 62.6h12M148 74h12M398.5 74h12M535.1 74h34.8M204.9 290.3h12M148 313.1h12"/><path stroke="#bfbfbf" d="M148 51.2h12M398.5 51.2h12M535.1 51.2h34.8M148 62.6h12M398.5 62.6h12M535.1 62.6h34.8M409.9 74h12M523.7 74h12M398.5 347.3h12"/><path stroke="#c0c0c0" d="M409.9 51.2h23.4M523.7 51.2h12M409.9 62.6h23.4M523.7 62.6h12M136.6 74h12M421.3 74h12M512.3 74h12M136.6 335.9h12M136.6 358.6h12"/><path stroke="#c1c1c1" d="M136.6 51.2h12M432.6 51.2h12M512.3 51.2h12M136.6 62.6h12M432.6 62.6h12M512.3 62.6h12M-22.8 74h46.1M125.2 74h12M432.6 74h80.3M387.1 370h12M375.7 381.4h12M330.2 392.8h12"/><path stroke="#c2c2c2" d="M-22.8 51.2h46.1M125.2 51.2h12M444 51.2h68.9M-22.8 62.6h46.1M125.2 62.6h12M444 62.6h68.9M113.9 74h12M387.1 324.5h12M136.6 347.3h12M239.1 381.4h12M170.8 392.8h12"/><path stroke="#c3c3c3" d="M113.9 51.2h12M113.9 62.6h12M22.8 74h12M102.5 74h12M364.3 301.7h12M296 313.1h12M216.3 392.8h12"/><path stroke="#c4c4c4" d="M22.8 51.2h12M102.5 51.2h12M22.8 62.6h12M102.5 62.6h12M34.2 74h23.4M79.7 74h23.4M170.8 301.7h12M239.1 313.1h12M375.7 313.1h12M273.2 370h12M307.4 381.4h12M352.9 392.8h12"/><path stroke="#c5c5c5" d="M34.2 51.2h23.4M79.7 51.2h23.4M34.2 62.6h23.4M79.7 62.6h23.4M56.9 74h23.4M148 324.5h12M148 370h12M261.9 370h12M341.6 392.8h12"/><path stroke="#c6c6c6" d="M56.9 51.2h23.4M56.9 62.6h23.4M273.2 324.5h12M284.6 370h12"/><path stroke="#c7c7c7" d="M318.8 301.7h12M159.4 313.1h12M261.9 324.5h12M387.1 358.6h12M159.4 381.4h12"/><path stroke="#c8c8c8" d="M387.1 335.9h12M182.2 392.8h12"/><path stroke="#c9c9c9" d="M216.3 301.7h12"/><path stroke="#cacaca" d="M182.2 301.7h12M352.9 301.7h12M284.6 324.5h12M148 335.9h12M387.1 347.3h12M148 358.6h12M250.5 370h12M204.9 392.8h12"/><path stroke="#cbcbcb" d="M250.5 324.5h12M148 347.3h12M193.6 392.8h12"/><path stroke="#cccccc" d="M296 370h12M375.7 370h12M227.7 381.4h12M318.8 381.4h12M364.3 381.4h12"/><path stroke="#cdcdcd" d="M307.4 313.1h12M375.7 324.5h12"/><path stroke="#cecece" d="M330.2 301.7h12M273.2 358.6h12"/><path stroke="#cfcfcf" d="M193.6 301.7h12M341.6 301.7h12M227.7 313.1h12M364.3 313.1h12M261.9 358.6h12"/><path stroke="#d0d0d0" d="M204.9 301.7h12M159.4 324.5h12M261.9 335.9h23.4M159.4 370h12M170.8 381.4h12"/><path stroke="#d1d1d1" d="M170.8 313.1h12M296 324.5h12M284.6 358.6h12M239.1 370h12"/><path stroke="#d2d2d2" d="M239.1 324.5h12M273.2 347.3h12"/><path stroke="#d3d3d3" d="M284.6 335.9h12M375.7 335.9h12M261.9 347.3h12M250.5 358.6h12M375.7 358.6h12M307.4 370h12M330.2 381.4h12"/><path stroke="#d4d4d4" d="M159.4 335.9h12M250.5 335.9h12M159.4 358.6h12M352.9 381.4h12"/><path stroke="#d5d5d5" d="M159.4 347.3h12M284.6 347.3h12M375.7 347.3h12M216.3 381.4h12"/><path stroke="#d6d6d6" d="M318.8 313.1h12M296 358.6h12"/><path stroke="#d7d7d7" d="M250.5 347.3h12M341.6 381.4h12"/><path stroke="#d8d8d8" d="M216.3 313.1h12M352.9 313.1h12M364.3 370h12M182.2 381.4h12"/><path stroke="#d9d9d9" d="M182.2 313.1h12M307.4 324.5h12M364.3 324.5h12M296 335.9h12M227.7 370h12"/><path stroke="#dadada" d="M239.1 358.6h12M170.8 370h12"/><path stroke="#dbdbdb" d="M170.8 324.5h12M227.7 324.5h12M239.1 335.9h12M296 347.3h12M318.8 370h12M204.9 381.4h12"/><path stroke="#dcdcdc" d="M193.6 381.4h12"/><path stroke="#dddddd" d="M330.2 313.1h23.4M307.4 358.6h12"/><path stroke="#dedede" d="M193.6 313.1h23.4M239.1 347.3h12"/><path stroke="#e0e0e0" d="M364.3 335.9h12M364.3 358.6h12"/><path stroke="#e1e1e1" d="M170.8 335.9h12M307.4 335.9h12M170.8 358.6h12M216.3 370h12"/><path stroke="#e2e2e2" d="M318.8 324.5h12M307.4 347.3h12M227.7 358.6h12M182.2 370h12M330.2 370h12M352.9 370h12"/><path stroke="#e3e3e3" d="M216.3 324.5h12M352.9 324.5h12M227.7 335.9h12M364.3 347.3h12"/><path stroke="#e4e4e4" d="M182.2 324.5h12M170.8 347.3h12M341.6 370h12"/><path stroke="#e5e5e5" d="M227.7 347.3h12M318.8 358.6h12"/><path stroke="#e6e6e6" d="M204.9 370h12"/><path stroke="#e7e7e7" d="M330.2 324.5h12M193.6 370h12"/><path stroke="#e8e8e8" d="M341.6 324.5h12M318.8 335.9h12"/><path stroke="#e9e9e9" d="M193.6 324.5h23.4M318.8 347.3h12M216.3 358.6h12"/><path stroke="#eaeaea" d="M216.3 335.9h12"/><path stroke="#ebebeb" d="M352.9 335.9h12M182.2 358.6h12M330.2 358.6h12M352.9 358.6h12"/><path stroke="#ececec" d="M182.2 335.9h12M216.3 347.3h12"/><path stroke="#eeeeee" d="M330.2 335.9h12M352.9 347.3h12M204.9 358.6h12M341.6 358.6h12"/><path stroke="#efefef" d="M204.9 335.9h12M341.6 335.9h12M182.2 347.3h12M330.2 347.3h12M193.6 358.6h12"/><path stroke="#f0f0f0" d="M193.6 335.9h12"/><path stroke="#f1f1f1" d="M204.9 347.3h12M341.6 347.3h12"/><path stroke="#f3f3f3" d="M193.6 347.3h12"/></g></g>
<use href="#mesh"/>
</g>
<g transform="translate(1043.2,38.9)">
<g clip-path="url(#ct)"><g filter="url(#cm)" stroke-width="12" fill="none"><path stroke="#757575" d="M-22.8 74h23.4M-22.8 85.4h23.4M-22.8 96.8h23.4"/><path stroke="#777777" d="M0 74h12M0 85.4h12M0 96.8h12"/><path stroke="#787878" d="M546.5 74h23.4M546.5 85.4h23.4M546.5 96.8h23.4"/><path stroke="#797979" d="M535.1 74h12M535.1 85.4h12M535.1 96.8h12"/><path stroke="#7a7a7a" d="M11.4 74h12M11.4 85.4h12M11.4 96.8h12"/><path stroke="#7c7c7c" d="M-22.8 62.6h23.4"/><path stroke="#7d7d7d" d="M0 62.6h12M546.5 62.6h23.4M523.7 74h12M523.7 85.4h12M523.7 96.8h12"/><path stroke="#7e7e7e" d="M22.8 74h12M22.8 85.4h12M22.8 96.8h12"/><path stroke="#7f7f7f" d="M535.1 62.6h12"/><path stroke="#808080" d="M11.4 62.6h12M512.3 74h12M512.3 85.4h12M512.3 96.8h12"/><path stroke="#818181" d="M523.7 62.6h12M34.2 74h12M34.2 85.4h12M34.2 96.8h12"/><path stroke="#838383" d="M-22.8 51.2h23.4M22.8 62.6h12"/><path stroke="#848484" d="M0 51.2h12M546.5 51.2h23.4M512.3 62.6h12M501 74h12M501 85.4h12M501 96.8h12"/><path stroke="#858585" d="M535.1 51.2h12M34.2 62.6h12M45.5 74h12M45.5 85.4h12M45.5 96.8h12"/><path stroke="#868686" d="M11.4 51.2h12M523.7 51.2h12M489.6 74h12M489.6 85.4h12M489.6 96.8h12"/><path stroke="#878787" d="M501 62.6h12"/><path stroke="#888888" d="M22.8 51.2h12M512.3 51.2h12M45.5 62.6h12M56.9 74h12M56.9 85.4h12M56.9 96.8h12"/><path stroke="#898989" d="M-22.8 39.8h23.4M546.5 39.8h23.4M489.6 62.6h12M478.2 74h12M478.2 85.4h12M478.2 96.8h12"/><path stroke="#8a8a8a" d="M0 39.8h12M535.1 39.8h12M34.2 51.2h12M501 51.2h12M56.9 62.6h12"/><path stroke="#8b8b8b" d="M11.4 39.8h12M523.7 39.8h12M45.5 51.2h12M489.6 51.2h12M478.2 62.6h12M68.3 74h12M466.8 74h12M68.3 85.4h12M466.8 85.4h12M68.3 96.8h12M466.8 96.8h12"/><path stroke="#8c8c8c" d="M22.8 39.8h12M512.3 39.8h12M466.8 62.6h12M455.4 74h12M455.4 85.4h12M455.4 96.8h12"/><path stroke="#8d8d8d" d="M-22.8 28.5h34.8M535.1 28.5h34.8M34.2 39.8h12M501 39.8h12M56.9 51.2h12M478.2 51.2h12M68.3 62.6h12M79.7 74h12M79.7 85.4h12M79.7 96.8h12"/><path stroke="#8e8e8e" d="M-22.8 17.1h23.4M546.5 17.1h23.4M11.4 28.5h12M523.7 28.5h12M45.5 39.8h12M489.6 39.8h12M68.3 51.2h12M466.8 51.2h12M79.7 62.6h12M455.4 62.6h12M91.1 74h12M444 74h12M91.1 85.4h12M444 85.4h12M91.1 96.8h12M444 96.8h12"/><path stroke="#8f8f8f" d="M-22.8 -17.1h34.8M535.1 -17.1h34.8M-22.8 -5.7h34.8M535.1 -5.7h34.8M-22.8 5.7h34.8M535.1 5.7h34.8M0 17.1h12M535.1 17.1h12M22.8 28.5h12M512.3 28.5h12M56.9 39.8h12M478.2 39.8h12M455.4 51.2h12M444 62.6h12"/><path stroke="#909090" d="M11.4 -17.1h34.8M501 -17.1h34.8M11.4 -5.7h34.8M501 -5.7h34.8M11.4 5.7h34.8M501 5.7h34.8M11.4 17.1h23.4M512.3 17.1h23.4M34.2 28.5h23.4M489.6 28.5h23.4M68.3 39.8h12M466.8 39.8h12M79.7 51.2h12M91.1 62.6h12M102.5 74h12M432.6 74h12M102.5 85.4h12M432.6 85.4h12M102.5 96.8h12M432.6 96.8h12"/><path stroke="#919191" d="M45.5 -17.1h456M45.5 -5.7h456M45.5 5.7h23.4M91.1 5.7h364.9M478.2 5.7h23.4M34.2 17.1h34.8M91.1 17.1h364.9M478.2 17.1h34.8M56.9 28.5h433.2M79.7 39.8h23.4M444 39.8h23.4M91.1 51.2h12M444 51.2h12M102.5 62.6h12M432.6 62.6h12M113.9 74h12M421.3 74h12M113.9 85.4h12M421.3 85.4h12M113.9 96.8h12M421.3 96.8h12"/><path stroke="#929292" d="M68.3 5.7h23.4M455.4 5.7h23.4M68.3 17.1h23.4M455.4 17.1h23.4M102.5 39.8h342.2M102.5 51.2h342.2M113.9 62.6h23.4M159.4 62.6h228.3M409.9 62.6h23.4M125.2 74h12M409.9 74h12M125.2 85.4h12M409.9 85.4h12M125.2 96.8h12M409.9 96.8h12"/><path stroke="#939393" d="M136.6 62.6h23.4M387.1 62.6h23.4M136.6 74h273.9M136.6 85.4h273.9M136.6 96.8h273.9"/></g></g>
<g clip-path="url(#cl)"><g filter="url(#cm)" stroke-width="12" fill="none"><path stroke="#070707" d="M535.1 358.6h34.8M546.5 370h23.4"/><path stroke="#080808" d="M535.1 347.3h34.8M523.7 358.6h12M523.7 370h23.4M535.1 381.4h34.8M535.1 392.8h34.8"/><path stroke="#090909" d="M535.1 335.9h34.8M523.7 347.3h12M0 358.6h34.8M512.3 358.6h12M0 370h34.8M512.3 370h12M523.7 381.4h12M523.7 392.8h12M535.1 404.2h34.8"/><path stroke="#0a0a0a" d="M512.3 335.9h23.4M-22.8 347.3h57.5M501 347.3h23.4M-22.8 358.6h23.4M34.2 358.6h12M501 358.6h12M-22.8 370h23.4M34.2 370h12M501 370h12M-22.8 381.4h57.5M512.3 381.4h12M0 392.8h34.8M512.3 392.8h12M523.7 404.2h12M535.1 415.6h34.8"/><path stroke="#0b0b0b" d="M523.7 324.5h23.4M0 335.9h34.8M489.6 335.9h23.4M34.2 347.3h12M489.6 347.3h12M45.5 358.6h12M489.6 358.6h12M45.5 370h12M489.6 370h12M34.2 381.4h12M501 381.4h12M-22.8 392.8h23.4M34.2 392.8h12M0 404.2h34.8M512.3 404.2h12M523.7 415.6h12"/><path stroke="#0c0c0c" d="M501 324.5h23.4M546.5 324.5h23.4M-22.8 335.9h23.4M34.2 335.9h12M478.2 335.9h12M45.5 347.3h12M478.2 347.3h12M478.2 358.6h12M45.5 381.4h12M489.6 381.4h12M501 392.8h12M-22.8 404.2h23.4M34.2 404.2h12M501 404.2h12M11.4 415.6h23.4M512.3 415.6h12M546.5 427h23.4"/><path stroke="#0d0d0d" d="M489.6 324.5h12M45.5 335.9h12M56.9 358.6h12M56.9 370h12M478.2 370h12M45.5 392.8h12M489.6 392.8h12M-22.8 415.6h34.8M523.7 427h23.4"/><path stroke="#0e0e0e" d="M-22.8 324.5h68.9M56.9 347.3h12M466.8 347.3h12M466.8 358.6h12M56.9 381.4h12M478.2 381.4h12M45.5 404.2h12M34.2 415.6h12M501 415.6h12M11.4 427h23.4M512.3 427h12"/><path stroke="#0f0f0f" d="M512.3 313.1h57.5M45.5 324.5h12M478.2 324.5h12M56.9 335.9h12M466.8 335.9h12M466.8 370h12M56.9 392.8h12M489.6 404.2h12M-22.8 427h34.8M535.1 438.3h34.8"/><path stroke="#101010" d="M501 313.1h12M68.3 358.6h12M68.3 370h12M478.2 392.8h12M45.5 415.6h12M489.6 415.6h12M34.2 427h12M501 427h12M523.7 438.3h12"/><path stroke="#111111" d="M11.4 313.1h12M489.6 313.1h12M56.9 324.5h12M466.8 324.5h12M68.3 347.3h12M455.4 347.3h12M455.4 358.6h12M68.3 381.4h12M466.8 381.4h12M56.9 404.2h12M478.2 404.2h12M-22.8 438.3h57.5M512.3 438.3h12"/><path stroke="#121212" d="M-22.8 313.1h34.8M22.8 313.1h23.4M68.3 335.9h12M455.4 335.9h12M455.4 370h12M68.3 392.8h12M466.8 392.8h12M45.5 427h12M489.6 427h12M34.2 438.3h12M501 438.3h12M535.1 449.7h34.8"/><path stroke="#131313" d="M478.2 313.1h12M79.7 358.6h12M79.7 370h12M56.9 415.6h12M478.2 415.6h12M523.7 449.7h12"/><path stroke="#141414" d="M535.1 301.7h34.8M45.5 313.1h12M68.3 324.5h12M79.7 347.3h12M79.7 381.4h12M455.4 381.4h12M68.3 404.2h12M466.8 404.2h12M478.2 427h12M45.5 438.3h12M489.6 438.3h12M0 449.7h34.8M512.3 449.7h12"/><path stroke="#151515" d="M512.3 301.7h23.4M455.4 324.5h12M79.7 335.9h12M444 347.3h12M444 358.6h12M56.9 427h12M-22.8 449.7h23.4M34.2 449.7h12M501 449.7h12M546.5 461.1h23.4"/><path stroke="#161616" d="M-22.8 301.7h46.1M501 301.7h12M56.9 313.1h12M466.8 313.1h12M444 335.9h12M444 370h12M79.7 392.8h12M455.4 392.8h12M68.3 415.6h12M466.8 415.6h12M478.2 438.3h12M523.7 461.1h23.4"/><path stroke="#171717" d="M22.8 301.7h12M91.1 358.6h12M91.1 370h12M444 381.4h12M466.8 427h12M56.9 438.3h12M489.6 449.7h12M512.3 461.1h12"/><path stroke="#181818" d="M34.2 301.7h12M489.6 301.7h12M79.7 324.5h12M91.1 347.3h12M432.6 358.6h12M91.1 381.4h12M79.7 404.2h12M455.4 404.2h12M68.3 427h12M466.8 438.3h12M45.5 449.7h12M-22.8 461.1h57.5"/><path stroke="#191919" d="M68.3 313.1h12M444 324.5h12M91.1 335.9h12M432.6 347.3h12M432.6 370h12M455.4 415.6h12M478.2 449.7h12M501 461.1h12M535.1 472.5h34.8"/><path stroke="#1a1a1a" d="M546.5 290.3h23.4M45.5 301.7h12M455.4 313.1h12M432.6 335.9h12M102.5 358.6h12M102.5 370h12M91.1 392.8h12M444 392.8h12M79.7 415.6h12M455.4 427h12M34.2 461.1h12M489.6 461.1h12M523.7 472.5h12"/><path stroke="#1b1b1b" d="M-22.8 290.3h34.8M523.7 290.3h23.4M478.2 301.7h12M102.5 347.3h12M102.5 381.4h12M68.3 438.3h12M56.9 449.7h12M466.8 449.7h12M-22.8 472.5h23.4M512.3 472.5h12"/><path stroke="#1c1c1c" d="M11.4 290.3h12M91.1 324.5h12M421.3 358.6h12M432.6 381.4h12M91.1 404.2h12M444 404.2h12M79.7 427h12M455.4 438.3h12M45.5 461.1h12M478.2 461.1h12M0 472.5h23.4M501 472.5h12M546.5 483.9h23.4"/><path stroke="#1d1d1d" d="M512.3 290.3h12M56.9 301.7h12M79.7 313.1h12M102.5 335.9h12M421.3 347.3h12M113.9 358.6h12M102.5 392.8h12M22.8 472.5h12M523.7 483.9h23.4"/><path stroke="#1e1e1e" d="M22.8 290.3h12M501 290.3h12M466.8 301.7h12M432.6 324.5h12M113.9 347.3h12M113.9 370h12M421.3 370h12M444 415.6h12M68.3 449.7h12M455.4 449.7h12M34.2 472.5h12M489.6 472.5h12M512.3 483.9h12"/><path stroke="#1f1f1f" d="M34.2 290.3h12M444 313.1h12M113.9 381.4h12M432.6 392.8h12M91.1 415.6h12M79.7 438.3h12M56.9 461.1h12M466.8 461.1h12M-22.8 483.9h34.8M535.1 495.3h34.8"/><path stroke="#202020" d="M68.3 301.7h12M102.5 324.5h12M113.9 335.9h12M421.3 335.9h12M102.5 404.2h12M444 427h12M45.5 472.5h12M11.4 483.9h12M501 483.9h12M523.7 495.3h12"/><path stroke="#212121" d="M-22.8 278.9h34.8M535.1 278.9h34.8M489.6 290.3h12M421.3 381.4h12M91.1 427h12M444 438.3h12M478.2 472.5h12M22.8 483.9h12M512.3 495.3h12"/><path stroke="#222222" d="M45.5 290.3h12M91.1 313.1h12M409.9 347.3h12M125.2 358.6h12M409.9 358.6h12M113.9 392.8h12M432.6 404.2h12M79.7 449.7h12M68.3 461.1h12M455.4 461.1h12M34.2 483.9h12M489.6 483.9h12M-22.8 495.3h34.8M535.1 506.7h34.8"/><path stroke="#232323" d="M11.4 278.9h12M523.7 278.9h12M455.4 301.7h12M125.2 347.3h12M125.2 370h12M91.1 438.3h12M444 449.7h12M56.9 472.5h12M11.4 495.3h12M501 495.3h12M523.7 506.7h12"/><path stroke="#242424" d="M512.3 278.9h12M478.2 290.3h12M432.6 313.1h12M409.9 370h12M102.5 415.6h12M466.8 472.5h12M-22.8 506.7h23.4M512.3 506.7h12M535.1 518h34.8"/><path stroke="#252525" d="M22.8 278.9h12M56.9 290.3h12M79.7 301.7h12M113.9 324.5h12M421.3 324.5h12M125.2 381.4h12M421.3 392.8h12M113.9 404.2h12M432.6 415.6h12M45.5 483.9h12M478.2 483.9h12M22.8 495.3h12M489.6 495.3h12M0 506.7h12M501 506.7h12M523.7 518h12"/><path stroke="#262626" d="M102.5 313.1h12M125.2 335.9h12M409.9 335.9h12M91.1 449.7h12M79.7 461.1h12M34.2 495.3h12M11.4 506.7h12M-22.8 518h23.4M512.3 518h12M535.1 529.4h34.8"/><path stroke="#272727" d="M-22.8 267.6h34.8M546.5 267.6h23.4M34.2 278.9h12M501 278.9h12M409.9 381.4h12M102.5 427h12M432.6 427h12M444 461.1h12M68.3 472.5h12M455.4 472.5h12M56.9 483.9h12M0 518h12M501 518h12M523.7 529.4h12M546.5 540.8h23.4"/><path stroke="#282828" d="M535.1 267.6h12M466.8 290.3h12M444 301.7h12M125.2 392.8h12M466.8 483.9h12M45.5 495.3h12M478.2 495.3h12M22.8 506.7h12M489.6 506.7h12M-22.8 529.4h23.4M512.3 529.4h12M523.7 540.8h23.4"/><path stroke="#292929" d="M11.4 267.6h12M68.3 290.3h12M91.1 301.7h12M113.9 415.6h12M102.5 438.3h12M432.6 438.3h12M11.4 518h12M0 529.4h12M501 529.4h12M512.3 540.8h12M535.1 552.2h34.8"/><path stroke="#2a2a2a" d="M523.7 267.6h12M45.5 278.9h12M489.6 278.9h12M421.3 404.2h12M79.7 472.5h12M34.2 506.7h12M478.2 506.7h12M489.6 518h12M-22.8 540.8h23.4M523.7 552.2h12M535.1 563.6h34.8M546.5 575h23.4"/><path stroke="#2b2b2b" d="M113.9 313.1h12M125.2 324.5h12M136.6 347.3h12M398.5 347.3h12M136.6 358.6h12M398.5 358.6h12M125.2 404.2h12M432.6 449.7h12M91.1 461.1h12M68.3 483.9h12M56.9 495.3h12M466.8 495.3h12M45.5 506.7h12M22.8 518h12M11.4 529.4h12M0 540.8h12M501 540.8h12M-22.8 552.2h23.4M512.3 552.2h12M523.7 563.6h12M535.1 575h12M546.5 586.3h23.4"/><path stroke="#2c2c2c" d="M22.8 267.6h12M512.3 267.6h12M421.3 313.1h12M409.9 324.5h12M444 472.5h12M455.4 483.9h12M34.2 518h12M22.8 529.4h12M489.6 529.4h12M11.4 540.8h12M0 552.2h12M501 552.2h12M-22.8 563.6h23.4M512.3 563.6h12M523.7 575h12M535.1 586.3h12"/><path stroke="#2d2d2d" d="M-22.8 256.2h23.4M546.5 256.2h23.4M79.7 290.3h12M455.4 290.3h12M136.6 370h12M398.5 370h12M409.9 392.8h12M113.9 427h12M102.5 449.7h12M478.2 518h12M34.2 529.4h12M22.8 540.8h12M11.4 552.2h23.4M0 563.6h23.4M501 563.6h12M-22.8 575h34.8M512.3 575h12M512.3 586.3h23.4M535.1 597.7h34.8"/><path stroke="#2e2e2e" d="M0 256.2h12M535.1 256.2h12M56.9 278.9h12M478.2 278.9h12M102.5 301.7h12M432.6 301.7h12M136.6 335.9h12M136.6 381.4h12M421.3 415.6h12M68.3 495.3h12M56.9 506.7h12M466.8 506.7h12M45.5 518h12M34.2 540.8h12M489.6 540.8h12M22.8 563.6h12M11.4 575h12M501 575h12M-22.8 586.3h34.8M523.7 597.7h12M535.1 609.1h34.8M535.1 620.5h34.8M535.1 631.9h34.8M535.1 643.3h34.8"/><path stroke="#2f2f2f" d="M34.2 267.6h12M501 267.6h12M398.5 335.9h12M432.6 461.1h12M91.1 472.5h12M79.7 483.9h12M455.4 495.3h12M56.9 518h12M45.5 529.4h12M478.2 529.4h12M45.5 540.8h12M34.2 552.2h12M489.6 552.2h12M34.2 563.6h12M489.6 563.6h12M22.8 575h12M11.4 586.3h12M501 586.3h12M-22.8 597.7h23.4M512.3 597.7h12M523.7 609.1h12M523.7 620.5h12M523.7 631.9h12M523.7 643.3h12"/><path stroke="#303030" d="M11.4 256.2h12M523.7 256.2h12M398.5 381.4h12M136.6 392.8h12M125.2 415.6h12M444 483.9h12M68.3 506.7h12M466.8 518h12M478.2 540.8h12M45.5 552.2h12M34.2 575h12M489.6 575h12M22.8 586.3h12M489.6 586.3h12M0 597.7h23.4M501 597.7h12M-22.8 609.1h23.4M512.3 609.1h12M-22.8 620.5h23.4M512.3 620.5h12M-22.8 631.9h23.4M512.3 631.9h12M-22.8 643.3h23.4M512.3 643.3h12"/><path stroke="#313131" d="M421.3 427h12M102.5 461.1h12M455.4 506.7h12M56.9 529.4h12M466.8 529.4h12M56.9 540.8h12M45.5 563.6h12M34.2 586.3h12M22.8 597.7h12M489.6 597.7h12M0 609.1h23.4M489.6 609.1h23.4M0 620.5h12M489.6 620.5h23.4M0 631.9h12M489.6 631.9h23.4M0 643.3h12M489.6 643.3h23.4"/><path stroke="#323232" d="M45.5 267.6h12M489.6 267.6h12M68.3 278.9h12M466.8 278.9h12M91.1 290.3h12M125.2 313.1h12M113.9 438.3h12M79.7 495.3h12M68.3 518h12M56.9 552.2h12M478.2 552.2h12M478.2 563.6h12M45.5 575h12M478.2 575h12M478.2 586.3h12M34.2 597.7h12M478.2 597.7h12M22.8 609.1h12M478.2 609.1h12M11.4 620.5h23.4M478.2 620.5h12M11.4 631.9h23.4M478.2 631.9h12M11.4 643.3h23.4M478.2 643.3h12"/><path stroke="#333333" d="M-22.8 244.8h23.4M546.5 244.8h23.4M22.8 256.2h12M512.3 256.2h12M444 290.3h12M113.9 301.7h12M136.6 324.5h12M136.6 404.2h12M409.9 404.2h12M432.6 472.5h12M91.1 483.9h12M444 495.3h12M455.4 518h12M68.3 529.4h12M466.8 540.8h12M56.9 563.6h12M56.9 575h12M45.5 586.3h12M34.2 609.1h12"/><path stroke="#343434" d="M0 244.8h12M535.1 244.8h12M421.3 301.7h12M409.9 313.1h12M421.3 438.3h12M79.7 506.7h12M455.4 529.4h12M68.3 540.8h12M68.3 552.2h12M466.8 552.2h12M466.8 575h12M466.8 586.3h12M45.5 597.7h12M466.8 597.7h12M466.8 609.1h12M34.2 620.5h12M466.8 620.5h12M34.2 631.9h12M466.8 631.9h12M34.2 643.3h12M466.8 643.3h12"/><path stroke="#353535" d="M56.9 267.6h12M398.5 324.5h12M125.2 427h12M102.5 472.5h12M444 506.7h12M79.7 518h12M68.3 563.6h12M466.8 563.6h12M56.9 586.3h12M45.5 609.1h12M45.5 620.5h12M45.5 631.9h12M45.5 643.3h12"/><path stroke="#363636" d="M11.4 244.8h12M523.7 244.8h12M34.2 256.2h12M501 256.2h12M478.2 267.6h12M79.7 278.9h12M387.1 347.3h12M387.1 358.6h12M398.5 392.8h12M113.9 449.7h12M421.3 449.7h12M432.6 483.9h12M91.1 495.3h12M444 518h12M79.7 529.4h12M455.4 540.8h12M68.3 575h12M56.9 597.7h12M455.4 597.7h12M455.4 609.1h12M455.4 620.5h12M455.4 631.9h12M455.4 643.3h12"/><path stroke="#373737" d="M455.4 278.9h12M102.5 290.3h12M148 347.3h12M148 358.6h12M136.6 415.6h12M79.7 540.8h12M455.4 552.2h12M455.4 563.6h12M455.4 575h12M68.3 586.3h12M455.4 586.3h12M56.9 609.1h12M56.9 620.5h12M56.9 631.9h12M56.9 643.3h12"/><path stroke="#383838" d="M45.5 256.2h12M432.6 290.3h12M148 370h12M387.1 370h12M102.5 483.9h12M432.6 495.3h12M91.1 506.7h12M444 529.4h12M79.7 552.2h12M79.7 563.6h12M68.3 597.7h12"/><path stroke="#393939" d="M-22.8 233.4h23.4M546.5 233.4h23.4M22.8 244.8h12M512.3 244.8h12M489.6 256.2h12M68.3 267.6h12M466.8 267.6h12M125.2 301.7h12M148 335.9h12M387.1 335.9h12M409.9 415.6h12M113.9 461.1h12M421.3 461.1h12M432.6 506.7h12M91.1 518h12M444 540.8h12M444 552.2h12M444 563.6h12M79.7 575h12M444 575h12M79.7 586.3h12M444 586.3h12M444 597.7h12M68.3 609.1h12M444 609.1h12M68.3 620.5h12M444 620.5h12M68.3 631.9h12M444 631.9h12M68.3 643.3h12M444 643.3h12"/><path stroke="#3a3a3a" d="M0 233.4h12M535.1 233.4h12M91.1 278.9h12M136.6 313.1h12M102.5 495.3h12M432.6 518h12M91.1 529.4h12M79.7 597.7h12M79.7 609.1h12M79.7 620.5h12M79.7 631.9h12M79.7 643.3h12"/><path stroke="#3b3b3b" d="M113.9 290.3h12M148 381.4h12M125.2 438.3h12M421.3 472.5h12M432.6 529.4h12M91.1 540.8h12M91.1 552.2h12"/><path stroke="#3c3c3c" d="M11.4 233.4h12M523.7 233.4h12M34.2 244.8h12M501 244.8h12M56.9 256.2h12M478.2 256.2h12M79.7 267.6h12M444 278.9h12M409.9 301.7h12M398.5 313.1h12M387.1 381.4h12M148 392.8h12M398.5 404.2h12M409.9 427h12M113.9 472.5h12M102.5 506.7h12M432.6 540.8h12M432.6 552.2h12M91.1 563.6h12M432.6 563.6h12M91.1 575h12M432.6 575h12M91.1 586.3h12M432.6 586.3h12M91.1 597.7h12M432.6 597.7h12M91.1 609.1h12M432.6 609.1h12M91.1 620.5h12M432.6 620.5h12M91.1 631.9h12M432.6 631.9h12M91.1 643.3h12M432.6 643.3h12"/><path stroke="#3d3d3d" d="M455.4 267.6h12M421.3 290.3h12M148 324.5h12M387.1 324.5h12M148 404.2h12M136.6 427h12M421.3 483.9h12M102.5 518h12M102.5 529.4h12"/><path stroke="#3e3e3e" d="M22.8 233.4h12M512.3 233.4h12M45.5 244.8h12M489.6 244.8h12M113.9 483.9h12M421.3 495.3h12M102.5 540.8h12"/><path stroke="#3f3f3f" d="M-22.8 222h23.4M546.5 222h23.4M68.3 256.2h12M466.8 256.2h12M102.5 278.9h12M409.9 438.3h12M421.3 506.7h12M421.3 518h12M421.3 529.4h12M421.3 540.8h12M102.5 552.2h12M421.3 552.2h12M102.5 563.6h12M421.3 563.6h12M102.5 575h12M421.3 575h12M102.5 586.3h12M421.3 586.3h12M102.5 597.7h12M421.3 597.7h12M102.5 609.1h12M421.3 609.1h12M102.5 620.5h12M421.3 620.5h12M102.5 631.9h12M421.3 631.9h12M102.5 643.3h12M421.3 643.3h12"/><path stroke="#404040" d="M0 222h12M535.1 222h12M34.2 233.4h12M501 233.4h12M91.1 267.6h12M375.7 358.6h12M387.1 392.8h12M148 415.6h12M125.2 449.7h12M113.9 495.3h12M113.9 506.7h12"/><path stroke="#414141" d="M11.4 222h12M56.9 244.8h12M478.2 244.8h12M79.7 256.2h12M432.6 278.9h12M125.2 290.3h12M375.7 335.9h12M159.4 347.3h12M375.7 347.3h12M159.4 358.6h12M398.5 415.6h12M113.9 518h12"/><path stroke="#424242" d="M523.7 222h12M45.5 233.4h12M489.6 233.4h12M455.4 256.2h12M444 267.6h12M113.9 278.9h12M136.6 301.7h12M159.4 335.9h12M375.7 370h12M409.9 449.7h12M113.9 529.4h12M113.9 540.8h12M113.9 597.7h12M113.9 609.1h12M113.9 620.5h12M113.9 631.9h12M113.9 643.3h12"/><path stroke="#434343" d="M22.8 222h12M512.3 222h12M68.3 244.8h12M466.8 244.8h12M159.4 370h12M125.2 461.1h12M409.9 540.8h12M113.9 552.2h12M409.9 552.2h12M113.9 563.6h12M409.9 563.6h12M113.9 575h12M409.9 575h12M113.9 586.3h12M409.9 586.3h12M409.9 597.7h12M409.9 609.1h12M409.9 620.5h12M409.9 631.9h12M409.9 643.3h12"/><path stroke="#444444" d="M34.2 222h12M56.9 233.4h12M478.2 233.4h12M91.1 256.2h12M102.5 267.6h12M409.9 290.3h12M398.5 301.7h12M148 313.1h12M387.1 313.1h12M387.1 404.2h12M136.6 438.3h12M409.9 461.1h12M409.9 518h12M409.9 529.4h12"/><path stroke="#454545" d="M-22.8 210.6h34.8M535.1 210.6h34.8M501 222h12M455.4 244.8h12M444 256.2h12M159.4 324.5h12M375.7 324.5h12M125.2 472.5h12M409.9 472.5h12M409.9 483.9h12M409.9 495.3h12M409.9 506.7h12M125.2 609.1h12M125.2 620.5h12M125.2 631.9h12M125.2 643.3h12"/><path stroke="#464646" d="M523.7 210.6h12M45.5 222h12M489.6 222h12M466.8 233.4h12M79.7 244.8h12M421.3 278.9h12M170.8 347.3h12M170.8 358.6h12M364.3 358.6h12M398.5 427h12M125.2 483.9h12M125.2 495.3h12M125.2 518h12M125.2 597.7h12"/><path stroke="#474747" d="M11.4 210.6h12M56.9 222h12M68.3 233.4h12M432.6 267.6h12M170.8 335.9h12M364.3 335.9h12M364.3 347.3h12M159.4 381.4h12M148 427h12M125.2 506.7h12M125.2 529.4h12M125.2 540.8h12M125.2 552.2h12M398.5 552.2h12M398.5 563.6h12M398.5 575h12M125.2 586.3h12M398.5 586.3h12M398.5 597.7h12M398.5 609.1h12M398.5 620.5h12M398.5 631.9h12M398.5 643.3h12"/><path stroke="#484848" d="M22.8 210.6h12M512.3 210.6h12M478.2 222h12M455.4 233.4h12M91.1 244.8h12M444 244.8h12M102.5 256.2h12M113.9 267.6h12M125.2 278.9h12M170.8 370h12M375.7 381.4h12M159.4 392.8h12M398.5 540.8h12M125.2 563.6h12M125.2 575h12"/><path stroke="#494949" d="M535.1 199.2h34.8M34.2 210.6h12M501 210.6h12M136.6 290.3h12M364.3 324.5h12M182.2 358.6h12M364.3 370h12M159.4 404.2h12M387.1 415.6h12M398.5 529.4h12"/><path stroke="#4a4a4a" d="M-22.8 199.2h34.8M45.5 210.6h12M489.6 210.6h12M68.3 222h12M466.8 222h12M79.7 233.4h12M432.6 256.2h12M182.2 347.3h12M398.5 438.3h12M136.6 449.7h12M398.5 518h12M136.6 609.1h12M136.6 620.5h12M136.6 631.9h12M136.6 643.3h12"/><path stroke="#4b4b4b" d="M523.7 199.2h12M56.9 210.6h12M478.2 210.6h12M444 233.4h12M409.9 278.9h12M398.5 290.3h12M148 301.7h12M170.8 324.5h12M182.2 335.9h12M182.2 370h12M375.7 392.8h12M387.1 586.3h12M136.6 597.7h12M387.1 597.7h12M387.1 609.1h12"/><path stroke="#4c4c4c" d="M11.4 199.2h12M512.3 199.2h12M455.4 222h12M102.5 244.8h12M113.9 256.2h12M421.3 267.6h12M387.1 301.7h12M375.7 313.1h12M352.9 335.9h12M352.9 347.3h12M352.9 358.6h12M159.4 415.6h12M398.5 506.7h12M387.1 563.6h12M387.1 575h12M387.1 620.5h12M387.1 631.9h12M387.1 643.3h12"/><path stroke="#4d4d4d" d="M535.1 187.9h34.8M22.8 199.2h12M501 199.2h12M91.1 233.4h12M432.6 244.8h12M159.4 313.1h12M352.9 324.5h12M398.5 449.7h12M136.6 461.1h12M136.6 540.8h12M136.6 552.2h12M387.1 552.2h12M136.6 563.6h12M136.6 575h12M136.6 586.3h12"/><path stroke="#4e4e4e" d="M-22.8 187.9h23.4M34.2 199.2h12M68.3 210.6h12M466.8 210.6h12M79.7 222h12M125.2 267.6h12M352.9 370h12M136.6 472.5h12M398.5 495.3h12M136.6 518h12M136.6 529.4h12M387.1 540.8h12M148 620.5h12M148 631.9h12M148 643.3h12"/><path stroke="#4f4f4f" d="M0 187.9h12M523.7 187.9h12M45.5 199.2h12M489.6 199.2h12M170.8 381.4h12M375.7 404.2h12M387.1 427h12M148 438.3h12M398.5 461.1h12M398.5 472.5h12M136.6 483.9h12M398.5 483.9h12M136.6 495.3h12M136.6 506.7h12M387.1 529.4h12M148 609.1h12"/><path stroke="#505050" d="M512.3 187.9h12M444 222h12M432.6 233.4h12M421.3 256.2h12M136.6 278.9h12M182.2 324.5h12M364.3 381.4h12"/><path stroke="#515151" d="M546.5 176.5h23.4M11.4 187.9h12M56.9 199.2h12M478.2 199.2h12M455.4 210.6h12M102.5 233.4h12M113.9 244.8h12M364.3 313.1h12M193.6 347.3h12M193.6 358.6h12M387.1 518h12M375.7 575h12M375.7 586.3h12M148 597.7h12M375.7 597.7h12M375.7 609.1h12M375.7 620.5h12M375.7 631.9h12M375.7 643.3h12"/><path stroke="#525252" d="M535.1 176.5h12M22.8 187.9h12M501 187.9h12M409.9 267.6h12M375.7 563.6h12"/><path stroke="#535353" d="M466.8 199.2h12M79.7 210.6h12M91.1 222h12M125.2 256.2h12M398.5 278.9h12M148 290.3h12M341.6 335.9h12M341.6 347.3h12M182.2 381.4h12M375.7 415.6h12M375.7 552.2h12M148 586.3h12"/><path stroke="#545454" d="M-22.8 176.5h23.4M523.7 176.5h12M34.2 187.9h12M489.6 187.9h12M444 210.6h12M432.6 222h12M421.3 244.8h12M387.1 290.3h12M193.6 335.9h12M193.6 370h12M170.8 392.8h12M387.1 438.3h12M387.1 506.7h12M148 575h12M159.4 609.1h12M159.4 620.5h12M159.4 631.9h12M159.4 643.3h12"/><path stroke="#555555" d="M0 176.5h12M68.3 199.2h12M375.7 301.7h12M170.8 313.1h12M341.6 358.6h12M159.4 427h12M148 449.7h12M148 540.8h12M375.7 540.8h12M148 552.2h12M148 563.6h12"/><path stroke="#565656" d="M512.3 176.5h12M45.5 187.9h12M455.4 199.2h12M113.9 233.4h12M159.4 301.7h12M341.6 324.5h12"/><path stroke="#575757" d="M11.4 176.5h12M478.2 187.9h12M102.5 222h12M421.3 233.4h12M125.2 244.8h12M136.6 267.6h12M352.9 313.1h12M364.3 392.8h12M387.1 495.3h12M148 529.4h12M375.7 529.4h12M159.4 597.7h12"/><path stroke="#585858" d="M546.5 165.1h23.4M22.8 176.5h12M501 176.5h12M56.9 187.9h12M409.9 256.2h12M352.9 381.4h12M387.1 449.7h12M148 461.1h12M148 518h12M364.3 575h12M364.3 586.3h12M364.3 597.7h12M364.3 609.1h12M364.3 620.5h12M364.3 631.9h12M364.3 643.3h12"/><path stroke="#595959" d="M535.1 165.1h12M466.8 187.9h12M79.7 199.2h12M91.1 210.6h12M432.6 210.6h12M170.8 404.2h12M387.1 483.9h12M148 506.7h12M375.7 518h12M364.3 563.6h12"/><path stroke="#5a5a5a" d="M34.2 176.5h12M489.6 176.5h12M444 199.2h12M421.3 222h12M398.5 267.6h12M341.6 370h12M375.7 427h12M387.1 461.1h12M148 472.5h12M387.1 472.5h12M148 483.9h12M148 495.3h12M170.8 620.5h12M170.8 631.9h12M170.8 643.3h12"/><path stroke="#5b5b5b" d="M-22.8 165.1h23.4M523.7 165.1h12M148 278.9h12M193.6 324.5h12M193.6 381.4h12M364.3 552.2h12M159.4 586.3h12M170.8 609.1h12"/><path stroke="#5c5c5c" d="M0 165.1h12M45.5 176.5h12M68.3 187.9h12M409.9 244.8h12M136.6 256.2h12M387.1 278.9h12M182.2 313.1h12M204.9 347.3h12M204.9 358.6h12M159.4 563.6h12M159.4 575h12"/><path stroke="#5d5d5d" d="M11.4 165.1h12M512.3 165.1h12M478.2 176.5h12M455.4 187.9h12M113.9 222h12M125.2 233.4h12M364.3 301.7h12M182.2 392.8h12M364.3 404.2h12M159.4 438.3h12M375.7 506.7h12M364.3 540.8h12M159.4 552.2h12"/><path stroke="#5e5e5e" d="M501 165.1h12M91.1 199.2h12M432.6 199.2h12M102.5 210.6h12M421.3 210.6h12M375.7 290.3h12M341.6 313.1h12M330.2 335.9h12M330.2 347.3h12M159.4 540.8h12M170.8 597.7h12"/><path stroke="#5f5f5f" d="M546.5 153.7h23.4M22.8 165.1h12M56.9 176.5h12M79.7 187.9h12M409.9 233.4h12M159.4 290.3h12M204.9 370h12M352.9 597.7h12M352.9 609.1h12M352.9 620.5h12M352.9 631.9h12M352.9 643.3h12"/><path stroke="#606060" d="M535.1 153.7h12M34.2 165.1h12M489.6 165.1h12M466.8 176.5h12M444 187.9h12M204.9 335.9h12M170.8 415.6h12M375.7 438.3h12M159.4 529.4h12M364.3 529.4h12M352.9 586.3h12M182.2 620.5h12M182.2 631.9h12M182.2 643.3h12"/><path stroke="#616161" d="M136.6 244.8h12M398.5 256.2h12M170.8 301.7h12M330.2 324.5h12M330.2 358.6h12M352.9 575h12M182.2 609.1h12"/><path stroke="#626262" d="M-22.8 153.7h23.4M523.7 153.7h12M45.5 165.1h12M68.3 176.5h12M409.9 222h12M148 267.6h12M375.7 495.3h12M352.9 563.6h12M170.8 586.3h12"/><path stroke="#636363" d="M0 153.7h12M478.2 165.1h12M455.4 176.5h12M421.3 199.2h12M113.9 210.6h12M364.3 415.6h12M159.4 449.7h12M159.4 518h12M364.3 518h12M170.8 575h12"/><path stroke="#646464" d="M11.4 153.7h12M512.3 153.7h12M91.1 187.9h12M432.6 187.9h12M102.5 199.2h12M125.2 222h12M387.1 267.6h12M341.6 381.4h12M352.9 392.8h12M375.7 449.7h12M352.9 552.2h12M170.8 563.6h12M182.2 597.7h12"/><path stroke="#656565" d="M546.5 142.3h23.4M22.8 153.7h12M501 153.7h12M56.9 165.1h12M466.8 165.1h12M79.7 176.5h12M409.9 210.6h12M398.5 244.8h12M375.7 483.9h12M159.4 506.7h12M170.8 552.2h12"/><path stroke="#666666" d="M535.1 142.3h12M34.2 153.7h12M444 176.5h12M352.9 301.7h12M193.6 313.1h12M193.6 392.8h12M159.4 461.1h12M375.7 461.1h12M375.7 472.5h12M159.4 495.3h12M352.9 540.8h12M341.6 609.1h12M193.6 620.5h12M341.6 620.5h12M193.6 631.9h12M341.6 631.9h12M193.6 643.3h12M341.6 643.3h12"/><path stroke="#676767" d="M45.5 153.7h12M489.6 153.7h12M68.3 165.1h12M136.6 233.4h12M204.9 324.5h12M204.9 381.4h12M159.4 472.5h12M159.4 483.9h12M170.8 540.8h12M341.6 597.7h12M193.6 609.1h12"/><path stroke="#686868" d="M-22.8 142.3h23.4M523.7 142.3h12M478.2 153.7h12M455.4 165.1h12M421.3 187.9h12M398.5 233.4h12M159.4 278.9h12M375.7 278.9h12M330.2 313.1h12M330.2 370h12M364.3 506.7h12M182.2 586.3h12M341.6 586.3h12"/><path stroke="#696969" d="M546.5 130.9h23.4M0 142.3h23.4M56.9 153.7h12M91.1 176.5h12M102.5 187.9h12M113.9 199.2h12M409.9 199.2h12M125.2 210.6h12M148 256.2h12M341.6 575h12"/><path stroke="#6a6a6a" d="M535.1 130.9h12M22.8 142.3h12M512.3 142.3h12M466.8 153.7h12M79.7 165.1h12M432.6 176.5h12M398.5 222h12M216.3 347.3h12M216.3 358.6h12M352.9 529.4h12M341.6 563.6h12M182.2 575h12M193.6 597.7h12M204.9 620.5h12M204.9 631.9h12M204.9 643.3h12"/><path stroke="#6b6b6b" d="M-22.8 130.9h23.4M34.2 142.3h23.4M489.6 142.3h23.4M68.3 153.7h12M444 165.1h12M387.1 256.2h12M364.3 290.3h12M318.8 335.9h12M318.8 347.3h12M182.2 404.2h12M170.8 427h12M364.3 427h12M170.8 529.4h12M204.9 609.1h12M330.2 609.1h12M330.2 620.5h12M330.2 631.9h12M330.2 643.3h12"/><path stroke="#6c6c6c" d="M546.5 119.5h23.4M0 130.9h12M523.7 130.9h12M455.4 153.7h12M398.5 210.6h12M182.2 301.7h12M341.6 301.7h12M341.6 552.2h12M182.2 563.6h12M330.2 597.7h12"/><path stroke="#6d6d6d" d="M-22.8 119.5h23.4M535.1 119.5h12M11.4 130.9h23.4M512.3 130.9h12M56.9 142.3h12M478.2 142.3h12M79.7 153.7h12M91.1 165.1h12M102.5 176.5h12M409.9 187.9h12M136.6 222h12M170.8 290.3h12M364.3 495.3h12M182.2 552.2h12M216.3 620.5h12M216.3 631.9h12M216.3 643.3h12"/><path stroke="#6e6e6e" d="M0 119.5h12M523.7 119.5h12M34.2 130.9h23.4M501 130.9h12M68.3 142.3h12M466.8 142.3h12M421.3 176.5h12M113.9 187.9h12M148 244.8h12M318.8 324.5h12M216.3 335.9h12M216.3 370h12M170.8 518h12M193.6 586.3h12M330.2 586.3h12M204.9 597.7h12M216.3 609.1h12M318.8 609.1h12M318.8 620.5h12M318.8 631.9h12M318.8 643.3h12"/><path stroke="#6f6f6f" d="M11.4 119.5h23.4M512.3 119.5h12M489.6 130.9h12M432.6 165.1h12M125.2 199.2h12M318.8 358.6h12M352.9 404.2h12M352.9 518h12M330.2 575h12M318.8 597.7h12M227.7 620.5h12M307.4 620.5h12M227.7 631.9h12M307.4 631.9h12M227.7 643.3h12M307.4 643.3h12"/><path stroke="#707070" d="M-22.8 108.2h23.4M546.5 108.2h23.4M34.2 119.5h12M501 119.5h12M56.9 130.9h12M478.2 130.9h12M79.7 142.3h12M455.4 142.3h12M91.1 153.7h12M444 153.7h12M398.5 199.2h12M387.1 244.8h12M364.3 438.3h12M182.2 540.8h12M341.6 540.8h12M193.6 575h12M227.7 609.1h12M307.4 609.1h12"/><path stroke="#717171" d="M0 108.2h12M535.1 108.2h12M45.5 119.5h12M489.6 119.5h12M68.3 130.9h12M466.8 130.9h12M102.5 165.1h12M159.4 267.6h12M341.6 392.8h12M170.8 438.3h12M364.3 483.9h12M170.8 506.7h12M330.2 563.6h12M318.8 586.3h12M216.3 597.7h12M239.1 609.1h12M296 609.1h12M239.1 620.5h12M296 620.5h12M239.1 631.9h12M296 631.9h12M239.1 643.3h12M296 643.3h12"/><path stroke="#727272" d="M11.4 108.2h23.4M512.3 108.2h23.4M113.9 176.5h12M409.9 176.5h12M136.6 210.6h12M387.1 233.4h12M375.7 267.6h12M330.2 301.7h12M204.9 313.1h12M330.2 381.4h12M204.9 392.8h12M193.6 563.6h12M204.9 586.3h12M307.4 597.7h12M250.5 620.5h12M284.6 620.5h12M250.5 631.9h12M284.6 631.9h12M250.5 643.3h12M284.6 643.3h12"/><path stroke="#737373" d="M34.2 108.2h12M501 108.2h12M56.9 119.5h12M478.2 119.5h12M91.1 142.3h12M444 142.3h12M432.6 153.7h12M421.3 165.1h12M364.3 449.7h12M364.3 472.5h12M170.8 495.3h12M227.7 597.7h12M296 597.7h12M250.5 609.1h46.1M261.9 620.5h23.4M261.9 631.9h23.4M261.9 643.3h23.4"/><path stroke="#747474" d="M-22.8 96.8h23.4M68.3 119.5h12M466.8 119.5h12M79.7 130.9h12M455.4 130.9h12M102.5 153.7h12M125.2 187.9h12M398.5 187.9h12M387.1 222h12M148 233.4h12M364.3 461.1h12M352.9 506.7h12M182.2 529.4h12M341.6 529.4h12M330.2 552.2h12M318.8 575h12M307.4 586.3h12M239.1 597.7h12"/><path stroke="#757575" d="M-22.8 51.2h23.4M-22.8 62.6h23.4M0 96.8h12M546.5 96.8h23.4M45.5 108.2h12M489.6 108.2h12M113.9 165.1h12M387.1 210.6h12M318.8 313.1h12M216.3 324.5h12M170.8 449.7h12M170.8 483.9h12M193.6 552.2h12M204.9 575h12M216.3 586.3h12M284.6 597.7h12"/><path stroke="#767676" d="M0 51.2h12M0 62.6h12M-22.8 74h23.4M11.4 96.8h12M535.1 96.8h12M91.1 130.9h12M193.6 301.7h12M318.8 370h12M216.3 381.4h12M170.8 461.1h12M170.8 472.5h12M296 586.3h12M250.5 597.7h34.8"/><path stroke="#777777" d="M0 74h12M22.8 96.8h12M56.9 108.2h12M478.2 108.2h12M79.7 119.5h12M455.4 119.5h12M444 130.9h12M102.5 142.3h12M432.6 142.3h12M125.2 176.5h12M136.6 199.2h12M318.8 563.6h12M227.7 586.3h12"/><path stroke="#787878" d="M11.4 51.2h12M546.5 51.2h23.4M11.4 62.6h12M546.5 62.6h23.4M546.5 74h23.4M-22.8 85.4h34.8M523.7 96.8h12M466.8 108.2h12M113.9 153.7h12M421.3 153.7h12M409.9 165.1h12M148 222h12M159.4 256.2h12M170.8 278.9h12M352.9 290.3h12M227.7 347.3h12M182.2 518h12M193.6 540.8h12M330.2 540.8h12M204.9 563.6h12M216.3 575h12M307.4 575h12M239.1 586.3h12M284.6 586.3h12"/><path stroke="#797979" d="M535.1 51.2h12M535.1 62.6h12M11.4 74h12M535.1 74h12M11.4 85.4h12M34.2 96.8h12M512.3 96.8h12M68.3 108.2h12M398.5 176.5h12M387.1 199.2h12M375.7 256.2h12M364.3 278.9h12M307.4 335.9h12M307.4 347.3h12M227.7 358.6h12M352.9 495.3h12"/><path stroke="#7a7a7a" d="M22.8 51.2h12M22.8 62.6h12M22.8 74h12M546.5 85.4h23.4M45.5 96.8h12M501 96.8h12M91.1 119.5h12M444 119.5h12M102.5 130.9h12M125.2 165.1h12M136.6 187.9h12M193.6 404.2h12M352.9 415.6h12M341.6 518h12M296 575h12M250.5 586.3h34.8"/><path stroke="#7b7b7b" d="M34.2 51.2h12M523.7 51.2h12M34.2 62.6h12M523.7 62.6h12M523.7 74h12M535.1 85.4h12M489.6 96.8h12M79.7 108.2h12M455.4 108.2h12M432.6 130.9h12M113.9 142.3h12M204.9 552.2h12M318.8 552.2h12M227.7 575h12"/><path stroke="#7c7c7c" d="M34.2 74h12M22.8 85.4h12M523.7 85.4h12M56.9 96.8h12M478.2 96.8h12M421.3 142.3h12M148 210.6h12M182.2 290.3h12M227.7 335.9h12M182.2 415.6h12M182.2 506.7h12M216.3 563.6h12M307.4 563.6h12M284.6 575h12"/><path stroke="#7d7d7d" d="M45.5 51.2h12M512.3 51.2h12M45.5 62.6h12M512.3 62.6h12M45.5 74h12M512.3 74h12M34.2 85.4h12M102.5 119.5h12M125.2 153.7h12M409.9 153.7h12M136.6 176.5h12M387.1 187.9h12M159.4 244.8h12M375.7 244.8h12M307.4 324.5h12M307.4 358.6h12M193.6 529.4h12M330.2 529.4h12M239.1 575h12"/><path stroke="#7e7e7e" d="M489.6 51.2h23.4M489.6 62.6h23.4M501 74h12M45.5 85.4h12M512.3 85.4h12M68.3 96.8h12M466.8 96.8h12M91.1 108.2h12M444 108.2h12M432.6 119.5h12M113.9 130.9h12M398.5 165.1h12M375.7 222h12M375.7 233.4h12M227.7 370h12M330.2 392.8h12M352.9 483.9h12M250.5 575h34.8"/><path stroke="#7f7f7f" d="M56.9 51.2h12M478.2 51.2h12M56.9 62.6h12M478.2 62.6h12M56.9 74h12M478.2 74h23.4M489.6 85.4h23.4M148 199.2h12M375.7 210.6h12M204.9 301.7h12M204.9 540.8h12M318.8 540.8h12M227.7 563.6h12M296 563.6h12"/><path stroke="#808080" d="M56.9 85.4h12M79.7 96.8h12M455.4 96.8h12M421.3 130.9h12M125.2 142.3h12M136.6 165.1h12M341.6 290.3h12M318.8 301.7h12M216.3 313.1h12M341.6 404.2h12M182.2 495.3h12M341.6 506.7h12M216.3 552.2h12M307.4 552.2h12"/><path stroke="#818181" d="M68.3 51.2h12M466.8 51.2h12M68.3 62.6h12M466.8 62.6h12M68.3 74h12M466.8 74h12M478.2 85.4h12M102.5 108.2h12M432.6 108.2h12M113.9 119.5h12M387.1 176.5h12M159.4 233.4h12M330.2 290.3h12M318.8 381.4h12M352.9 427h12M352.9 472.5h12M239.1 563.6h12M284.6 563.6h12"/><path stroke="#828282" d="M68.3 85.4h12M466.8 85.4h12M91.1 96.8h12M444 96.8h12M125.2 130.9h12M409.9 142.3h12M136.6 153.7h12M398.5 153.7h12M148 187.9h12M375.7 199.2h12M170.8 267.6h12M216.3 392.8h12M204.9 404.2h12M182.2 483.9h12M193.6 518h12M250.5 563.6h34.8"/><path stroke="#838383" d="M455.4 51.2h12M455.4 62.6h12M455.4 74h12M79.7 85.4h12M455.4 85.4h12M421.3 119.5h12M148 176.5h12M352.9 461.1h12M330.2 518h12M227.7 552.2h12"/><path stroke="#848484" d="M79.7 51.2h12M79.7 62.6h12M79.7 74h12M113.9 108.2h12M136.6 142.3h12M159.4 222h12M364.3 267.6h12M227.7 324.5h12M352.9 438.3h12M352.9 449.7h12M318.8 529.4h12M296 552.2h12"/><path stroke="#858585" d="M91.1 85.4h12M444 85.4h12M102.5 96.8h12M432.6 96.8h12M125.2 119.5h12M409.9 130.9h12M148 165.1h12M387.1 165.1h12M307.4 313.1h12M239.1 347.3h12M296 347.3h12M307.4 370h12M182.2 472.5h12M341.6 495.3h12M204.9 529.4h12M216.3 540.8h12M307.4 540.8h12"/><path stroke="#868686" d="M91.1 51.2h12M444 51.2h12M91.1 62.6h12M444 62.6h12M91.1 74h12M444 74h12M421.3 108.2h12M398.5 142.3h12M193.6 290.3h12M296 335.9h12M239.1 358.6h12M239.1 552.2h12M284.6 552.2h12"/><path stroke="#878787" d="M113.9 96.8h12M136.6 130.9h12M148 153.7h12M375.7 187.9h12M159.4 210.6h12M227.7 381.4h12M182.2 427h12M182.2 461.1h12M193.6 506.7h12M250.5 552.2h34.8"/><path stroke="#888888" d="M102.5 51.2h12M102.5 62.6h12M102.5 74h12M102.5 85.4h12M432.6 85.4h12M421.3 96.8h12M125.2 108.2h12M409.9 119.5h12M387.1 153.7h12M159.4 199.2h12M170.8 256.2h12M239.1 335.9h12M182.2 449.7h12"/><path stroke="#898989" d="M432.6 51.2h12M432.6 62.6h12M432.6 74h12M113.9 85.4h12M136.6 119.5h12M398.5 130.9h12M148 142.3h12M159.4 176.5h12M159.4 187.9h12M296 358.6h12M182.2 438.3h12M227.7 540.8h12M296 540.8h12"/><path stroke="#8a8a8a" d="M113.9 74h12M421.3 85.4h12M125.2 96.8h12M409.9 108.2h12M387.1 142.3h12M159.4 165.1h12M375.7 176.5h12M330.2 506.7h12M307.4 529.4h12"/><path stroke="#8b8b8b" d="M113.9 51.2h12M421.3 51.2h12M113.9 62.6h12M421.3 62.6h12M421.3 74h12M125.2 85.4h12M136.6 108.2h12M148 130.9h12M159.4 153.7h12M364.3 210.6h12M364.3 222h12M170.8 244.8h12M364.3 256.2h12M182.2 278.9h12M296 324.5h12M341.6 483.9h12M204.9 518h12M318.8 518h12M216.3 529.4h12M239.1 540.8h12M284.6 540.8h12"/><path stroke="#8c8c8c" d="M125.2 74h12M409.9 85.4h12M136.6 96.8h12M409.9 96.8h12M148 119.5h12M398.5 119.5h12M387.1 130.9h12M375.7 165.1h12M364.3 199.2h12M364.3 233.4h12M352.9 278.9h12M239.1 370h12M330.2 404.2h12M193.6 495.3h12"/><path stroke="#8d8d8d" d="M125.2 51.2h12M125.2 62.6h12M136.6 85.4h12M398.5 108.2h12M159.4 142.3h12M375.7 142.3h12M375.7 153.7h12M170.8 233.4h12M364.3 244.8h12M204.9 290.3h12M250.5 540.8h34.8"/><path stroke="#8e8e8e" d="M136.6 51.2h12M409.9 51.2h12M136.6 62.6h12M409.9 62.6h12M136.6 74h12M409.9 74h12M398.5 85.4h12M148 96.8h12M398.5 96.8h12M148 108.2h12M387.1 119.5h12M159.4 130.9h12M375.7 130.9h12M216.3 301.7h12M250.5 347.3h12M284.6 347.3h12M318.8 392.8h12M296 529.4h12"/><path stroke="#8f8f8f" d="M398.5 51.2h12M398.5 62.6h12M398.5 74h12M148 85.4h12M387.1 108.2h12M170.8 165.1h12M170.8 176.5h12M170.8 187.9h12M170.8 222h12M227.7 313.1h12M341.6 472.5h12M227.7 529.4h12"/><path stroke="#909090" d="M148 51.2h12M387.1 51.2h12M148 62.6h12M387.1 62.6h12M148 74h12M387.1 74h12M159.4 85.4h12M387.1 85.4h12M159.4 96.8h12M387.1 96.8h12M159.4 108.2h12M159.4 119.5h12M375.7 119.5h12M170.8 153.7h12M364.3 187.9h12M170.8 199.2h12M170.8 210.6h12M318.8 290.3h12M239.1 324.5h12M284.6 335.9h12M250.5 358.6h12M307.4 381.4h12M193.6 483.9h12"/><path stroke="#919191" d="M159.4 51.2h12M375.7 51.2h12M159.4 62.6h12M375.7 62.6h12M159.4 74h12M375.7 74h12M170.8 85.4h12M375.7 85.4h12M170.8 96.8h12M375.7 96.8h12M375.7 108.2h12M364.3 119.5h12M170.8 130.9h12M364.3 130.9h12M170.8 142.3h12M364.3 142.3h12M364.3 153.7h12M250.5 335.9h12M296 370h12M341.6 415.6h12M330.2 495.3h12M204.9 506.7h12M216.3 518h12M307.4 518h12"/><path stroke="#929292" d="M170.8 51.2h34.8M341.6 51.2h34.8M170.8 62.6h34.8M341.6 62.6h34.8M170.8 74h34.8M341.6 74h34.8M182.2 85.4h12M352.9 85.4h23.4M182.2 96.8h12M364.3 96.8h12M170.8 108.2h12M364.3 108.2h12M170.8 119.5h12M364.3 165.1h12M364.3 176.5h12M307.4 301.7h12M284.6 358.6h12M318.8 506.7h12M239.1 529.4h12M284.6 529.4h12"/><path stroke="#939393" d="M204.9 51.2h137.2M204.9 62.6h137.2M204.9 74h137.2M193.6 85.4h23.4M330.2 85.4h23.4M193.6 96.8h12M352.9 96.8h12M182.2 108.2h12M352.9 108.2h12M352.9 119.5h12M261.9 347.3h23.4M341.6 461.1h12M193.6 472.5h12"/><path stroke="#949494" d="M216.3 85.4h23.4M261.9 85.4h23.4M307.4 85.4h23.4M204.9 96.8h12M341.6 96.8h12M182.2 119.5h12M182.2 130.9h12M352.9 130.9h12M182.2 142.3h12M352.9 142.3h12M182.2 153.7h12M182.2 165.1h12M182.2 176.5h12M216.3 404.2h12M250.5 529.4h12M273.2 529.4h12"/><path stroke="#959595" d="M239.1 85.4h23.4M284.6 85.4h23.4M330.2 96.8h12M193.6 108.2h12M341.6 108.2h12M341.6 119.5h12M182.2 187.9h12M182.2 267.6h12M296 313.1h12M273.2 335.9h12M227.7 392.8h12M261.9 529.4h12"/><path stroke="#969696" d="M216.3 96.8h23.4M307.4 96.8h23.4M204.9 108.2h12M330.2 108.2h12M193.6 119.5h12M341.6 130.9h12M352.9 153.7h12M284.6 324.5h12M261.9 335.9h12M261.9 358.6h23.4M341.6 449.7h12M204.9 495.3h12M227.7 518h12M296 518h12"/><path stroke="#979797" d="M239.1 96.8h68.9M216.3 108.2h12M318.8 108.2h12M330.2 119.5h12M193.6 130.9h12M193.6 142.3h12M352.9 165.1h12M182.2 199.2h12M352.9 199.2h12M352.9 210.6h12M250.5 370h12M239.1 381.4h12M193.6 415.6h12M193.6 461.1h12M330.2 483.9h12"/><path stroke="#989898" d="M204.9 119.5h12M341.6 142.3h12M193.6 153.7h12M193.6 165.1h12M352.9 176.5h12M352.9 187.9h12M182.2 210.6h12M182.2 222h12M182.2 233.4h12M182.2 244.8h12M182.2 256.2h12M341.6 427h12M341.6 438.3h12M216.3 506.7h12"/><path stroke="#999999" d="M227.7 108.2h91.7M216.3 119.5h12M318.8 119.5h12M204.9 130.9h12M330.2 130.9h12M193.6 176.5h12M352.9 222h12M307.4 506.7h12"/><path stroke="#9a9a9a" d="M307.4 119.5h12M341.6 153.7h12M352.9 267.6h12M250.5 324.5h12M284.6 370h12M318.8 495.3h12M239.1 518h12M284.6 518h12"/><path stroke="#9b9b9b" d="M227.7 119.5h12M216.3 130.9h12M318.8 130.9h12M204.9 142.3h12M330.2 142.3h12M193.6 187.9h12M352.9 233.4h12M193.6 449.7h12"/><path stroke="#9c9c9c" d="M239.1 119.5h12M284.6 119.5h23.4M204.9 153.7h12M341.6 165.1h12M193.6 278.9h12M330.2 278.9h12M318.8 404.2h12M204.9 483.9h12"/><path stroke="#9d9d9d" d="M250.5 119.5h34.8M227.7 130.9h12M307.4 130.9h12M216.3 142.3h12M204.9 165.1h12M193.6 199.2h12M341.6 278.9h12M239.1 313.1h12M273.2 324.5h12M261.9 370h12M296 381.4h12M330.2 472.5h12M250.5 518h12M273.2 518h12"/><path stroke="#9e9e9e" d="M296 130.9h12M318.8 142.3h12M330.2 153.7h12M341.6 176.5h12M352.9 244.8h12M216.3 290.3h12M227.7 301.7h12M261.9 324.5h12M273.2 370h12M307.4 392.8h12M330.2 415.6h12M261.9 518h12"/><path stroke="#9f9f9f" d="M239.1 130.9h12M204.9 176.5h12M341.6 187.9h12M193.6 210.6h12M352.9 256.2h12M204.9 415.6h12M216.3 495.3h12M227.7 506.7h12M296 506.7h12"/><path stroke="#a0a0a0" d="M250.5 130.9h12M284.6 130.9h12M227.7 142.3h12M307.4 142.3h12M216.3 153.7h12M193.6 438.3h12"/><path stroke="#a1a1a1" d="M261.9 130.9h23.4M330.2 165.1h12M204.9 187.9h12M341.6 199.2h12M193.6 222h12M193.6 427h12M204.9 472.5h12"/><path stroke="#a2a2a2" d="M239.1 142.3h12M296 142.3h12M318.8 153.7h12M284.6 313.1h12M330.2 461.1h12M318.8 483.9h12M307.4 495.3h12"/><path stroke="#a3a3a3" d="M216.3 165.1h12M341.6 210.6h12M193.6 233.4h12M204.9 278.9h12M250.5 381.4h12M239.1 506.7h12"/><path stroke="#a4a4a4" d="M227.7 153.7h12M330.2 176.5h12M204.9 199.2h12M193.6 244.8h12M296 301.7h12M284.6 506.7h12"/><path stroke="#a5a5a5" d="M250.5 142.3h12M284.6 142.3h12M307.4 153.7h12M307.4 290.3h12M204.9 461.1h12"/><path stroke="#a6a6a6" d="M261.9 142.3h23.4M318.8 165.1h12M216.3 176.5h12M341.6 222h12M284.6 381.4h12M239.1 392.8h12M330.2 449.7h12M216.3 483.9h12M250.5 506.7h12"/><path stroke="#a7a7a7" d="M330.2 187.9h12M193.6 267.6h12M250.5 313.1h12M227.7 404.2h12M227.7 495.3h12M273.2 506.7h12"/><path stroke="#a8a8a8" d="M239.1 153.7h12M296 153.7h12M204.9 210.6h12M193.6 256.2h12M318.8 278.9h12M261.9 506.7h12"/><path stroke="#a9a9a9" d="M227.7 165.1h12M216.3 187.9h12M261.9 381.4h12M330.2 427h12M318.8 472.5h12M296 495.3h12"/><path stroke="#aaaaaa" d="M250.5 153.7h12M318.8 176.5h12M330.2 199.2h12M341.6 233.4h12M273.2 313.1h12M273.2 381.4h12M330.2 438.3h12"/><path stroke="#ababab" d="M284.6 153.7h12M307.4 165.1h12M261.9 313.1h12M296 392.8h12M216.3 415.6h12M204.9 449.7h12M307.4 483.9h12"/><path stroke="#acacac" d="M261.9 153.7h23.4M216.3 199.2h12M204.9 222h12M318.8 415.6h12M216.3 472.5h12M239.1 495.3h12"/><path stroke="#adadad" d="M239.1 165.1h12M227.7 176.5h12M330.2 210.6h12M239.1 301.7h12M307.4 404.2h12"/><path stroke="#aeaeae" d="M318.8 187.9h12M341.6 244.8h12M341.6 267.6h12M227.7 483.9h12M284.6 495.3h12"/><path stroke="#afafaf" d="M296 165.1h12M204.9 233.4h12M318.8 461.1h12"/><path stroke="#b0b0b0" d="M250.5 165.1h12M307.4 176.5h12M227.7 187.9h12M227.7 290.3h12M250.5 495.3h12"/><path stroke="#b1b1b1" d="M284.6 165.1h12M318.8 199.2h12M216.3 210.6h12M341.6 256.2h12M204.9 438.3h12M216.3 461.1h12"/><path stroke="#b2b2b2" d="M261.9 165.1h23.4M239.1 176.5h12M330.2 222h12M216.3 278.9h12M250.5 392.8h12M204.9 427h12M261.9 495.3h23.4"/><path stroke="#b3b3b3" d="M204.9 244.8h12M284.6 301.7h12M307.4 472.5h12M296 483.9h12"/><path stroke="#b4b4b4" d="M296 176.5h12M307.4 187.9h12M227.7 199.2h12"/><path stroke="#b5b5b5" d="M250.5 176.5h12M204.9 267.6h12M284.6 392.8h12M318.8 449.7h12M227.7 472.5h12M239.1 483.9h12"/><path stroke="#b6b6b6" d="M284.6 176.5h12M239.1 187.9h12M318.8 210.6h12"/><path stroke="#b7b7b7" d="M261.9 176.5h12M307.4 199.2h12M216.3 222h12M330.2 267.6h12"/><path stroke="#b8b8b8" d="M273.2 176.5h12M296 187.9h12M330.2 233.4h12M204.9 256.2h12M296 290.3h12M250.5 301.7h12M239.1 404.2h12M318.8 427h12M216.3 449.7h12M284.6 483.9h12"/><path stroke="#b9b9b9" d="M250.5 187.9h12M227.7 210.6h12M261.9 392.8h12M250.5 483.9h12"/><path stroke="#bababa" d="M284.6 187.9h12M239.1 199.2h12M273.2 392.8h12M318.8 438.3h12M307.4 461.1h12"/><path stroke="#bbbbbb" d="M261.9 187.9h23.4M307.4 278.9h12M273.2 301.7h12M296 404.2h12M227.7 461.1h12M296 472.5h12M273.2 483.9h12"/><path stroke="#bcbcbc" d="M296 199.2h12M227.7 415.6h12M307.4 415.6h12M239.1 472.5h12M261.9 483.9h12"/><path stroke="#bdbdbd" d="M307.4 210.6h12M318.8 222h12M330.2 244.8h12M261.9 301.7h12M216.3 427h12"/><path stroke="#bebebe" d="M250.5 199.2h12M216.3 233.4h12"/><path stroke="#bfbfbf" d="M284.6 199.2h12M330.2 256.2h12M216.3 438.3h12"/><path stroke="#c0c0c0" d="M261.9 199.2h23.4M239.1 290.3h12M250.5 472.5h12M284.6 472.5h12"/><path stroke="#c1c1c1" d="M239.1 210.6h12M318.8 267.6h12M307.4 449.7h12"/><path stroke="#c2c2c2" d="M296 210.6h12M227.7 222h12M227.7 449.7h12"/><path stroke="#c3c3c3" d="M250.5 404.2h12M239.1 461.1h12M296 461.1h12M261.9 472.5h23.4"/><path stroke="#c4c4c4" d="M318.8 233.4h12M216.3 267.6h12M227.7 278.9h12"/><path stroke="#c5c5c5" d="M307.4 222h12M216.3 244.8h12M284.6 404.2h12"/><path stroke="#c6c6c6" d="M250.5 210.6h12M284.6 210.6h12M284.6 290.3h12"/><path stroke="#c7c7c7" d="M261.9 210.6h12M307.4 427h12M307.4 438.3h12"/><path stroke="#c8c8c8" d="M273.2 210.6h12M250.5 461.1h12M284.6 461.1h12"/><path stroke="#c9c9c9" d="M216.3 256.2h12M261.9 404.2h12M261.9 461.1h23.4"/><path stroke="#cacaca" d="M318.8 244.8h12M273.2 404.2h12M239.1 415.6h12M296 415.6h12M227.7 427h12M227.7 438.3h12"/><path stroke="#cbcbcb" d="M239.1 222h12M318.8 256.2h12M250.5 290.3h12M239.1 449.7h12M296 449.7h12"/><path stroke="#cccccc" d="M296 222h12M227.7 233.4h12"/><path stroke="#cdcdcd" d="M296 278.9h12"/><path stroke="#cfcfcf" d="M307.4 233.4h12M273.2 290.3h12"/><path stroke="#d0d0d0" d="M307.4 267.6h12M261.9 290.3h12"/><path stroke="#d1d1d1" d="M250.5 222h12M250.5 449.7h46.1"/><path stroke="#d2d2d2" d="M284.6 222h12"/><path stroke="#d3d3d3" d="M239.1 278.9h12M250.5 415.6h12M284.6 415.6h12M296 427h12M296 438.3h12"/><path stroke="#d4d4d4" d="M227.7 267.6h12"/><path stroke="#d5d5d5" d="M261.9 222h23.4M227.7 244.8h12"/><path stroke="#d6d6d6" d="M307.4 244.8h12M239.1 427h12M239.1 438.3h12"/><path stroke="#d7d7d7" d="M239.1 233.4h12M296 233.4h12M273.2 415.6h12"/><path stroke="#d8d8d8" d="M261.9 415.6h12"/><path stroke="#d9d9d9" d="M227.7 256.2h12M307.4 256.2h12"/><path stroke="#dadada" d="M284.6 278.9h12M284.6 438.3h12"/><path stroke="#dbdbdb" d="M284.6 427h12"/><path stroke="#dcdcdc" d="M250.5 438.3h12M273.2 438.3h12"/><path stroke="#dddddd" d="M250.5 427h12M261.9 438.3h12"/><path stroke="#dedede" d="M250.5 233.4h12M284.6 233.4h12M296 267.6h12M250.5 278.9h12"/><path stroke="#dfdfdf" d="M273.2 427h12"/><path stroke="#e0e0e0" d="M261.9 427h12"/><path stroke="#e1e1e1" d="M261.9 233.4h23.4M239.1 244.8h12M296 244.8h12M239.1 267.6h12"/><path stroke="#e2e2e2" d="M273.2 278.9h12"/><path stroke="#e4e4e4" d="M261.9 278.9h12"/><path stroke="#e5e5e5" d="M296 256.2h12"/><path stroke="#e6e6e6" d="M239.1 256.2h12"/><path stroke="#e9e9e9" d="M250.5 244.8h12M284.6 244.8h12"/><path stroke="#eaeaea" d="M284.6 267.6h12"/><path stroke="#ececec" d="M261.9 244.8h23.4M250.5 267.6h12"/><path stroke="#efefef" d="M284.6 256.2h12"/><path stroke="#f0f0f0" d="M250.5 256.2h12"/><path stroke="#f2f2f2" d="M261.9 267.6h23.4"/><path stroke="#f6f6f6" d="M261.9 256.2h23.4"/></g></g>
<use href="#mesh"/>
</g>
<line x1="545.9" y1="749" x2="545.9" y2="701" stroke="#f0f000" stroke-width="1.1"/>
<path d="M545.9 691l-3.7 11h7.4z" fill="#d8d800"/>
<line x1="549.9" y1="749.3" x2="560.4" y2="749.3" stroke="#000" stroke-width="1.6"/>
<line x1="559.9" y1="749.3" x2="593.9" y2="749.6" stroke="#ff2020" stroke-width="1.3"/>
<path d="M604.2 749.6l-11.5 -3.7v7.4z" fill="#e00000"/>
<circle cx="545.9" cy="749" r="5" fill="#006010"/>
<text x="548.4" y="701.5" style="font-size:17.5px" fill="#000">Y</text>
<text x="548.4" y="747.7" style="font-size:17.5px" fill="#000">Z</text>
<text x="595.9" y="749" style="font-size:17.5px" fill="#000">X</text>
<line x1="1123.9" y1="749" x2="1123.9" y2="701" stroke="#f0f000" stroke-width="1.1"/>
<path d="M1123.9 691l-3.7 11h7.4z" fill="#d8d800"/>
<line x1="1127.9" y1="749.3" x2="1138.4" y2="749.3" stroke="#000" stroke-width="1.6"/>
<line x1="1137.9" y1="749.3" x2="1171.9" y2="749.6" stroke="#ff2020" stroke-width="1.3"/>
<path d="M1182.2 749.6l-11.5 -3.7v7.4z" fill="#e00000"/>
<circle cx="1123.9" cy="749" r="5" fill="#006010"/>
<text x="1126.4" y="701.5" style="font-size:17.5px" fill="#000">Y</text>
<text x="1126.4" y="747.7" style="font-size:17.5px" fill="#000">Z</text>
<text x="1173.9" y="749" style="font-size:17.5px" fill="#000">X</text>
<rect x="656.1" y="776.4" width="190.2" height="15.8" fill="url(#cb)"/>
<line x1="655.9" x2="655.9" y1="768.4" y2="780.4" stroke="#000" stroke-width="1"/>
<line x1="750.4" x2="750.4" y1="768.4" y2="780.4" stroke="#000" stroke-width="1"/>
<line x1="846.4" x2="846.4" y1="768.4" y2="780.4" stroke="#000" stroke-width="1"/>
<text x="749.7" y="740.8" text-anchor="middle" style="font-size:17px;fill:#1a1a1a" textLength="98.8" lengthAdjust="spacingAndGlyphs">Stress XX (Pa)</text>
<text x="656.2" y="760.8" text-anchor="middle" style="font-size:17px;fill:#111" textLength="63" lengthAdjust="spacingAndGlyphs">-2.0e+07</text>
<text x="750.3" y="760.8" text-anchor="middle" style="font-size:17px;fill:#111" textLength="41.4" lengthAdjust="spacingAndGlyphs">-1e+7</text>
<text x="846.7" y="760.8" text-anchor="middle" style="font-size:17px;fill:#111" textLength="57" lengthAdjust="spacingAndGlyphs">1.1e+05</text>
<rect x="1239.1" y="782.2" width="190.2" height="15.8" fill="url(#cb)"/>
<line x1="1238.8" x2="1238.8" y1="774.2" y2="786.2" stroke="#000" stroke-width="1"/>
<line x1="1348.5" x2="1348.5" y1="774.2" y2="786.2" stroke="#000" stroke-width="1"/>
<line x1="1429.5" x2="1429.5" y1="774.2" y2="786.2" stroke="#000" stroke-width="1"/>
<text x="1333.5" y="746.5" text-anchor="middle" style="font-size:17px;fill:#1a1a1a" textLength="96.6" lengthAdjust="spacingAndGlyphs">Stress YY (Pa)</text>
<text x="1239" y="766.6" text-anchor="middle" style="font-size:17px;fill:#111" textLength="63.3" lengthAdjust="spacingAndGlyphs">-2.3e+07</text>
<text x="1347.8" y="766.6" text-anchor="middle" style="font-size:17px;fill:#111" textLength="41.5" lengthAdjust="spacingAndGlyphs">-1e+7</text>
<text x="1429.2" y="766.6" text-anchor="middle" style="font-size:17px;fill:#111" textLength="63.5" lengthAdjust="spacingAndGlyphs">-4.0e+05</text>
</svg></body></html>
